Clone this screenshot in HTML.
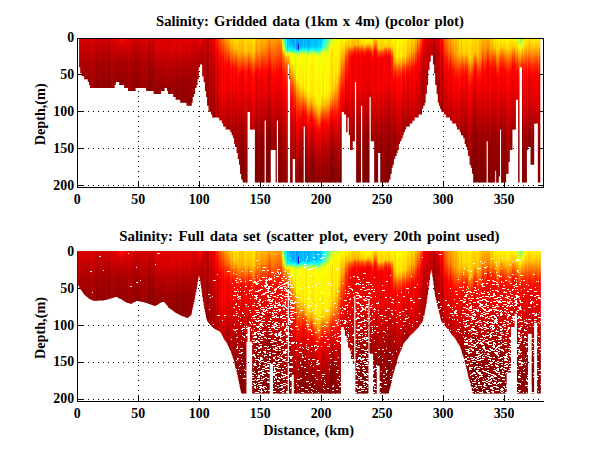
<!DOCTYPE html>
<html><head><meta charset="utf-8"><title>Salinity</title>
<style>
html,body{margin:0;padding:0;background:#fff;}
body{width:600px;height:451px;overflow:hidden;}
svg{display:block}
text{font-family:"Liberation Serif",serif;font-weight:bold;fill:#000;}
</style></head><body>
<svg width="600" height="451" viewBox="0 0 600 451">
<defs>
<linearGradient id="gb" gradientUnits="userSpaceOnUse" x1="0" y1="38" x2="0" y2="188"/>

<linearGradient id="g0" href="#gb"><stop offset="0.000" stop-color="#db0000"/><stop offset="0.233" stop-color="#a20000"/></linearGradient>
<linearGradient id="g1" href="#gb"><stop offset="0.000" stop-color="#d50000"/><stop offset="0.247" stop-color="#a00000"/></linearGradient>
<linearGradient id="g2" href="#gb"><stop offset="0.000" stop-color="#e20000"/><stop offset="0.260" stop-color="#ab0000"/></linearGradient>
<linearGradient id="g3" href="#gb"><stop offset="0.000" stop-color="#d60000"/><stop offset="0.273" stop-color="#9a0000"/></linearGradient>
<linearGradient id="g4" href="#gb"><stop offset="0.000" stop-color="#de0000"/><stop offset="0.147" stop-color="#b50000"/><stop offset="0.287" stop-color="#9e0000"/></linearGradient>
<linearGradient id="g5" href="#gb"><stop offset="0.000" stop-color="#dd0000"/><stop offset="0.147" stop-color="#b50000"/><stop offset="0.293" stop-color="#9d0000"/></linearGradient>
<linearGradient id="g6" href="#gb"><stop offset="0.000" stop-color="#d80000"/><stop offset="0.160" stop-color="#af0000"/><stop offset="0.307" stop-color="#980000"/></linearGradient>
<linearGradient id="g7" href="#gb"><stop offset="0.000" stop-color="#d40000"/><stop offset="0.160" stop-color="#ab0000"/><stop offset="0.313" stop-color="#940000"/></linearGradient>
<linearGradient id="g8" href="#gb"><stop offset="0.000" stop-color="#da0000"/><stop offset="0.153" stop-color="#b10000"/><stop offset="0.320" stop-color="#990000"/></linearGradient>
<linearGradient id="g9" href="#gb"><stop offset="0.000" stop-color="#d90000"/><stop offset="0.160" stop-color="#b00000"/><stop offset="0.327" stop-color="#980000"/></linearGradient>
<linearGradient id="g10" href="#gb"><stop offset="0.000" stop-color="#d60000"/><stop offset="0.160" stop-color="#ad0000"/><stop offset="0.333" stop-color="#940000"/></linearGradient>
<linearGradient id="g11" href="#gb"><stop offset="0.000" stop-color="#d80000"/><stop offset="0.147" stop-color="#af0000"/><stop offset="0.347" stop-color="#930000"/></linearGradient>
<linearGradient id="g12" href="#gb"><stop offset="0.000" stop-color="#e70000"/><stop offset="0.167" stop-color="#bd0000"/><stop offset="0.353" stop-color="#a40000"/></linearGradient>
<linearGradient id="g13" href="#gb"><stop offset="0.000" stop-color="#d90000"/><stop offset="0.173" stop-color="#b00000"/><stop offset="0.353" stop-color="#980000"/></linearGradient>
<linearGradient id="g14" href="#gb"><stop offset="0.000" stop-color="#d60000"/><stop offset="0.180" stop-color="#ad0000"/><stop offset="0.353" stop-color="#950000"/></linearGradient>
<linearGradient id="g15" href="#gb"><stop offset="0.000" stop-color="#cf0000"/><stop offset="0.173" stop-color="#a60000"/><stop offset="0.353" stop-color="#8e0000"/></linearGradient>
<linearGradient id="g16" href="#gb"><stop offset="0.000" stop-color="#ca0000"/><stop offset="0.160" stop-color="#a00000"/><stop offset="0.353" stop-color="#860000"/></linearGradient>
<linearGradient id="g17" href="#gb"><stop offset="0.000" stop-color="#d20000"/><stop offset="0.153" stop-color="#a90000"/><stop offset="0.353" stop-color="#8e0000"/></linearGradient>
<linearGradient id="g18" href="#gb"><stop offset="0.000" stop-color="#d60000"/><stop offset="0.147" stop-color="#ac0000"/><stop offset="0.353" stop-color="#900000"/></linearGradient>
<linearGradient id="g19" href="#gb"><stop offset="0.000" stop-color="#dc0000"/><stop offset="0.160" stop-color="#b30000"/><stop offset="0.353" stop-color="#990000"/></linearGradient>
<linearGradient id="g20" href="#gb"><stop offset="0.000" stop-color="#d60000"/><stop offset="0.160" stop-color="#ac0000"/><stop offset="0.353" stop-color="#920000"/></linearGradient>
<linearGradient id="g21" href="#gb"><stop offset="0.000" stop-color="#d10000"/><stop offset="0.147" stop-color="#a80000"/><stop offset="0.353" stop-color="#8c0000"/></linearGradient>
<linearGradient id="g22" href="#gb"><stop offset="0.000" stop-color="#ce0000"/><stop offset="0.153" stop-color="#a50000"/><stop offset="0.353" stop-color="#8a0000"/></linearGradient>
<linearGradient id="g23" href="#gb"><stop offset="0.000" stop-color="#dc0000"/><stop offset="0.173" stop-color="#b30000"/><stop offset="0.353" stop-color="#9b0000"/></linearGradient>
<linearGradient id="g24" href="#gb"><stop offset="0.000" stop-color="#d50000"/><stop offset="0.173" stop-color="#ab0000"/><stop offset="0.353" stop-color="#940000"/></linearGradient>
<linearGradient id="g25" href="#gb"><stop offset="0.000" stop-color="#d10000"/><stop offset="0.153" stop-color="#a80000"/><stop offset="0.353" stop-color="#8d0000"/></linearGradient>
<linearGradient id="g26" href="#gb"><stop offset="0.000" stop-color="#cb0000"/><stop offset="0.153" stop-color="#a10000"/><stop offset="0.353" stop-color="#860000"/></linearGradient>
<linearGradient id="g27" href="#gb"><stop offset="0.000" stop-color="#d50000"/><stop offset="0.167" stop-color="#ab0000"/><stop offset="0.353" stop-color="#920000"/></linearGradient>
<linearGradient id="g28" href="#gb"><stop offset="0.000" stop-color="#da0000"/><stop offset="0.167" stop-color="#b00000"/><stop offset="0.353" stop-color="#970000"/></linearGradient>
<linearGradient id="g29" href="#gb"><stop offset="0.000" stop-color="#de0000"/><stop offset="0.153" stop-color="#b10000"/><stop offset="0.353" stop-color="#960000"/></linearGradient>
<linearGradient id="g30" href="#gb"><stop offset="0.000" stop-color="#e10000"/><stop offset="0.153" stop-color="#b00000"/><stop offset="0.353" stop-color="#940000"/></linearGradient>
<linearGradient id="g31" href="#gb"><stop offset="0.000" stop-color="#e80000"/><stop offset="0.167" stop-color="#b10000"/><stop offset="0.327" stop-color="#9a0000"/></linearGradient>
<linearGradient id="g32" href="#gb"><stop offset="0.000" stop-color="#e40000"/><stop offset="0.180" stop-color="#a90000"/><stop offset="0.320" stop-color="#930000"/></linearGradient>
<linearGradient id="g33" href="#gb"><stop offset="0.000" stop-color="#e80000"/><stop offset="0.040" stop-color="#cf0000"/><stop offset="0.160" stop-color="#a70000"/><stop offset="0.320" stop-color="#8f0000"/></linearGradient>
<linearGradient id="g34" href="#gb"><stop offset="0.000" stop-color="#f80000"/><stop offset="0.040" stop-color="#d60000"/><stop offset="0.147" stop-color="#aa0000"/><stop offset="0.327" stop-color="#8f0000"/></linearGradient>
<linearGradient id="g35" href="#gb"><stop offset="0.000" stop-color="#ff0800"/><stop offset="0.060" stop-color="#cd0000"/><stop offset="0.147" stop-color="#aa0000"/><stop offset="0.327" stop-color="#8c0000"/></linearGradient>
<linearGradient id="g36" href="#gb"><stop offset="0.000" stop-color="#ff2400"/><stop offset="0.020" stop-color="#ff0000"/><stop offset="0.053" stop-color="#db0000"/><stop offset="0.133" stop-color="#b50000"/><stop offset="0.247" stop-color="#9c0000"/><stop offset="0.333" stop-color="#950000"/></linearGradient>
<linearGradient id="g37" href="#gb"><stop offset="0.000" stop-color="#ff1300"/><stop offset="0.013" stop-color="#fe0000"/><stop offset="0.060" stop-color="#d10000"/><stop offset="0.140" stop-color="#ae0000"/><stop offset="0.247" stop-color="#970000"/><stop offset="0.340" stop-color="#900000"/></linearGradient>
<linearGradient id="g38" href="#gb"><stop offset="0.000" stop-color="#ff0500"/><stop offset="0.060" stop-color="#d40000"/><stop offset="0.147" stop-color="#b10000"/><stop offset="0.347" stop-color="#940000"/></linearGradient>
<linearGradient id="g39" href="#gb"><stop offset="0.000" stop-color="#f00000"/><stop offset="0.040" stop-color="#d70000"/><stop offset="0.167" stop-color="#ad0000"/><stop offset="0.353" stop-color="#940000"/></linearGradient>
<linearGradient id="g40" href="#gb"><stop offset="0.000" stop-color="#e40000"/><stop offset="0.167" stop-color="#a60000"/><stop offset="0.353" stop-color="#8d0000"/></linearGradient>
<linearGradient id="g41" href="#gb"><stop offset="0.000" stop-color="#e70000"/><stop offset="0.147" stop-color="#ad0000"/><stop offset="0.360" stop-color="#910000"/></linearGradient>
<linearGradient id="g42" href="#gb"><stop offset="0.000" stop-color="#ee0000"/><stop offset="0.160" stop-color="#b80000"/><stop offset="0.373" stop-color="#9d0000"/></linearGradient>
<linearGradient id="g43" href="#gb"><stop offset="0.000" stop-color="#e00000"/><stop offset="0.160" stop-color="#af0000"/><stop offset="0.373" stop-color="#930000"/></linearGradient>
<linearGradient id="g44" href="#gb"><stop offset="0.000" stop-color="#de0000"/><stop offset="0.147" stop-color="#b10000"/><stop offset="0.373" stop-color="#940000"/></linearGradient>
<linearGradient id="g45" href="#gb"><stop offset="0.000" stop-color="#df0000"/><stop offset="0.147" stop-color="#b60000"/><stop offset="0.373" stop-color="#990000"/></linearGradient>
<linearGradient id="g46" href="#gb"><stop offset="0.000" stop-color="#db0000"/><stop offset="0.153" stop-color="#b20000"/><stop offset="0.373" stop-color="#950000"/></linearGradient>
<linearGradient id="g47" href="#gb"><stop offset="0.000" stop-color="#d00000"/><stop offset="0.153" stop-color="#a70000"/><stop offset="0.373" stop-color="#8a0000"/></linearGradient>
<linearGradient id="g48" href="#gb"><stop offset="0.000" stop-color="#cc0000"/><stop offset="0.160" stop-color="#a20000"/><stop offset="0.353" stop-color="#880000"/></linearGradient>
<linearGradient id="g49" href="#gb"><stop offset="0.000" stop-color="#d90000"/><stop offset="0.140" stop-color="#b00000"/><stop offset="0.353" stop-color="#940000"/></linearGradient>
<linearGradient id="g50" href="#gb"><stop offset="0.000" stop-color="#d00000"/><stop offset="0.147" stop-color="#a70000"/><stop offset="0.353" stop-color="#8b0000"/></linearGradient>
<linearGradient id="g51" href="#gb"><stop offset="0.000" stop-color="#cf0000"/><stop offset="0.173" stop-color="#a50000"/><stop offset="0.353" stop-color="#8d0000"/></linearGradient>
<linearGradient id="g52" href="#gb"><stop offset="0.000" stop-color="#dd0000"/><stop offset="0.173" stop-color="#b50000"/><stop offset="0.353" stop-color="#9d0000"/></linearGradient>
<linearGradient id="g53" href="#gb"><stop offset="0.000" stop-color="#d60000"/><stop offset="0.180" stop-color="#ad0000"/><stop offset="0.353" stop-color="#960000"/></linearGradient>
<linearGradient id="g54" href="#gb"><stop offset="0.000" stop-color="#d60000"/><stop offset="0.180" stop-color="#ad0000"/><stop offset="0.353" stop-color="#960000"/></linearGradient>
<linearGradient id="g55" href="#gb"><stop offset="0.000" stop-color="#d50000"/><stop offset="0.180" stop-color="#ac0000"/><stop offset="0.353" stop-color="#950000"/></linearGradient>
<linearGradient id="g56" href="#gb"><stop offset="0.000" stop-color="#e00000"/><stop offset="0.160" stop-color="#b70000"/><stop offset="0.360" stop-color="#9c0000"/></linearGradient>
<linearGradient id="g57" href="#gb"><stop offset="0.000" stop-color="#d80000"/><stop offset="0.167" stop-color="#af0000"/><stop offset="0.373" stop-color="#940000"/></linearGradient>
<linearGradient id="g58" href="#gb"><stop offset="0.000" stop-color="#d00000"/><stop offset="0.153" stop-color="#a60000"/><stop offset="0.373" stop-color="#890000"/></linearGradient>
<linearGradient id="g59" href="#gb"><stop offset="0.000" stop-color="#ce0000"/><stop offset="0.147" stop-color="#a50000"/><stop offset="0.373" stop-color="#880000"/></linearGradient>
<linearGradient id="g60" href="#gb"><stop offset="0.000" stop-color="#cc0000"/><stop offset="0.220" stop-color="#930000"/><stop offset="0.373" stop-color="#840000"/></linearGradient>
<linearGradient id="g61" href="#gb"><stop offset="0.000" stop-color="#dc0000"/><stop offset="0.173" stop-color="#b00000"/><stop offset="0.373" stop-color="#940000"/></linearGradient>
<linearGradient id="g62" href="#gb"><stop offset="0.000" stop-color="#d10000"/><stop offset="0.193" stop-color="#a40000"/><stop offset="0.373" stop-color="#8a0000"/></linearGradient>
<linearGradient id="g63" href="#gb"><stop offset="0.000" stop-color="#da0000"/><stop offset="0.180" stop-color="#ae0000"/><stop offset="0.393" stop-color="#8f0000"/></linearGradient>
<linearGradient id="g64" href="#gb"><stop offset="0.000" stop-color="#e90000"/><stop offset="0.100" stop-color="#d90000"/><stop offset="0.193" stop-color="#bb0000"/><stop offset="0.393" stop-color="#9d0000"/></linearGradient>
<linearGradient id="g65" href="#gb"><stop offset="0.000" stop-color="#de0000"/><stop offset="0.287" stop-color="#9a0000"/><stop offset="0.393" stop-color="#8e0000"/></linearGradient>
<linearGradient id="g66" href="#gb"><stop offset="0.000" stop-color="#e70000"/><stop offset="0.093" stop-color="#d80000"/><stop offset="0.173" stop-color="#b90000"/><stop offset="0.307" stop-color="#9c0000"/><stop offset="0.393" stop-color="#950000"/></linearGradient>
<linearGradient id="g67" href="#gb"><stop offset="0.000" stop-color="#e20000"/><stop offset="0.093" stop-color="#d30000"/><stop offset="0.173" stop-color="#b50000"/><stop offset="0.313" stop-color="#970000"/><stop offset="0.393" stop-color="#900000"/></linearGradient>
<linearGradient id="g68" href="#gb"><stop offset="0.000" stop-color="#e60000"/><stop offset="0.087" stop-color="#d70000"/><stop offset="0.167" stop-color="#b80000"/><stop offset="0.293" stop-color="#9a0000"/><stop offset="0.380" stop-color="#930000"/></linearGradient>
<linearGradient id="g69" href="#gb"><stop offset="0.000" stop-color="#de0000"/><stop offset="0.093" stop-color="#ce0000"/><stop offset="0.173" stop-color="#b00000"/><stop offset="0.307" stop-color="#920000"/><stop offset="0.373" stop-color="#8d0000"/></linearGradient>
<linearGradient id="g70" href="#gb"><stop offset="0.000" stop-color="#e40000"/><stop offset="0.373" stop-color="#950000"/></linearGradient>
<linearGradient id="g71" href="#gb"><stop offset="0.000" stop-color="#e70000"/><stop offset="0.093" stop-color="#d80000"/><stop offset="0.173" stop-color="#ba0000"/><stop offset="0.313" stop-color="#9b0000"/><stop offset="0.373" stop-color="#960000"/></linearGradient>
<linearGradient id="g72" href="#gb"><stop offset="0.000" stop-color="#e00000"/><stop offset="0.360" stop-color="#900000"/></linearGradient>
<linearGradient id="g73" href="#gb"><stop offset="0.000" stop-color="#e40000"/><stop offset="0.093" stop-color="#d50000"/><stop offset="0.180" stop-color="#b50000"/><stop offset="0.367" stop-color="#940000"/></linearGradient>
<linearGradient id="g74" href="#gb"><stop offset="0.000" stop-color="#e80000"/><stop offset="0.380" stop-color="#990000"/></linearGradient>
<linearGradient id="g75" href="#gb"><stop offset="0.000" stop-color="#de0000"/><stop offset="0.387" stop-color="#8e0000"/></linearGradient>
<linearGradient id="g76" href="#gb"><stop offset="0.000" stop-color="#e80000"/><stop offset="0.100" stop-color="#d80000"/><stop offset="0.187" stop-color="#b90000"/><stop offset="0.327" stop-color="#9c0000"/><stop offset="0.400" stop-color="#960000"/></linearGradient>
<linearGradient id="g77" href="#gb"><stop offset="0.000" stop-color="#e90000"/><stop offset="0.100" stop-color="#da0000"/><stop offset="0.187" stop-color="#bb0000"/><stop offset="0.327" stop-color="#9e0000"/><stop offset="0.400" stop-color="#980000"/></linearGradient>
<linearGradient id="g78" href="#gb"><stop offset="0.000" stop-color="#e90000"/><stop offset="0.093" stop-color="#da0000"/><stop offset="0.180" stop-color="#bb0000"/><stop offset="0.320" stop-color="#9d0000"/><stop offset="0.407" stop-color="#960000"/></linearGradient>
<linearGradient id="g79" href="#gb"><stop offset="0.000" stop-color="#ee0000"/><stop offset="0.087" stop-color="#df0000"/><stop offset="0.160" stop-color="#c10000"/><stop offset="0.287" stop-color="#a30000"/><stop offset="0.413" stop-color="#980000"/></linearGradient>
<linearGradient id="g80" href="#gb"><stop offset="0.000" stop-color="#e90000"/><stop offset="0.093" stop-color="#da0000"/><stop offset="0.180" stop-color="#bb0000"/><stop offset="0.320" stop-color="#9d0000"/><stop offset="0.420" stop-color="#950000"/></linearGradient>
<linearGradient id="g81" href="#gb"><stop offset="0.000" stop-color="#da0000"/><stop offset="0.087" stop-color="#cb0000"/><stop offset="0.167" stop-color="#ad0000"/><stop offset="0.300" stop-color="#8e0000"/><stop offset="0.427" stop-color="#840000"/></linearGradient>
<linearGradient id="g82" href="#gb"><stop offset="0.000" stop-color="#eb0000"/><stop offset="0.087" stop-color="#dc0000"/><stop offset="0.167" stop-color="#bd0000"/><stop offset="0.300" stop-color="#9f0000"/><stop offset="0.433" stop-color="#940000"/></linearGradient>
<linearGradient id="g83" href="#gb"><stop offset="0.000" stop-color="#e50000"/><stop offset="0.093" stop-color="#d70000"/><stop offset="0.180" stop-color="#b80000"/><stop offset="0.327" stop-color="#990000"/><stop offset="0.433" stop-color="#910000"/></linearGradient>
<linearGradient id="g84" href="#gb"><stop offset="0.000" stop-color="#ec0000"/><stop offset="0.087" stop-color="#de0000"/><stop offset="0.167" stop-color="#bf0000"/><stop offset="0.300" stop-color="#a10000"/><stop offset="0.440" stop-color="#950000"/></linearGradient>
<linearGradient id="g85" href="#gb"><stop offset="0.000" stop-color="#e90000"/><stop offset="0.093" stop-color="#d90000"/><stop offset="0.173" stop-color="#bb0000"/><stop offset="0.307" stop-color="#9d0000"/><stop offset="0.453" stop-color="#920000"/></linearGradient>
<linearGradient id="g86" href="#gb"><stop offset="0.000" stop-color="#dc0000"/><stop offset="0.100" stop-color="#cd0000"/><stop offset="0.187" stop-color="#ae0000"/><stop offset="0.333" stop-color="#900000"/><stop offset="0.453" stop-color="#870000"/></linearGradient>
<linearGradient id="g87" href="#gb"><stop offset="0.000" stop-color="#e00000"/><stop offset="0.093" stop-color="#d10000"/><stop offset="0.180" stop-color="#b20000"/><stop offset="0.320" stop-color="#950000"/><stop offset="0.453" stop-color="#8a0000"/></linearGradient>
<linearGradient id="g88" href="#gb"><stop offset="0.000" stop-color="#e90000"/><stop offset="0.087" stop-color="#da0000"/><stop offset="0.167" stop-color="#bb0000"/><stop offset="0.293" stop-color="#9e0000"/><stop offset="0.453" stop-color="#920000"/></linearGradient>
<linearGradient id="g89" href="#gb"><stop offset="0.000" stop-color="#e50000"/><stop offset="0.073" stop-color="#d60000"/><stop offset="0.140" stop-color="#b80000"/><stop offset="0.280" stop-color="#990000"/><stop offset="0.453" stop-color="#8e0000"/></linearGradient>
<linearGradient id="g90" href="#gb"><stop offset="0.000" stop-color="#eb0000"/><stop offset="0.280" stop-color="#9e0000"/><stop offset="0.473" stop-color="#920000"/></linearGradient>
<linearGradient id="g91" href="#gb"><stop offset="0.000" stop-color="#ea0000"/><stop offset="0.087" stop-color="#db0000"/><stop offset="0.160" stop-color="#bd0000"/><stop offset="0.293" stop-color="#9e0000"/><stop offset="0.473" stop-color="#920000"/></linearGradient>
<linearGradient id="g92" href="#gb"><stop offset="0.000" stop-color="#eb0000"/><stop offset="0.087" stop-color="#dc0000"/><stop offset="0.167" stop-color="#bd0000"/><stop offset="0.293" stop-color="#a00000"/><stop offset="0.473" stop-color="#930000"/></linearGradient>
<linearGradient id="g93" href="#gb"><stop offset="0.000" stop-color="#ea0000"/><stop offset="0.287" stop-color="#9f0000"/><stop offset="0.473" stop-color="#930000"/></linearGradient>
<linearGradient id="g94" href="#gb"><stop offset="0.000" stop-color="#e10000"/><stop offset="0.307" stop-color="#980000"/><stop offset="0.447" stop-color="#8d0000"/></linearGradient>
<linearGradient id="g95" href="#gb"><stop offset="0.000" stop-color="#dd0000"/><stop offset="0.173" stop-color="#af0000"/><stop offset="0.413" stop-color="#8d0000"/></linearGradient>
<linearGradient id="g96" href="#gb"><stop offset="0.000" stop-color="#dc0000"/><stop offset="0.173" stop-color="#ad0000"/><stop offset="0.387" stop-color="#900000"/></linearGradient>
<linearGradient id="g97" href="#gb"><stop offset="0.000" stop-color="#de0000"/><stop offset="0.180" stop-color="#b00000"/><stop offset="0.353" stop-color="#980000"/></linearGradient>
<linearGradient id="g98" href="#gb"><stop offset="0.000" stop-color="#e40000"/><stop offset="0.167" stop-color="#b70000"/><stop offset="0.320" stop-color="#a00000"/></linearGradient>
<linearGradient id="g99" href="#gb"><stop offset="0.000" stop-color="#f40000"/><stop offset="0.053" stop-color="#d20000"/><stop offset="0.113" stop-color="#bd0000"/><stop offset="0.280" stop-color="#a10000"/></linearGradient>
<linearGradient id="g100" href="#gb"><stop offset="0.000" stop-color="#ff1400"/><stop offset="0.020" stop-color="#fe0000"/><stop offset="0.067" stop-color="#d60000"/><stop offset="0.133" stop-color="#bf0000"/><stop offset="0.207" stop-color="#b60000"/></linearGradient>
<linearGradient id="g101" href="#gb"><stop offset="0.000" stop-color="#ff1a00"/><stop offset="0.020" stop-color="#ff0000"/><stop offset="0.067" stop-color="#cc0000"/><stop offset="0.133" stop-color="#b30000"/><stop offset="0.227" stop-color="#ac0000"/></linearGradient>
<linearGradient id="g102" href="#gb"><stop offset="0.000" stop-color="#ff0100"/><stop offset="0.060" stop-color="#c90000"/><stop offset="0.113" stop-color="#b70000"/><stop offset="0.280" stop-color="#a70000"/></linearGradient>
<linearGradient id="g103" href="#gb"><stop offset="0.000" stop-color="#e30000"/><stop offset="0.053" stop-color="#c70000"/><stop offset="0.113" stop-color="#b70000"/><stop offset="0.340" stop-color="#a10000"/></linearGradient>
<linearGradient id="g104" href="#gb"><stop offset="0.000" stop-color="#d20000"/><stop offset="0.220" stop-color="#b00000"/><stop offset="0.393" stop-color="#a60000"/></linearGradient>
<linearGradient id="g105" href="#gb"><stop offset="0.000" stop-color="#e20000"/><stop offset="0.233" stop-color="#c40000"/><stop offset="0.433" stop-color="#b90000"/></linearGradient>
<linearGradient id="g106" href="#gb"><stop offset="0.000" stop-color="#bc0000"/><stop offset="0.227" stop-color="#a20000"/><stop offset="0.473" stop-color="#940000"/></linearGradient>
<linearGradient id="g107" href="#gb"><stop offset="0.000" stop-color="#bf0000"/><stop offset="0.207" stop-color="#a20000"/><stop offset="0.480" stop-color="#910000"/></linearGradient>
<linearGradient id="g108" href="#gb"><stop offset="0.000" stop-color="#e90000"/><stop offset="0.200" stop-color="#c80000"/><stop offset="0.500" stop-color="#b20000"/></linearGradient>
<linearGradient id="g109" href="#gb"><stop offset="0.000" stop-color="#df0000"/><stop offset="0.213" stop-color="#b90000"/><stop offset="0.513" stop-color="#a30000"/></linearGradient>
<linearGradient id="g110" href="#gb"><stop offset="0.000" stop-color="#dd0000"/><stop offset="0.073" stop-color="#c60000"/><stop offset="0.220" stop-color="#b10000"/><stop offset="0.527" stop-color="#990000"/></linearGradient>
<linearGradient id="g111" href="#gb"><stop offset="0.000" stop-color="#ff0600"/><stop offset="0.147" stop-color="#da0000"/><stop offset="0.540" stop-color="#b30000"/></linearGradient>
<linearGradient id="g112" href="#gb"><stop offset="0.000" stop-color="#ee0000"/><stop offset="0.053" stop-color="#d50000"/><stop offset="0.147" stop-color="#bd0000"/><stop offset="0.547" stop-color="#910000"/></linearGradient>
<linearGradient id="g113" href="#gb"><stop offset="0.000" stop-color="#ff1600"/><stop offset="0.040" stop-color="#ff0000"/><stop offset="0.147" stop-color="#dc0000"/><stop offset="0.547" stop-color="#ad0000"/></linearGradient>
<linearGradient id="g114" href="#gb"><stop offset="0.000" stop-color="#ff2d00"/><stop offset="0.093" stop-color="#ff0000"/><stop offset="0.153" stop-color="#eb0000"/><stop offset="0.553" stop-color="#bb0000"/></linearGradient>
<linearGradient id="g115" href="#gb"><stop offset="0.000" stop-color="#ff1f00"/><stop offset="0.053" stop-color="#fc0000"/><stop offset="0.140" stop-color="#d70000"/><stop offset="0.193" stop-color="#cc0000"/><stop offset="0.553" stop-color="#9c0000"/></linearGradient>
<linearGradient id="g116" href="#gb"><stop offset="0.000" stop-color="#ff3d00"/><stop offset="0.100" stop-color="#ff0100"/><stop offset="0.200" stop-color="#de0000"/><stop offset="0.320" stop-color="#d80000"/><stop offset="0.553" stop-color="#ad0000"/></linearGradient>
<linearGradient id="g117" href="#gb"><stop offset="0.000" stop-color="#ff5900"/><stop offset="0.127" stop-color="#ff0b00"/><stop offset="0.160" stop-color="#fe0000"/><stop offset="0.213" stop-color="#ef0000"/><stop offset="0.340" stop-color="#ed0000"/><stop offset="0.560" stop-color="#c00000"/></linearGradient>
<linearGradient id="g118" href="#gb"><stop offset="0.000" stop-color="#ff5700"/><stop offset="0.127" stop-color="#ff0000"/><stop offset="0.213" stop-color="#e20000"/><stop offset="0.333" stop-color="#e40000"/><stop offset="0.567" stop-color="#ae0000"/></linearGradient>
<linearGradient id="g119" href="#gb"><stop offset="0.000" stop-color="#ff8900"/><stop offset="0.113" stop-color="#ff2e00"/><stop offset="0.193" stop-color="#ff0a00"/><stop offset="0.300" stop-color="#ff0e00"/><stop offset="0.367" stop-color="#ff0000"/><stop offset="0.580" stop-color="#c20000"/></linearGradient>
<linearGradient id="g120" href="#gb"><stop offset="0.000" stop-color="#ff6a00"/><stop offset="0.140" stop-color="#ff0000"/><stop offset="0.207" stop-color="#df0000"/><stop offset="0.333" stop-color="#de0000"/><stop offset="0.613" stop-color="#980000"/></linearGradient>
<linearGradient id="g121" href="#gb"><stop offset="0.000" stop-color="#ff9800"/><stop offset="0.120" stop-color="#ff3300"/><stop offset="0.193" stop-color="#ff0400"/><stop offset="0.320" stop-color="#fe0000"/><stop offset="0.613" stop-color="#b20000"/></linearGradient>
<linearGradient id="g122" href="#gb"><stop offset="0.000" stop-color="#ff9a00"/><stop offset="0.180" stop-color="#fe0000"/><stop offset="0.387" stop-color="#e20000"/><stop offset="0.620" stop-color="#a20000"/></linearGradient>
<linearGradient id="g123" href="#gb"><stop offset="0.000" stop-color="#ffb000"/><stop offset="0.053" stop-color="#ff8600"/><stop offset="0.187" stop-color="#ff0300"/><stop offset="0.307" stop-color="#f90000"/><stop offset="0.633" stop-color="#a40000"/></linearGradient>
<linearGradient id="g124" href="#gb"><stop offset="0.000" stop-color="#ffb100"/><stop offset="0.047" stop-color="#ff8a00"/><stop offset="0.160" stop-color="#ff0100"/><stop offset="0.353" stop-color="#e00000"/><stop offset="0.653" stop-color="#940000"/></linearGradient>
<linearGradient id="g125" href="#gb"><stop offset="0.000" stop-color="#ffb400"/><stop offset="0.060" stop-color="#ff8800"/><stop offset="0.173" stop-color="#ff0200"/><stop offset="0.367" stop-color="#db0000"/><stop offset="0.667" stop-color="#8c0000"/></linearGradient>
<linearGradient id="g126" href="#gb"><stop offset="0.000" stop-color="#ffd100"/><stop offset="0.067" stop-color="#ffa800"/><stop offset="0.207" stop-color="#ff0c00"/><stop offset="0.320" stop-color="#ff0000"/><stop offset="0.687" stop-color="#a60000"/></linearGradient>
<linearGradient id="g127" href="#gb"><stop offset="0.000" stop-color="#ffc600"/><stop offset="0.067" stop-color="#ffa100"/><stop offset="0.193" stop-color="#ff0100"/><stop offset="0.387" stop-color="#dc0000"/><stop offset="0.713" stop-color="#8c0000"/></linearGradient>
<linearGradient id="g128" href="#gb"><stop offset="0.000" stop-color="#ffdc00"/><stop offset="0.067" stop-color="#ffbb00"/><stop offset="0.207" stop-color="#ff0800"/><stop offset="0.320" stop-color="#f80000"/><stop offset="0.633" stop-color="#a70000"/><stop offset="0.733" stop-color="#970000"/></linearGradient>
<linearGradient id="g129" href="#gb"><stop offset="0.000" stop-color="#ffe200"/><stop offset="0.067" stop-color="#ffc300"/><stop offset="0.200" stop-color="#ff0f00"/><stop offset="0.307" stop-color="#fd0000"/><stop offset="0.607" stop-color="#ac0000"/><stop offset="0.767" stop-color="#970000"/></linearGradient>
<linearGradient id="g130" href="#gb"><stop offset="0.000" stop-color="#ffdb00"/><stop offset="0.067" stop-color="#ffbc00"/><stop offset="0.187" stop-color="#ff1100"/><stop offset="0.213" stop-color="#ff0400"/><stop offset="0.360" stop-color="#e90000"/><stop offset="0.593" stop-color="#a60000"/><stop offset="0.800" stop-color="#8e0000"/></linearGradient>
<linearGradient id="g131" href="#gb"><stop offset="0.000" stop-color="#ffe200"/><stop offset="0.073" stop-color="#ffc300"/><stop offset="0.193" stop-color="#ff2000"/><stop offset="0.220" stop-color="#ff0d00"/><stop offset="0.313" stop-color="#ff0000"/><stop offset="0.607" stop-color="#af0000"/><stop offset="0.833" stop-color="#950000"/></linearGradient>
<linearGradient id="g132" href="#gb"><stop offset="0.000" stop-color="#ffde00"/><stop offset="0.087" stop-color="#ffc200"/><stop offset="0.220" stop-color="#ff2400"/><stop offset="0.253" stop-color="#ff0a00"/><stop offset="0.347" stop-color="#fe0000"/><stop offset="0.660" stop-color="#ad0000"/><stop offset="0.867" stop-color="#950000"/></linearGradient>
<linearGradient id="g133" href="#gb"><stop offset="0.000" stop-color="#ffc600"/><stop offset="0.093" stop-color="#ffab00"/><stop offset="0.240" stop-color="#ff0100"/><stop offset="0.253" stop-color="#f30000"/><stop offset="0.420" stop-color="#da0000"/><stop offset="0.660" stop-color="#980000"/><stop offset="0.907" stop-color="#800000"/></linearGradient>
<linearGradient id="g134" href="#gb"><stop offset="0.000" stop-color="#ffd300"/><stop offset="0.080" stop-color="#ffbf00"/><stop offset="0.133" stop-color="#ff8200"/><stop offset="0.227" stop-color="#ff0300"/><stop offset="0.387" stop-color="#e70000"/><stop offset="0.627" stop-color="#a50000"/><stop offset="0.940" stop-color="#840000"/></linearGradient>
<linearGradient id="g135" href="#gb"><stop offset="0.000" stop-color="#ffc400"/><stop offset="0.087" stop-color="#ffaa00"/><stop offset="0.220" stop-color="#ff0000"/><stop offset="0.240" stop-color="#f10000"/><stop offset="0.393" stop-color="#d70000"/><stop offset="0.640" stop-color="#950000"/><stop offset="0.813" stop-color="#800000"/><stop offset="0.967" stop-color="#800000"/></linearGradient>
<linearGradient id="g136" href="#gb"><stop offset="0.000" stop-color="#ffcd00"/><stop offset="0.080" stop-color="#ffb800"/><stop offset="0.227" stop-color="#fd0000"/><stop offset="0.380" stop-color="#e10000"/><stop offset="0.627" stop-color="#9d0000"/><stop offset="0.720" stop-color="#8e0000"/><stop offset="0.980" stop-color="#800000"/></linearGradient>
<linearGradient id="g137" href="#gb"><stop offset="0.000" stop-color="#ffe000"/><stop offset="0.087" stop-color="#ffc200"/><stop offset="0.180" stop-color="#ff3f00"/><stop offset="0.213" stop-color="#ff1600"/><stop offset="0.233" stop-color="#ff0b00"/><stop offset="0.313" stop-color="#fe0000"/><stop offset="0.687" stop-color="#a10000"/><stop offset="0.980" stop-color="#8c0000"/></linearGradient>
<linearGradient id="g138" href="#gb"><stop offset="0.000" stop-color="#ffeb00"/><stop offset="0.093" stop-color="#ffce00"/><stop offset="0.193" stop-color="#ff4c00"/><stop offset="0.247" stop-color="#ff1700"/><stop offset="0.387" stop-color="#ff0000"/><stop offset="0.653" stop-color="#ba0000"/><stop offset="0.980" stop-color="#990000"/></linearGradient>
<linearGradient id="g139" href="#gb"><stop offset="0.000" stop-color="#ffdc00"/><stop offset="0.093" stop-color="#ffbf00"/><stop offset="0.187" stop-color="#ff3e00"/><stop offset="0.240" stop-color="#ff0800"/><stop offset="0.313" stop-color="#fd0000"/><stop offset="0.713" stop-color="#9d0000"/><stop offset="0.980" stop-color="#880000"/></linearGradient>
<linearGradient id="g140" href="#gb"><stop offset="0.000" stop-color="#ffd100"/><stop offset="0.080" stop-color="#ffb600"/><stop offset="0.167" stop-color="#ff3100"/><stop offset="0.207" stop-color="#ff0100"/><stop offset="0.353" stop-color="#e20000"/><stop offset="0.593" stop-color="#a00000"/><stop offset="0.687" stop-color="#910000"/><stop offset="0.980" stop-color="#800000"/></linearGradient>
<linearGradient id="g141" href="#gb"><stop offset="0.000" stop-color="#ffd500"/><stop offset="0.080" stop-color="#ffbb00"/><stop offset="0.167" stop-color="#ff3600"/><stop offset="0.213" stop-color="#ff0000"/><stop offset="0.353" stop-color="#e50000"/><stop offset="0.593" stop-color="#a30000"/><stop offset="0.980" stop-color="#800000"/></linearGradient>
<linearGradient id="g142" href="#gb"><stop offset="0.000" stop-color="#ffe000"/><stop offset="0.093" stop-color="#ffc200"/><stop offset="0.180" stop-color="#ff4400"/><stop offset="0.233" stop-color="#ff0a00"/><stop offset="0.307" stop-color="#ff0000"/><stop offset="0.700" stop-color="#9e0000"/><stop offset="0.980" stop-color="#8a0000"/></linearGradient>
<linearGradient id="g143" href="#gb"><stop offset="0.000" stop-color="#ffca00"/><stop offset="0.093" stop-color="#ffb000"/><stop offset="0.187" stop-color="#ff2f00"/><stop offset="0.233" stop-color="#fc0000"/><stop offset="0.633" stop-color="#970000"/><stop offset="0.827" stop-color="#800000"/><stop offset="0.980" stop-color="#800000"/></linearGradient>
<linearGradient id="g144" href="#gb"><stop offset="0.000" stop-color="#ffe900"/><stop offset="0.100" stop-color="#ffcc00"/><stop offset="0.200" stop-color="#ff4c00"/><stop offset="0.260" stop-color="#ff1500"/><stop offset="0.393" stop-color="#ff0000"/><stop offset="0.660" stop-color="#b90000"/><stop offset="0.980" stop-color="#970000"/></linearGradient>
<linearGradient id="g145" href="#gb"><stop offset="0.000" stop-color="#ffe000"/><stop offset="0.093" stop-color="#ffbf00"/><stop offset="0.187" stop-color="#ff4300"/><stop offset="0.240" stop-color="#ff0f00"/><stop offset="0.340" stop-color="#ff0000"/><stop offset="0.627" stop-color="#b30000"/><stop offset="0.720" stop-color="#a40000"/><stop offset="0.980" stop-color="#8f0000"/></linearGradient>
<linearGradient id="g146" href="#gb"><stop offset="0.000" stop-color="#ffcc00"/><stop offset="0.093" stop-color="#ffa800"/><stop offset="0.187" stop-color="#ff3200"/><stop offset="0.240" stop-color="#ff0000"/><stop offset="0.393" stop-color="#e40000"/><stop offset="0.640" stop-color="#a10000"/><stop offset="0.980" stop-color="#800000"/></linearGradient>
<linearGradient id="g147" href="#gb"><stop offset="0.000" stop-color="#ffaf00"/><stop offset="0.087" stop-color="#ff9000"/><stop offset="0.213" stop-color="#ff0100"/><stop offset="0.253" stop-color="#e30000"/><stop offset="0.407" stop-color="#ca0000"/><stop offset="0.660" stop-color="#880000"/><stop offset="0.980" stop-color="#800000"/></linearGradient>
<linearGradient id="g148" href="#gb"><stop offset="0.000" stop-color="#ffc200"/><stop offset="0.080" stop-color="#ffa400"/><stop offset="0.227" stop-color="#fc0000"/><stop offset="0.387" stop-color="#e10000"/><stop offset="0.633" stop-color="#9e0000"/><stop offset="0.980" stop-color="#800000"/></linearGradient>
<linearGradient id="g149" href="#gb"><stop offset="0.000" stop-color="#ffcf00"/><stop offset="0.087" stop-color="#ffab00"/><stop offset="0.180" stop-color="#ff4300"/><stop offset="0.240" stop-color="#ff0c00"/><stop offset="0.340" stop-color="#fe0000"/><stop offset="0.747" stop-color="#a10000"/><stop offset="0.980" stop-color="#8e0000"/></linearGradient>
<linearGradient id="g150" href="#gb"><stop offset="0.000" stop-color="#ffb800"/><stop offset="0.087" stop-color="#ff9200"/><stop offset="0.233" stop-color="#fd0000"/><stop offset="0.407" stop-color="#df0000"/><stop offset="0.660" stop-color="#9c0000"/><stop offset="0.753" stop-color="#8d0000"/><stop offset="0.980" stop-color="#800000"/></linearGradient>
<linearGradient id="g151" href="#gb"><stop offset="0.000" stop-color="#ffb200"/><stop offset="0.080" stop-color="#ff8a00"/><stop offset="0.207" stop-color="#ff0000"/><stop offset="0.693" stop-color="#8c0000"/><stop offset="0.980" stop-color="#800000"/></linearGradient>
<linearGradient id="g152" href="#gb"><stop offset="0.000" stop-color="#ffab00"/><stop offset="0.073" stop-color="#ff8a00"/><stop offset="0.220" stop-color="#fb0000"/><stop offset="0.400" stop-color="#da0000"/><stop offset="0.647" stop-color="#980000"/><stop offset="0.853" stop-color="#800000"/><stop offset="0.980" stop-color="#800000"/></linearGradient>
<linearGradient id="g153" href="#gb"><stop offset="0.000" stop-color="#ffb800"/><stop offset="0.067" stop-color="#ff9700"/><stop offset="0.207" stop-color="#ff0a00"/><stop offset="0.307" stop-color="#f90000"/><stop offset="0.693" stop-color="#990000"/><stop offset="0.980" stop-color="#850000"/></linearGradient>
<linearGradient id="g154" href="#gb"><stop offset="0.000" stop-color="#ffbc00"/><stop offset="0.067" stop-color="#ff9700"/><stop offset="0.200" stop-color="#ff1600"/><stop offset="0.220" stop-color="#ff0c00"/><stop offset="0.307" stop-color="#fd0000"/><stop offset="0.687" stop-color="#9f0000"/><stop offset="0.980" stop-color="#890000"/></linearGradient>
<linearGradient id="g155" href="#gb"><stop offset="0.000" stop-color="#ffb100"/><stop offset="0.067" stop-color="#ff8b00"/><stop offset="0.227" stop-color="#ff0100"/><stop offset="0.387" stop-color="#e40000"/><stop offset="0.633" stop-color="#a10000"/><stop offset="0.980" stop-color="#800000"/></linearGradient>
<linearGradient id="g156" href="#gb"><stop offset="0.000" stop-color="#ffad00"/><stop offset="0.140" stop-color="#ff4e00"/><stop offset="0.227" stop-color="#ff0000"/><stop offset="0.393" stop-color="#e10000"/><stop offset="0.647" stop-color="#9d0000"/><stop offset="0.980" stop-color="#800000"/></linearGradient>
<linearGradient id="g157" href="#gb"><stop offset="0.000" stop-color="#ff9f00"/><stop offset="0.140" stop-color="#ff3a00"/><stop offset="0.200" stop-color="#fe0000"/><stop offset="0.220" stop-color="#ec0000"/><stop offset="0.373" stop-color="#d30000"/><stop offset="0.607" stop-color="#900000"/><stop offset="0.700" stop-color="#800000"/><stop offset="0.980" stop-color="#800000"/></linearGradient>
<linearGradient id="g158" href="#gb"><stop offset="0.000" stop-color="#ff9900"/><stop offset="0.200" stop-color="#fa0000"/><stop offset="0.220" stop-color="#e60000"/><stop offset="0.373" stop-color="#cd0000"/><stop offset="0.667" stop-color="#800000"/><stop offset="0.980" stop-color="#800000"/></linearGradient>
<linearGradient id="g159" href="#gb"><stop offset="0.000" stop-color="#ffb700"/><stop offset="0.147" stop-color="#ff5200"/><stop offset="0.220" stop-color="#ff1100"/><stop offset="0.253" stop-color="#ff0600"/><stop offset="0.380" stop-color="#ef0000"/><stop offset="0.620" stop-color="#ac0000"/><stop offset="0.713" stop-color="#9d0000"/><stop offset="0.980" stop-color="#880000"/></linearGradient>
<linearGradient id="g160" href="#gb"><stop offset="0.000" stop-color="#ffb000"/><stop offset="0.153" stop-color="#ff4f00"/><stop offset="0.240" stop-color="#ff0d00"/><stop offset="0.267" stop-color="#ff0500"/><stop offset="0.407" stop-color="#ec0000"/><stop offset="0.660" stop-color="#aa0000"/><stop offset="0.980" stop-color="#880000"/></linearGradient>
<linearGradient id="g161" href="#gb"><stop offset="0.000" stop-color="#ffa600"/><stop offset="0.080" stop-color="#ff7600"/><stop offset="0.220" stop-color="#ff0e00"/><stop offset="0.253" stop-color="#fe0000"/><stop offset="0.380" stop-color="#e70000"/><stop offset="0.620" stop-color="#a40000"/><stop offset="0.980" stop-color="#800000"/></linearGradient>
<linearGradient id="g162" href="#gb"><stop offset="0.000" stop-color="#ffa500"/><stop offset="0.253" stop-color="#ff0200"/><stop offset="0.373" stop-color="#e90000"/><stop offset="0.613" stop-color="#a60000"/><stop offset="0.980" stop-color="#830000"/></linearGradient>
<linearGradient id="g163" href="#gb"><stop offset="0.000" stop-color="#ff9800"/><stop offset="0.080" stop-color="#ff6e00"/><stop offset="0.240" stop-color="#ff0000"/><stop offset="0.620" stop-color="#9d0000"/><stop offset="0.713" stop-color="#8e0000"/><stop offset="0.980" stop-color="#800000"/></linearGradient>
<linearGradient id="g164" href="#gb"><stop offset="0.000" stop-color="#ff9800"/><stop offset="0.220" stop-color="#fe0000"/><stop offset="0.593" stop-color="#9d0000"/><stop offset="0.867" stop-color="#800000"/><stop offset="0.980" stop-color="#800000"/></linearGradient>
<linearGradient id="g165" href="#gb"><stop offset="0.000" stop-color="#ff9b00"/><stop offset="0.233" stop-color="#ff0a00"/><stop offset="0.267" stop-color="#fe0000"/><stop offset="0.420" stop-color="#e20000"/><stop offset="0.660" stop-color="#a00000"/><stop offset="0.980" stop-color="#800000"/></linearGradient>
<linearGradient id="g166" href="#gb"><stop offset="0.000" stop-color="#ff8e00"/><stop offset="0.220" stop-color="#fd0000"/><stop offset="0.420" stop-color="#d50000"/><stop offset="0.660" stop-color="#930000"/><stop offset="0.800" stop-color="#800000"/><stop offset="0.980" stop-color="#800000"/></linearGradient>
<linearGradient id="g167" href="#gb"><stop offset="0.000" stop-color="#ffa700"/><stop offset="0.200" stop-color="#ff0200"/><stop offset="0.287" stop-color="#f70000"/><stop offset="0.593" stop-color="#a50000"/><stop offset="0.687" stop-color="#960000"/><stop offset="0.980" stop-color="#810000"/></linearGradient>
<linearGradient id="g168" href="#gb"><stop offset="0.000" stop-color="#dcff23"/><stop offset="0.027" stop-color="#fffc00"/><stop offset="0.140" stop-color="#ff5a00"/><stop offset="0.220" stop-color="#ff1900"/><stop offset="0.253" stop-color="#ff0b00"/><stop offset="0.340" stop-color="#fe0000"/><stop offset="0.740" stop-color="#a10000"/><stop offset="0.980" stop-color="#8f0000"/></linearGradient>
<linearGradient id="g169" href="#gb"><stop offset="0.000" stop-color="#66ff99"/><stop offset="0.067" stop-color="#fffb00"/><stop offset="0.133" stop-color="#ff6d00"/><stop offset="0.247" stop-color="#ff1200"/><stop offset="0.353" stop-color="#ff0000"/><stop offset="0.707" stop-color="#a80000"/><stop offset="0.980" stop-color="#930000"/></linearGradient>
<linearGradient id="g170" href="#gb"><stop offset="0.000" stop-color="#1fffe0"/><stop offset="0.053" stop-color="#8fff70"/><stop offset="0.080" stop-color="#d4ff2b"/><stop offset="0.087" stop-color="#efff10"/><stop offset="0.093" stop-color="#fff300"/><stop offset="0.113" stop-color="#ffaa00"/><stop offset="0.133" stop-color="#ff7c00"/><stop offset="0.187" stop-color="#ff4100"/><stop offset="0.247" stop-color="#ff1400"/><stop offset="0.333" stop-color="#fe0000"/><stop offset="0.540" stop-color="#c50000"/><stop offset="0.707" stop-color="#a50000"/><stop offset="0.980" stop-color="#8c0000"/></linearGradient>
<linearGradient id="g171" href="#gb"><stop offset="0.000" stop-color="#00e8ff"/><stop offset="0.027" stop-color="#06fff9"/><stop offset="0.053" stop-color="#23ffdc"/><stop offset="0.080" stop-color="#4fffb0"/><stop offset="0.087" stop-color="#63ff9c"/><stop offset="0.107" stop-color="#e8ff17"/><stop offset="0.113" stop-color="#ffea00"/><stop offset="0.127" stop-color="#ffb700"/><stop offset="0.140" stop-color="#ff9d00"/><stop offset="0.200" stop-color="#ff4900"/><stop offset="0.260" stop-color="#ff2500"/><stop offset="0.333" stop-color="#ff0900"/><stop offset="0.373" stop-color="#fe0000"/><stop offset="0.660" stop-color="#b90000"/><stop offset="0.980" stop-color="#900000"/></linearGradient>
<linearGradient id="g172" href="#gb"><stop offset="0.000" stop-color="#00afff"/><stop offset="0.053" stop-color="#00c4ff"/><stop offset="0.080" stop-color="#00eaff"/><stop offset="0.087" stop-color="#2bffd4"/><stop offset="0.107" stop-color="#e8ff17"/><stop offset="0.113" stop-color="#fff500"/><stop offset="0.120" stop-color="#ffd600"/><stop offset="0.187" stop-color="#ff5f00"/><stop offset="0.313" stop-color="#ff1a00"/><stop offset="0.393" stop-color="#ff0100"/><stop offset="0.547" stop-color="#d40000"/><stop offset="0.980" stop-color="#970000"/></linearGradient>
<linearGradient id="g173" href="#gb"><stop offset="0.000" stop-color="#00c8ff"/><stop offset="0.053" stop-color="#00deff"/><stop offset="0.073" stop-color="#00ffff"/><stop offset="0.080" stop-color="#17ffe8"/><stop offset="0.093" stop-color="#97ff68"/><stop offset="0.107" stop-color="#fffb00"/><stop offset="0.113" stop-color="#ffda00"/><stop offset="0.120" stop-color="#ffc800"/><stop offset="0.187" stop-color="#ff6800"/><stop offset="0.300" stop-color="#ff1200"/><stop offset="0.340" stop-color="#fe0000"/><stop offset="0.567" stop-color="#b20000"/><stop offset="0.907" stop-color="#800000"/><stop offset="0.980" stop-color="#800000"/></linearGradient>
<linearGradient id="g174" href="#gb"><stop offset="0.000" stop-color="#00bcff"/><stop offset="0.053" stop-color="#00d2ff"/><stop offset="0.073" stop-color="#00f8ff"/><stop offset="0.080" stop-color="#11ffee"/><stop offset="0.093" stop-color="#8fff70"/><stop offset="0.107" stop-color="#f1ff0e"/><stop offset="0.113" stop-color="#ffed00"/><stop offset="0.160" stop-color="#ffbe00"/><stop offset="0.187" stop-color="#ff9800"/><stop offset="0.300" stop-color="#ff2b00"/><stop offset="0.373" stop-color="#ff0000"/><stop offset="0.567" stop-color="#ba0000"/><stop offset="0.980" stop-color="#800000"/></linearGradient>
<linearGradient id="g175" href="#gb"><stop offset="0.000" stop-color="#00aeff"/><stop offset="0.053" stop-color="#00c4ff"/><stop offset="0.080" stop-color="#03fffc"/><stop offset="0.093" stop-color="#81ff7e"/><stop offset="0.107" stop-color="#d8ff27"/><stop offset="0.113" stop-color="#fcff03"/><stop offset="0.120" stop-color="#ffff00"/><stop offset="0.160" stop-color="#ffee00"/><stop offset="0.307" stop-color="#ff4300"/><stop offset="0.407" stop-color="#ff0000"/><stop offset="0.573" stop-color="#c20000"/><stop offset="0.980" stop-color="#850000"/></linearGradient>
<linearGradient id="g176" href="#gb"><stop offset="0.000" stop-color="#00a8ff"/><stop offset="0.053" stop-color="#00bdff"/><stop offset="0.073" stop-color="#00eaff"/><stop offset="0.080" stop-color="#14ffeb"/><stop offset="0.093" stop-color="#8dff72"/><stop offset="0.107" stop-color="#e5ff1a"/><stop offset="0.113" stop-color="#f5ff0a"/><stop offset="0.147" stop-color="#ffff00"/><stop offset="0.220" stop-color="#ffb900"/><stop offset="0.300" stop-color="#ff5d00"/><stop offset="0.380" stop-color="#ff1b00"/><stop offset="0.433" stop-color="#ff0200"/><stop offset="0.553" stop-color="#cf0000"/><stop offset="0.620" stop-color="#c00000"/><stop offset="0.980" stop-color="#8a0000"/></linearGradient>
<linearGradient id="g177" href="#gb"><stop offset="0.000" stop-color="#009fff"/><stop offset="0.053" stop-color="#00b0ff"/><stop offset="0.060" stop-color="#00baff"/><stop offset="0.073" stop-color="#00e2ff"/><stop offset="0.080" stop-color="#16ffe9"/><stop offset="0.087" stop-color="#59ffa6"/><stop offset="0.107" stop-color="#e6ff19"/><stop offset="0.167" stop-color="#fffd00"/><stop offset="0.213" stop-color="#ffda00"/><stop offset="0.293" stop-color="#ff7e00"/><stop offset="0.373" stop-color="#ff3400"/><stop offset="0.467" stop-color="#ff0100"/><stop offset="0.613" stop-color="#cb0000"/><stop offset="0.980" stop-color="#930000"/></linearGradient>
<linearGradient id="g178" href="#gb"><stop offset="0.000" stop-color="#00a7ff"/><stop offset="0.060" stop-color="#00b8ff"/><stop offset="0.067" stop-color="#00c3ff"/><stop offset="0.080" stop-color="#05fffa"/><stop offset="0.093" stop-color="#81ff7e"/><stop offset="0.107" stop-color="#d7ff28"/><stop offset="0.113" stop-color="#f4ff0b"/><stop offset="0.167" stop-color="#fffe00"/><stop offset="0.220" stop-color="#ffe700"/><stop offset="0.387" stop-color="#ff3a00"/><stop offset="0.487" stop-color="#fe0000"/><stop offset="0.633" stop-color="#c50000"/><stop offset="0.980" stop-color="#8b0000"/></linearGradient>
<linearGradient id="g179" href="#gb"><stop offset="0.000" stop-color="#00c9ff"/><stop offset="0.067" stop-color="#00d5ff"/><stop offset="0.073" stop-color="#00eeff"/><stop offset="0.080" stop-color="#0efff1"/><stop offset="0.093" stop-color="#83ff7c"/><stop offset="0.113" stop-color="#fff800"/><stop offset="0.120" stop-color="#ffe800"/><stop offset="0.233" stop-color="#ffd800"/><stop offset="0.400" stop-color="#ff2a00"/><stop offset="0.467" stop-color="#fe0000"/><stop offset="0.660" stop-color="#a60000"/><stop offset="0.873" stop-color="#800000"/><stop offset="0.980" stop-color="#800000"/></linearGradient>
<linearGradient id="g180" href="#gb"><stop offset="0.000" stop-color="#0097ff"/><stop offset="0.067" stop-color="#00a1ff"/><stop offset="0.080" stop-color="#00d9ff"/><stop offset="0.087" stop-color="#0dfff2"/><stop offset="0.100" stop-color="#7dff82"/><stop offset="0.113" stop-color="#d0ff2f"/><stop offset="0.120" stop-color="#e4ff1b"/><stop offset="0.233" stop-color="#edff12"/><stop offset="0.260" stop-color="#feff01"/><stop offset="0.427" stop-color="#ff5900"/><stop offset="0.520" stop-color="#ff1a00"/><stop offset="0.580" stop-color="#ff0000"/><stop offset="0.673" stop-color="#d70000"/><stop offset="0.980" stop-color="#a00000"/></linearGradient>
<linearGradient id="g181" href="#gb"><stop offset="0.000" stop-color="#00abff"/><stop offset="0.027" stop-color="#0098ff"/><stop offset="0.047" stop-color="#0004ff"/><stop offset="0.053" stop-color="#0000f4"/><stop offset="0.073" stop-color="#0004ff"/><stop offset="0.080" stop-color="#0076ff"/><stop offset="0.087" stop-color="#1bffe4"/><stop offset="0.100" stop-color="#8eff71"/><stop offset="0.120" stop-color="#fffd00"/><stop offset="0.267" stop-color="#fff200"/><stop offset="0.333" stop-color="#ffbc00"/><stop offset="0.447" stop-color="#ff4100"/><stop offset="0.540" stop-color="#ff0100"/><stop offset="0.693" stop-color="#bb0000"/><stop offset="0.980" stop-color="#840000"/></linearGradient>
<linearGradient id="g182" href="#gb"><stop offset="0.000" stop-color="#00bcff"/><stop offset="0.060" stop-color="#00c1ff"/><stop offset="0.067" stop-color="#00c6ff"/><stop offset="0.080" stop-color="#00faff"/><stop offset="0.087" stop-color="#29ffd6"/><stop offset="0.100" stop-color="#9aff65"/><stop offset="0.113" stop-color="#e7ff18"/><stop offset="0.120" stop-color="#fffb00"/><stop offset="0.293" stop-color="#ffea00"/><stop offset="0.353" stop-color="#ffb800"/><stop offset="0.467" stop-color="#ff3b00"/><stop offset="0.547" stop-color="#fe0000"/><stop offset="0.700" stop-color="#b40000"/><stop offset="0.980" stop-color="#800000"/></linearGradient>
<linearGradient id="g183" href="#gb"><stop offset="0.000" stop-color="#00b4ff"/><stop offset="0.040" stop-color="#00acff"/><stop offset="0.060" stop-color="#00b6ff"/><stop offset="0.080" stop-color="#03fffc"/><stop offset="0.093" stop-color="#82ff7d"/><stop offset="0.120" stop-color="#fffd00"/><stop offset="0.307" stop-color="#ffee00"/><stop offset="0.360" stop-color="#ffbf00"/><stop offset="0.460" stop-color="#ff4200"/><stop offset="0.540" stop-color="#ff0200"/><stop offset="0.680" stop-color="#bb0000"/><stop offset="0.980" stop-color="#800000"/></linearGradient>
<linearGradient id="g184" href="#gb"><stop offset="0.000" stop-color="#00afff"/><stop offset="0.040" stop-color="#00abff"/><stop offset="0.060" stop-color="#00b5ff"/><stop offset="0.080" stop-color="#04fffb"/><stop offset="0.093" stop-color="#80ff7f"/><stop offset="0.120" stop-color="#fbff04"/><stop offset="0.307" stop-color="#fff300"/><stop offset="0.360" stop-color="#ffca00"/><stop offset="0.467" stop-color="#ff4200"/><stop offset="0.547" stop-color="#fe0000"/><stop offset="0.673" stop-color="#c20000"/><stop offset="0.980" stop-color="#830000"/></linearGradient>
<linearGradient id="g185" href="#gb"><stop offset="0.000" stop-color="#00bcff"/><stop offset="0.053" stop-color="#00c1ff"/><stop offset="0.060" stop-color="#00cdff"/><stop offset="0.073" stop-color="#00feff"/><stop offset="0.080" stop-color="#30ffcf"/><stop offset="0.087" stop-color="#73ff8c"/><stop offset="0.093" stop-color="#a0ff5f"/><stop offset="0.113" stop-color="#fffa00"/><stop offset="0.287" stop-color="#ffe800"/><stop offset="0.327" stop-color="#ffd900"/><stop offset="0.380" stop-color="#ffa100"/><stop offset="0.453" stop-color="#ff3200"/><stop offset="0.507" stop-color="#fa0000"/><stop offset="0.647" stop-color="#b70000"/><stop offset="0.780" stop-color="#930000"/><stop offset="0.893" stop-color="#800000"/><stop offset="0.980" stop-color="#800000"/></linearGradient>
<linearGradient id="g186" href="#gb"><stop offset="0.000" stop-color="#00a5ff"/><stop offset="0.053" stop-color="#00adff"/><stop offset="0.060" stop-color="#00b8ff"/><stop offset="0.073" stop-color="#00e8ff"/><stop offset="0.080" stop-color="#1bffe4"/><stop offset="0.087" stop-color="#5effa1"/><stop offset="0.093" stop-color="#8aff75"/><stop offset="0.113" stop-color="#eeff11"/><stop offset="0.120" stop-color="#f2ff0d"/><stop offset="0.327" stop-color="#fff800"/><stop offset="0.380" stop-color="#ffc300"/><stop offset="0.453" stop-color="#ff4a00"/><stop offset="0.507" stop-color="#ff0f00"/><stop offset="0.533" stop-color="#ff0100"/><stop offset="0.660" stop-color="#ca0000"/><stop offset="0.780" stop-color="#a80000"/><stop offset="0.980" stop-color="#8d0000"/></linearGradient>
<linearGradient id="g187" href="#gb"><stop offset="0.000" stop-color="#00b9ff"/><stop offset="0.053" stop-color="#00c3ff"/><stop offset="0.060" stop-color="#00cbff"/><stop offset="0.073" stop-color="#00f9ff"/><stop offset="0.080" stop-color="#24ffdb"/><stop offset="0.087" stop-color="#66ff99"/><stop offset="0.093" stop-color="#97ff68"/><stop offset="0.113" stop-color="#fbff04"/><stop offset="0.120" stop-color="#fff800"/><stop offset="0.333" stop-color="#ffe900"/><stop offset="0.387" stop-color="#ffb600"/><stop offset="0.453" stop-color="#ff4500"/><stop offset="0.513" stop-color="#fb0000"/><stop offset="0.667" stop-color="#b70000"/><stop offset="0.780" stop-color="#940000"/><stop offset="0.907" stop-color="#800000"/><stop offset="0.980" stop-color="#800000"/></linearGradient>
<linearGradient id="g188" href="#gb"><stop offset="0.000" stop-color="#00c4ff"/><stop offset="0.060" stop-color="#00d0ff"/><stop offset="0.073" stop-color="#00fcff"/><stop offset="0.080" stop-color="#18ffe7"/><stop offset="0.093" stop-color="#95ff6a"/><stop offset="0.113" stop-color="#f5ff0a"/><stop offset="0.120" stop-color="#ffed00"/><stop offset="0.347" stop-color="#ffdd00"/><stop offset="0.400" stop-color="#ffb000"/><stop offset="0.473" stop-color="#ff3d00"/><stop offset="0.527" stop-color="#fa0000"/><stop offset="0.620" stop-color="#c80000"/><stop offset="0.807" stop-color="#8a0000"/><stop offset="0.980" stop-color="#800000"/></linearGradient>
<linearGradient id="g189" href="#gb"><stop offset="0.000" stop-color="#00a6ff"/><stop offset="0.060" stop-color="#00b0ff"/><stop offset="0.080" stop-color="#00edff"/><stop offset="0.087" stop-color="#24ffdb"/><stop offset="0.093" stop-color="#62ff9d"/><stop offset="0.100" stop-color="#8aff75"/><stop offset="0.120" stop-color="#e8ff17"/><stop offset="0.127" stop-color="#f3ff0c"/><stop offset="0.347" stop-color="#fffe00"/><stop offset="0.387" stop-color="#ffec00"/><stop offset="0.447" stop-color="#ffa900"/><stop offset="0.520" stop-color="#ff3800"/><stop offset="0.547" stop-color="#ff1a00"/><stop offset="0.587" stop-color="#fe0000"/><stop offset="0.827" stop-color="#ab0000"/><stop offset="0.980" stop-color="#910000"/></linearGradient>
<linearGradient id="g190" href="#gb"><stop offset="0.000" stop-color="#00a8ff"/><stop offset="0.060" stop-color="#00b3ff"/><stop offset="0.080" stop-color="#00f8ff"/><stop offset="0.093" stop-color="#77ff88"/><stop offset="0.120" stop-color="#f5ff0a"/><stop offset="0.340" stop-color="#fffb00"/><stop offset="0.380" stop-color="#ffee00"/><stop offset="0.440" stop-color="#ffaf00"/><stop offset="0.507" stop-color="#ff3e00"/><stop offset="0.553" stop-color="#ff0b00"/><stop offset="0.573" stop-color="#fe0000"/><stop offset="0.807" stop-color="#ab0000"/><stop offset="0.980" stop-color="#8d0000"/></linearGradient>
<linearGradient id="g191" href="#gb"><stop offset="0.000" stop-color="#00b4ff"/><stop offset="0.060" stop-color="#00c3ff"/><stop offset="0.073" stop-color="#00f0ff"/><stop offset="0.080" stop-color="#12ffed"/><stop offset="0.093" stop-color="#8bff74"/><stop offset="0.113" stop-color="#edff12"/><stop offset="0.120" stop-color="#fffd00"/><stop offset="0.373" stop-color="#ffe900"/><stop offset="0.433" stop-color="#ffaf00"/><stop offset="0.493" stop-color="#ff4100"/><stop offset="0.547" stop-color="#fe0000"/><stop offset="0.680" stop-color="#c50000"/><stop offset="0.827" stop-color="#970000"/><stop offset="0.980" stop-color="#820000"/></linearGradient>
<linearGradient id="g192" href="#gb"><stop offset="0.000" stop-color="#00bfff"/><stop offset="0.053" stop-color="#00c9ff"/><stop offset="0.060" stop-color="#00d4ff"/><stop offset="0.073" stop-color="#01fffe"/><stop offset="0.080" stop-color="#2fffd0"/><stop offset="0.087" stop-color="#72ff8d"/><stop offset="0.093" stop-color="#a0ff5f"/><stop offset="0.113" stop-color="#fffa00"/><stop offset="0.367" stop-color="#ffe100"/><stop offset="0.420" stop-color="#ffb400"/><stop offset="0.487" stop-color="#ff3900"/><stop offset="0.533" stop-color="#fa0000"/><stop offset="0.600" stop-color="#d50000"/><stop offset="0.813" stop-color="#8d0000"/><stop offset="0.980" stop-color="#800000"/></linearGradient>
<linearGradient id="g193" href="#gb"><stop offset="0.000" stop-color="#00c6ff"/><stop offset="0.053" stop-color="#00d0ff"/><stop offset="0.060" stop-color="#00d8ff"/><stop offset="0.073" stop-color="#02fffd"/><stop offset="0.080" stop-color="#23ffdc"/><stop offset="0.093" stop-color="#9bff64"/><stop offset="0.113" stop-color="#fdff02"/><stop offset="0.120" stop-color="#ffee00"/><stop offset="0.373" stop-color="#ffdf00"/><stop offset="0.433" stop-color="#ffaf00"/><stop offset="0.493" stop-color="#ff4500"/><stop offset="0.547" stop-color="#fb0000"/><stop offset="0.633" stop-color="#cb0000"/><stop offset="0.827" stop-color="#8a0000"/><stop offset="0.980" stop-color="#800000"/></linearGradient>
<linearGradient id="g194" href="#gb"><stop offset="0.000" stop-color="#00bfff"/><stop offset="0.053" stop-color="#00c9ff"/><stop offset="0.060" stop-color="#00cfff"/><stop offset="0.080" stop-color="#07fff8"/><stop offset="0.093" stop-color="#84ff7b"/><stop offset="0.120" stop-color="#fff900"/><stop offset="0.380" stop-color="#ffea00"/><stop offset="0.400" stop-color="#ffe100"/><stop offset="0.447" stop-color="#ffbd00"/><stop offset="0.547" stop-color="#ff2100"/><stop offset="0.580" stop-color="#fc0000"/><stop offset="0.633" stop-color="#dc0000"/><stop offset="0.753" stop-color="#b00000"/><stop offset="0.853" stop-color="#920000"/><stop offset="0.980" stop-color="#800000"/></linearGradient>
<linearGradient id="g195" href="#gb"><stop offset="0.000" stop-color="#00b0ff"/><stop offset="0.053" stop-color="#00baff"/><stop offset="0.080" stop-color="#00f4ff"/><stop offset="0.087" stop-color="#2cffd3"/><stop offset="0.093" stop-color="#6bff94"/><stop offset="0.100" stop-color="#91ff6e"/><stop offset="0.120" stop-color="#efff10"/><stop offset="0.127" stop-color="#f7ff08"/><stop offset="0.307" stop-color="#ffff00"/><stop offset="0.407" stop-color="#fff300"/><stop offset="0.453" stop-color="#ffd200"/><stop offset="0.553" stop-color="#ff3800"/><stop offset="0.607" stop-color="#ff0000"/><stop offset="0.760" stop-color="#c20000"/><stop offset="0.980" stop-color="#8f0000"/></linearGradient>
<linearGradient id="g196" href="#gb"><stop offset="0.000" stop-color="#00adff"/><stop offset="0.053" stop-color="#00b8ff"/><stop offset="0.080" stop-color="#00fbff"/><stop offset="0.093" stop-color="#77ff88"/><stop offset="0.120" stop-color="#f1ff0e"/><stop offset="0.400" stop-color="#fffb00"/><stop offset="0.440" stop-color="#ffe100"/><stop offset="0.553" stop-color="#ff3300"/><stop offset="0.587" stop-color="#ff0a00"/><stop offset="0.607" stop-color="#ff0000"/><stop offset="0.840" stop-color="#aa0000"/><stop offset="0.980" stop-color="#920000"/></linearGradient>
<linearGradient id="g197" href="#gb"><stop offset="0.000" stop-color="#00bfff"/><stop offset="0.053" stop-color="#00c9ff"/><stop offset="0.080" stop-color="#00fcff"/><stop offset="0.087" stop-color="#27ffd8"/><stop offset="0.093" stop-color="#64ff9b"/><stop offset="0.100" stop-color="#92ff6d"/><stop offset="0.120" stop-color="#efff10"/><stop offset="0.127" stop-color="#fffc00"/><stop offset="0.420" stop-color="#ffee00"/><stop offset="0.460" stop-color="#ffd800"/><stop offset="0.487" stop-color="#ffbb00"/><stop offset="0.567" stop-color="#ff3c00"/><stop offset="0.613" stop-color="#fc0000"/><stop offset="0.773" stop-color="#b90000"/><stop offset="0.980" stop-color="#880000"/></linearGradient>
<linearGradient id="g198" href="#gb"><stop offset="0.000" stop-color="#00c6ff"/><stop offset="0.053" stop-color="#00d3ff"/><stop offset="0.073" stop-color="#00f9ff"/><stop offset="0.080" stop-color="#12ffed"/><stop offset="0.087" stop-color="#33ffcc"/><stop offset="0.100" stop-color="#99ff66"/><stop offset="0.113" stop-color="#d5ff2a"/><stop offset="0.127" stop-color="#fffa00"/><stop offset="0.427" stop-color="#ffea00"/><stop offset="0.473" stop-color="#ffcf00"/><stop offset="0.493" stop-color="#ffb800"/><stop offset="0.620" stop-color="#ff0100"/><stop offset="0.780" stop-color="#b70000"/><stop offset="0.980" stop-color="#860000"/></linearGradient>
<linearGradient id="g199" href="#gb"><stop offset="0.000" stop-color="#00baff"/><stop offset="0.053" stop-color="#00cdff"/><stop offset="0.067" stop-color="#00e3ff"/><stop offset="0.073" stop-color="#07fff8"/><stop offset="0.093" stop-color="#8aff75"/><stop offset="0.107" stop-color="#ccff33"/><stop offset="0.120" stop-color="#eeff11"/><stop offset="0.127" stop-color="#f2ff0d"/><stop offset="0.407" stop-color="#fffa00"/><stop offset="0.460" stop-color="#ffd500"/><stop offset="0.560" stop-color="#ff3b00"/><stop offset="0.593" stop-color="#ff1200"/><stop offset="0.620" stop-color="#ff0100"/><stop offset="0.853" stop-color="#ac0000"/><stop offset="0.980" stop-color="#950000"/></linearGradient>
<linearGradient id="g200" href="#gb"><stop offset="0.000" stop-color="#00ceff"/><stop offset="0.047" stop-color="#00e2ff"/><stop offset="0.067" stop-color="#04fffb"/><stop offset="0.080" stop-color="#71ff8e"/><stop offset="0.100" stop-color="#dcff23"/><stop offset="0.107" stop-color="#f6ff09"/><stop offset="0.120" stop-color="#fffe00"/><stop offset="0.387" stop-color="#ffed00"/><stop offset="0.447" stop-color="#ffc000"/><stop offset="0.520" stop-color="#ff4700"/><stop offset="0.573" stop-color="#ff0200"/><stop offset="0.740" stop-color="#b80000"/><stop offset="0.840" stop-color="#9a0000"/><stop offset="0.980" stop-color="#840000"/></linearGradient>
<linearGradient id="g201" href="#gb"><stop offset="0.000" stop-color="#00e2ff"/><stop offset="0.047" stop-color="#00feff"/><stop offset="0.060" stop-color="#13ffec"/><stop offset="0.067" stop-color="#24ffdb"/><stop offset="0.080" stop-color="#92ff6d"/><stop offset="0.100" stop-color="#ecff13"/><stop offset="0.107" stop-color="#fffd00"/><stop offset="0.380" stop-color="#ffea00"/><stop offset="0.447" stop-color="#ffb500"/><stop offset="0.520" stop-color="#ff3a00"/><stop offset="0.567" stop-color="#ff0000"/><stop offset="0.727" stop-color="#b70000"/><stop offset="0.833" stop-color="#970000"/><stop offset="0.980" stop-color="#810000"/></linearGradient>
<linearGradient id="g202" href="#gb"><stop offset="0.000" stop-color="#09fff6"/><stop offset="0.040" stop-color="#28ffd7"/><stop offset="0.067" stop-color="#58ffa7"/><stop offset="0.080" stop-color="#abff54"/><stop offset="0.093" stop-color="#e3ff1c"/><stop offset="0.107" stop-color="#fffa00"/><stop offset="0.387" stop-color="#ffdd00"/><stop offset="0.440" stop-color="#ffb400"/><stop offset="0.513" stop-color="#ff3e00"/><stop offset="0.560" stop-color="#ff0200"/><stop offset="0.627" stop-color="#d60000"/><stop offset="0.733" stop-color="#ad0000"/><stop offset="0.847" stop-color="#8c0000"/><stop offset="0.980" stop-color="#800000"/></linearGradient>
<linearGradient id="g203" href="#gb"><stop offset="0.000" stop-color="#0dfff2"/><stop offset="0.040" stop-color="#36ffc9"/><stop offset="0.067" stop-color="#73ff8c"/><stop offset="0.093" stop-color="#d9ff26"/><stop offset="0.120" stop-color="#f3ff0c"/><stop offset="0.373" stop-color="#fffc00"/><stop offset="0.440" stop-color="#ffc900"/><stop offset="0.513" stop-color="#ff5000"/><stop offset="0.567" stop-color="#ff0d00"/><stop offset="0.593" stop-color="#fe0000"/><stop offset="0.720" stop-color="#c90000"/><stop offset="0.840" stop-color="#a60000"/><stop offset="0.980" stop-color="#910000"/></linearGradient>
<linearGradient id="g204" href="#gb"><stop offset="0.000" stop-color="#37ffc8"/><stop offset="0.040" stop-color="#61ff9e"/><stop offset="0.067" stop-color="#99ff66"/><stop offset="0.093" stop-color="#eeff11"/><stop offset="0.113" stop-color="#fffe00"/><stop offset="0.380" stop-color="#ffe200"/><stop offset="0.447" stop-color="#ffa600"/><stop offset="0.520" stop-color="#ff3200"/><stop offset="0.567" stop-color="#fc0000"/><stop offset="0.733" stop-color="#b30000"/><stop offset="0.847" stop-color="#920000"/><stop offset="0.980" stop-color="#800000"/></linearGradient>
<linearGradient id="g205" href="#gb"><stop offset="0.000" stop-color="#39ffc6"/><stop offset="0.040" stop-color="#64ff9b"/><stop offset="0.067" stop-color="#97ff68"/><stop offset="0.093" stop-color="#dcff23"/><stop offset="0.127" stop-color="#f2ff0d"/><stop offset="0.347" stop-color="#ffff00"/><stop offset="0.380" stop-color="#fff400"/><stop offset="0.447" stop-color="#ffb600"/><stop offset="0.547" stop-color="#ff2800"/><stop offset="0.600" stop-color="#fe0000"/><stop offset="0.833" stop-color="#ac0000"/><stop offset="0.980" stop-color="#940000"/></linearGradient>
<linearGradient id="g206" href="#gb"><stop offset="0.000" stop-color="#59ffa6"/><stop offset="0.040" stop-color="#86ff79"/><stop offset="0.100" stop-color="#f0ff0f"/><stop offset="0.193" stop-color="#ffff00"/><stop offset="0.353" stop-color="#fff600"/><stop offset="0.387" stop-color="#ffe600"/><stop offset="0.420" stop-color="#ffcc00"/><stop offset="0.453" stop-color="#ffa300"/><stop offset="0.540" stop-color="#ff2900"/><stop offset="0.587" stop-color="#ff0000"/><stop offset="0.753" stop-color="#bd0000"/><stop offset="0.980" stop-color="#8c0000"/></linearGradient>
<linearGradient id="g207" href="#gb"><stop offset="0.000" stop-color="#74ff8b"/><stop offset="0.040" stop-color="#a3ff5c"/><stop offset="0.087" stop-color="#eeff11"/><stop offset="0.127" stop-color="#fffe00"/><stop offset="0.360" stop-color="#ffee00"/><stop offset="0.420" stop-color="#ffc300"/><stop offset="0.500" stop-color="#ff4e00"/><stop offset="0.573" stop-color="#ff0100"/><stop offset="0.753" stop-color="#b80000"/><stop offset="0.847" stop-color="#9c0000"/><stop offset="0.980" stop-color="#870000"/></linearGradient>
<linearGradient id="g208" href="#gb"><stop offset="0.000" stop-color="#9fff60"/><stop offset="0.073" stop-color="#fffd00"/><stop offset="0.100" stop-color="#ffed00"/><stop offset="0.347" stop-color="#ffdc00"/><stop offset="0.407" stop-color="#ffaa00"/><stop offset="0.480" stop-color="#ff3400"/><stop offset="0.527" stop-color="#fe0000"/><stop offset="0.607" stop-color="#cf0000"/><stop offset="0.820" stop-color="#880000"/><stop offset="0.980" stop-color="#800000"/></linearGradient>
<linearGradient id="g209" href="#gb"><stop offset="0.000" stop-color="#cbff34"/><stop offset="0.047" stop-color="#fffc00"/><stop offset="0.080" stop-color="#ffd700"/><stop offset="0.340" stop-color="#ffbf00"/><stop offset="0.400" stop-color="#ff8c00"/><stop offset="0.473" stop-color="#ff1e00"/><stop offset="0.500" stop-color="#ff0100"/><stop offset="0.567" stop-color="#cc0000"/><stop offset="0.773" stop-color="#800000"/><stop offset="0.980" stop-color="#800000"/></linearGradient>
<linearGradient id="g210" href="#gb"><stop offset="0.000" stop-color="#baff45"/><stop offset="0.073" stop-color="#ffff00"/><stop offset="0.293" stop-color="#ffed00"/><stop offset="0.360" stop-color="#ffc700"/><stop offset="0.400" stop-color="#ff9d00"/><stop offset="0.467" stop-color="#ff4200"/><stop offset="0.547" stop-color="#fe0000"/><stop offset="0.713" stop-color="#b60000"/><stop offset="0.980" stop-color="#800000"/></linearGradient>
<linearGradient id="g211" href="#gb"><stop offset="0.000" stop-color="#d3ff2c"/><stop offset="0.053" stop-color="#fffb00"/><stop offset="0.287" stop-color="#ffea00"/><stop offset="0.353" stop-color="#ffb900"/><stop offset="0.460" stop-color="#ff3b00"/><stop offset="0.540" stop-color="#ff0000"/><stop offset="0.700" stop-color="#b60000"/><stop offset="0.933" stop-color="#800000"/><stop offset="0.980" stop-color="#800000"/></linearGradient>
<linearGradient id="g212" href="#gb"><stop offset="0.000" stop-color="#d6ff29"/><stop offset="0.040" stop-color="#fffb00"/><stop offset="0.060" stop-color="#fff200"/><stop offset="0.220" stop-color="#ffe700"/><stop offset="0.300" stop-color="#ffcc00"/><stop offset="0.373" stop-color="#ff9400"/><stop offset="0.480" stop-color="#ff2b00"/><stop offset="0.547" stop-color="#fd0000"/><stop offset="0.740" stop-color="#ad0000"/><stop offset="0.980" stop-color="#800000"/></linearGradient>
<linearGradient id="g213" href="#gb"><stop offset="0.000" stop-color="#afff50"/><stop offset="0.040" stop-color="#ecff13"/><stop offset="0.220" stop-color="#ffff00"/><stop offset="0.293" stop-color="#ffcd00"/><stop offset="0.473" stop-color="#ff3200"/><stop offset="0.560" stop-color="#ff0100"/><stop offset="0.680" stop-color="#cf0000"/><stop offset="0.980" stop-color="#930000"/></linearGradient>
<linearGradient id="g214" href="#gb"><stop offset="0.000" stop-color="#d2ff2d"/><stop offset="0.033" stop-color="#fffe00"/><stop offset="0.047" stop-color="#fff300"/><stop offset="0.220" stop-color="#ffd400"/><stop offset="0.427" stop-color="#ff2e00"/><stop offset="0.500" stop-color="#ff0000"/><stop offset="0.693" stop-color="#b10000"/><stop offset="0.980" stop-color="#800000"/></linearGradient>
<linearGradient id="g215" href="#gb"><stop offset="0.000" stop-color="#caff35"/><stop offset="0.040" stop-color="#f3ff0c"/><stop offset="0.080" stop-color="#ffff00"/><stop offset="0.207" stop-color="#ffd900"/><stop offset="0.340" stop-color="#ff6700"/><stop offset="0.520" stop-color="#fe0000"/><stop offset="0.680" stop-color="#c70000"/><stop offset="0.980" stop-color="#920000"/></linearGradient>
<linearGradient id="g216" href="#gb"><stop offset="0.000" stop-color="#fcff03"/><stop offset="0.027" stop-color="#ffea00"/><stop offset="0.200" stop-color="#ff9f00"/><stop offset="0.333" stop-color="#ff2900"/><stop offset="0.407" stop-color="#ff0200"/><stop offset="0.627" stop-color="#a80000"/><stop offset="0.860" stop-color="#800000"/><stop offset="0.980" stop-color="#800000"/></linearGradient>
<linearGradient id="g217" href="#gb"><stop offset="0.000" stop-color="#fffa00"/><stop offset="0.127" stop-color="#ffb400"/><stop offset="0.260" stop-color="#ff4d00"/><stop offset="0.387" stop-color="#ff0200"/><stop offset="0.640" stop-color="#a80000"/><stop offset="0.893" stop-color="#800000"/><stop offset="0.980" stop-color="#800000"/></linearGradient>
<linearGradient id="g218" href="#gb"><stop offset="0.000" stop-color="#fffd00"/><stop offset="0.120" stop-color="#ffb100"/><stop offset="0.260" stop-color="#ff3700"/><stop offset="0.373" stop-color="#ff0100"/><stop offset="0.593" stop-color="#b50000"/><stop offset="0.980" stop-color="#800000"/></linearGradient>
<linearGradient id="g219" href="#gb"><stop offset="0.000" stop-color="#f5ff0a"/><stop offset="0.013" stop-color="#ffff00"/><stop offset="0.067" stop-color="#ffd700"/><stop offset="0.160" stop-color="#ff7900"/><stop offset="0.253" stop-color="#ff3a00"/><stop offset="0.387" stop-color="#ff0100"/><stop offset="0.587" stop-color="#c40000"/><stop offset="0.980" stop-color="#8b0000"/></linearGradient>
<linearGradient id="g220" href="#gb"><stop offset="0.000" stop-color="#ffe600"/><stop offset="0.067" stop-color="#ffab00"/><stop offset="0.160" stop-color="#ff3600"/><stop offset="0.273" stop-color="#ff0000"/><stop offset="0.547" stop-color="#a90000"/><stop offset="0.833" stop-color="#800000"/><stop offset="0.980" stop-color="#800000"/></linearGradient>
<linearGradient id="g221" href="#gb"><stop offset="0.000" stop-color="#fff000"/><stop offset="0.053" stop-color="#ffc000"/><stop offset="0.113" stop-color="#ff5b00"/><stop offset="0.153" stop-color="#ff3000"/><stop offset="0.287" stop-color="#ff0000"/><stop offset="0.527" stop-color="#b80000"/><stop offset="0.920" stop-color="#800000"/><stop offset="0.980" stop-color="#800000"/></linearGradient>
<linearGradient id="g222" href="#gb"><stop offset="0.000" stop-color="#ffe800"/><stop offset="0.053" stop-color="#ffbd00"/><stop offset="0.080" stop-color="#ff7300"/><stop offset="0.113" stop-color="#ff3b00"/><stop offset="0.160" stop-color="#ff1b00"/><stop offset="0.280" stop-color="#fe0000"/><stop offset="0.613" stop-color="#a80000"/><stop offset="0.980" stop-color="#800000"/></linearGradient>
<linearGradient id="g223" href="#gb"><stop offset="0.000" stop-color="#ffd900"/><stop offset="0.053" stop-color="#ffaf00"/><stop offset="0.080" stop-color="#ff4d00"/><stop offset="0.113" stop-color="#ff0e00"/><stop offset="0.153" stop-color="#ff0100"/><stop offset="0.300" stop-color="#ef0000"/><stop offset="0.687" stop-color="#900000"/><stop offset="0.980" stop-color="#800000"/></linearGradient>
<linearGradient id="g224" href="#gb"><stop offset="0.000" stop-color="#ffef00"/><stop offset="0.053" stop-color="#ffd200"/><stop offset="0.060" stop-color="#ffc400"/><stop offset="0.087" stop-color="#ff5e00"/><stop offset="0.127" stop-color="#ff1800"/><stop offset="0.133" stop-color="#ff1400"/><stop offset="0.393" stop-color="#ff0000"/><stop offset="0.660" stop-color="#b80000"/><stop offset="0.980" stop-color="#970000"/></linearGradient>
<linearGradient id="g225" href="#gb"><stop offset="0.000" stop-color="#ffd400"/><stop offset="0.053" stop-color="#ffb200"/><stop offset="0.087" stop-color="#ff3d00"/><stop offset="0.120" stop-color="#ff0200"/><stop offset="0.127" stop-color="#f90000"/><stop offset="0.327" stop-color="#f00000"/><stop offset="0.660" stop-color="#9d0000"/><stop offset="0.980" stop-color="#800000"/></linearGradient>
<linearGradient id="g226" href="#gb"><stop offset="0.000" stop-color="#ffcb00"/><stop offset="0.053" stop-color="#ffab00"/><stop offset="0.060" stop-color="#ff9c00"/><stop offset="0.087" stop-color="#ff3a00"/><stop offset="0.120" stop-color="#ff0000"/><stop offset="0.133" stop-color="#f10000"/><stop offset="0.347" stop-color="#e80000"/><stop offset="0.753" stop-color="#880000"/><stop offset="0.980" stop-color="#800000"/></linearGradient>
<linearGradient id="g227" href="#gb"><stop offset="0.000" stop-color="#ffd200"/><stop offset="0.040" stop-color="#ffb600"/><stop offset="0.047" stop-color="#ffa900"/><stop offset="0.067" stop-color="#ff4f00"/><stop offset="0.073" stop-color="#ff3b00"/><stop offset="0.100" stop-color="#ff0400"/><stop offset="0.107" stop-color="#fa0000"/><stop offset="0.287" stop-color="#f00000"/><stop offset="0.593" stop-color="#9f0000"/><stop offset="0.687" stop-color="#900000"/><stop offset="0.980" stop-color="#800000"/></linearGradient>
<linearGradient id="g228" href="#gb"><stop offset="0.000" stop-color="#ffd300"/><stop offset="0.040" stop-color="#ffb700"/><stop offset="0.047" stop-color="#ffa700"/><stop offset="0.067" stop-color="#ff4c00"/><stop offset="0.100" stop-color="#ff0500"/><stop offset="0.107" stop-color="#fb0000"/><stop offset="0.287" stop-color="#f30000"/><stop offset="0.593" stop-color="#a10000"/><stop offset="0.687" stop-color="#920000"/><stop offset="0.980" stop-color="#800000"/></linearGradient>
<linearGradient id="g229" href="#gb"><stop offset="0.000" stop-color="#ffde00"/><stop offset="0.047" stop-color="#ffc100"/><stop offset="0.080" stop-color="#ff4b00"/><stop offset="0.120" stop-color="#ff0900"/><stop offset="0.333" stop-color="#ff0000"/><stop offset="0.647" stop-color="#af0000"/><stop offset="0.980" stop-color="#8e0000"/></linearGradient>
<linearGradient id="g230" href="#gb"><stop offset="0.000" stop-color="#ffc900"/><stop offset="0.047" stop-color="#ffab00"/><stop offset="0.073" stop-color="#ff3c00"/><stop offset="0.107" stop-color="#ff0000"/><stop offset="0.120" stop-color="#f20000"/><stop offset="0.313" stop-color="#ed0000"/><stop offset="0.720" stop-color="#8c0000"/><stop offset="0.980" stop-color="#800000"/></linearGradient>
<linearGradient id="g231" href="#gb"><stop offset="0.000" stop-color="#ffda00"/><stop offset="0.047" stop-color="#ffb800"/><stop offset="0.080" stop-color="#ff3e00"/><stop offset="0.113" stop-color="#ff0000"/><stop offset="0.333" stop-color="#f20000"/><stop offset="0.660" stop-color="#a10000"/><stop offset="0.980" stop-color="#800000"/></linearGradient>
<linearGradient id="g232" href="#gb"><stop offset="0.000" stop-color="#ffe900"/><stop offset="0.047" stop-color="#ffc300"/><stop offset="0.080" stop-color="#ff4600"/><stop offset="0.113" stop-color="#ff0200"/><stop offset="0.120" stop-color="#fb0000"/><stop offset="0.340" stop-color="#f40000"/><stop offset="0.660" stop-color="#a30000"/><stop offset="0.980" stop-color="#820000"/></linearGradient>
<linearGradient id="g233" href="#gb"><stop offset="0.000" stop-color="#fffd00"/><stop offset="0.040" stop-color="#ffdf00"/><stop offset="0.073" stop-color="#ff5400"/><stop offset="0.107" stop-color="#ff0500"/><stop offset="0.113" stop-color="#ff0200"/><stop offset="0.313" stop-color="#fc0000"/><stop offset="0.633" stop-color="#aa0000"/><stop offset="0.980" stop-color="#870000"/></linearGradient>
<linearGradient id="g234" href="#gb"><stop offset="0.000" stop-color="#fff400"/><stop offset="0.040" stop-color="#ffd400"/><stop offset="0.073" stop-color="#ff4700"/><stop offset="0.100" stop-color="#ff0400"/><stop offset="0.107" stop-color="#f30000"/><stop offset="0.320" stop-color="#ea0000"/><stop offset="0.633" stop-color="#990000"/><stop offset="0.733" stop-color="#890000"/><stop offset="0.980" stop-color="#800000"/></linearGradient>
<linearGradient id="g235" href="#gb"><stop offset="0.000" stop-color="#fff500"/><stop offset="0.047" stop-color="#ffd300"/><stop offset="0.087" stop-color="#ff3d00"/><stop offset="0.113" stop-color="#ff0500"/><stop offset="0.120" stop-color="#f60000"/><stop offset="0.127" stop-color="#eb0000"/><stop offset="0.347" stop-color="#e60000"/><stop offset="0.753" stop-color="#850000"/><stop offset="0.980" stop-color="#800000"/></linearGradient>
<linearGradient id="g236" href="#gb"><stop offset="0.000" stop-color="#f8ff07"/><stop offset="0.040" stop-color="#ffe500"/><stop offset="0.047" stop-color="#ffd800"/><stop offset="0.080" stop-color="#ff4e00"/><stop offset="0.113" stop-color="#ff0200"/><stop offset="0.120" stop-color="#f50000"/><stop offset="0.347" stop-color="#f00000"/><stop offset="0.660" stop-color="#9e0000"/><stop offset="0.980" stop-color="#800000"/></linearGradient>
<linearGradient id="g237" href="#gb"><stop offset="0.000" stop-color="#f8ff07"/><stop offset="0.040" stop-color="#ffe000"/><stop offset="0.073" stop-color="#ff4a00"/><stop offset="0.100" stop-color="#ff0600"/><stop offset="0.107" stop-color="#f60000"/><stop offset="0.327" stop-color="#e90000"/><stop offset="0.640" stop-color="#990000"/><stop offset="0.740" stop-color="#890000"/><stop offset="0.980" stop-color="#800000"/></linearGradient>
<linearGradient id="g238" href="#gb"><stop offset="0.000" stop-color="#f7ff08"/><stop offset="0.040" stop-color="#ffdb00"/><stop offset="0.073" stop-color="#ff3a00"/><stop offset="0.100" stop-color="#f60000"/><stop offset="0.107" stop-color="#ea0000"/><stop offset="0.313" stop-color="#e40000"/><stop offset="0.707" stop-color="#840000"/><stop offset="0.980" stop-color="#800000"/></linearGradient>
<linearGradient id="g239" href="#gb"><stop offset="0.000" stop-color="#fffc00"/><stop offset="0.040" stop-color="#ffd600"/><stop offset="0.073" stop-color="#ff4300"/><stop offset="0.100" stop-color="#fc0000"/><stop offset="0.107" stop-color="#ed0000"/><stop offset="0.120" stop-color="#e60000"/><stop offset="0.313" stop-color="#e10000"/><stop offset="0.713" stop-color="#810000"/><stop offset="0.980" stop-color="#800000"/></linearGradient>
<linearGradient id="g240" href="#gb"><stop offset="0.000" stop-color="#feff01"/><stop offset="0.040" stop-color="#ffd900"/><stop offset="0.053" stop-color="#ffac00"/><stop offset="0.067" stop-color="#ff6d00"/><stop offset="0.080" stop-color="#ff3d00"/><stop offset="0.107" stop-color="#fe0000"/><stop offset="0.293" stop-color="#f20000"/><stop offset="0.593" stop-color="#a00000"/><stop offset="0.687" stop-color="#910000"/><stop offset="0.980" stop-color="#800000"/></linearGradient>
<linearGradient id="g241" href="#gb"><stop offset="0.000" stop-color="#fff900"/><stop offset="0.047" stop-color="#ffd300"/><stop offset="0.053" stop-color="#ffc100"/><stop offset="0.080" stop-color="#ff5100"/><stop offset="0.113" stop-color="#fc0000"/><stop offset="0.300" stop-color="#f60000"/><stop offset="0.593" stop-color="#a60000"/><stop offset="0.687" stop-color="#970000"/><stop offset="0.980" stop-color="#820000"/></linearGradient>
<linearGradient id="g242" href="#gb"><stop offset="0.000" stop-color="#ffee00"/><stop offset="0.060" stop-color="#ffbf00"/><stop offset="0.100" stop-color="#ff4200"/><stop offset="0.140" stop-color="#fe0000"/><stop offset="0.347" stop-color="#fa0000"/><stop offset="0.660" stop-color="#a80000"/><stop offset="0.980" stop-color="#870000"/></linearGradient>
<linearGradient id="g243" href="#gb"><stop offset="0.000" stop-color="#ffdb00"/><stop offset="0.040" stop-color="#ffaf00"/><stop offset="0.060" stop-color="#ff8800"/><stop offset="0.100" stop-color="#ff2400"/><stop offset="0.133" stop-color="#fc0000"/><stop offset="0.347" stop-color="#f50000"/><stop offset="0.660" stop-color="#a30000"/><stop offset="0.980" stop-color="#820000"/></linearGradient>
<linearGradient id="g244" href="#gb"><stop offset="0.000" stop-color="#ffc600"/><stop offset="0.033" stop-color="#ff9300"/><stop offset="0.067" stop-color="#ff2e00"/><stop offset="0.100" stop-color="#f80000"/><stop offset="0.133" stop-color="#ef0000"/><stop offset="0.340" stop-color="#ed0000"/><stop offset="0.660" stop-color="#9c0000"/><stop offset="0.980" stop-color="#800000"/></linearGradient>
<linearGradient id="g245" href="#gb"><stop offset="0.000" stop-color="#ffc600"/><stop offset="0.033" stop-color="#ff9a00"/><stop offset="0.100" stop-color="#ff0100"/><stop offset="0.133" stop-color="#eb0000"/><stop offset="0.340" stop-color="#e90000"/><stop offset="0.753" stop-color="#880000"/><stop offset="0.980" stop-color="#800000"/></linearGradient>
<linearGradient id="g246" href="#gb"><stop offset="0.000" stop-color="#ffe800"/><stop offset="0.067" stop-color="#ffb100"/><stop offset="0.100" stop-color="#ff3f00"/><stop offset="0.140" stop-color="#fe0000"/><stop offset="0.347" stop-color="#fa0000"/><stop offset="0.660" stop-color="#a80000"/><stop offset="0.980" stop-color="#870000"/></linearGradient>
<linearGradient id="g247" href="#gb"><stop offset="0.000" stop-color="#ffe900"/><stop offset="0.067" stop-color="#ffcc00"/><stop offset="0.093" stop-color="#ff5500"/><stop offset="0.127" stop-color="#ff0600"/><stop offset="0.133" stop-color="#f90000"/><stop offset="0.347" stop-color="#f30000"/><stop offset="0.660" stop-color="#a10000"/><stop offset="0.980" stop-color="#800000"/></linearGradient>
<linearGradient id="g248" href="#gb"><stop offset="0.000" stop-color="#fff700"/><stop offset="0.067" stop-color="#ffde00"/><stop offset="0.100" stop-color="#ff5a00"/><stop offset="0.133" stop-color="#ff1200"/><stop offset="0.147" stop-color="#ff0800"/><stop offset="0.360" stop-color="#fe0000"/><stop offset="0.660" stop-color="#af0000"/><stop offset="0.980" stop-color="#8e0000"/></linearGradient>
<linearGradient id="g249" href="#gb"><stop offset="0.000" stop-color="#ffdb00"/><stop offset="0.067" stop-color="#ffc200"/><stop offset="0.100" stop-color="#ff3f00"/><stop offset="0.127" stop-color="#ff0500"/><stop offset="0.133" stop-color="#f60000"/><stop offset="0.153" stop-color="#ea0000"/><stop offset="0.347" stop-color="#e50000"/><stop offset="0.753" stop-color="#840000"/><stop offset="0.980" stop-color="#800000"/></linearGradient>
<linearGradient id="g250" href="#gb"><stop offset="0.000" stop-color="#ffef00"/><stop offset="0.060" stop-color="#ffd700"/><stop offset="0.067" stop-color="#ffc500"/><stop offset="0.093" stop-color="#ff5300"/><stop offset="0.127" stop-color="#ff0800"/><stop offset="0.140" stop-color="#fe0000"/><stop offset="0.327" stop-color="#fa0000"/><stop offset="0.660" stop-color="#a70000"/><stop offset="0.980" stop-color="#870000"/></linearGradient>
<linearGradient id="g251" href="#gb"><stop offset="0.000" stop-color="#ffe600"/><stop offset="0.067" stop-color="#ffcb00"/><stop offset="0.100" stop-color="#ff4800"/><stop offset="0.133" stop-color="#ff0200"/><stop offset="0.153" stop-color="#f50000"/><stop offset="0.347" stop-color="#f00000"/><stop offset="0.753" stop-color="#900000"/><stop offset="0.980" stop-color="#800000"/></linearGradient>
<linearGradient id="g252" href="#gb"><stop offset="0.000" stop-color="#fff300"/><stop offset="0.053" stop-color="#ffdb00"/><stop offset="0.087" stop-color="#ff4c00"/><stop offset="0.113" stop-color="#ff0f00"/><stop offset="0.127" stop-color="#ff0300"/><stop offset="0.287" stop-color="#fe0000"/><stop offset="0.593" stop-color="#ac0000"/><stop offset="0.980" stop-color="#880000"/></linearGradient>
<linearGradient id="g253" href="#gb"><stop offset="0.000" stop-color="#ffee00"/><stop offset="0.053" stop-color="#ffd400"/><stop offset="0.080" stop-color="#ff5400"/><stop offset="0.107" stop-color="#ff0f00"/><stop offset="0.120" stop-color="#fd0000"/><stop offset="0.280" stop-color="#f80000"/><stop offset="0.687" stop-color="#980000"/><stop offset="0.980" stop-color="#830000"/></linearGradient>
<linearGradient id="g254" href="#gb"><stop offset="0.000" stop-color="#fff300"/><stop offset="0.060" stop-color="#ffd800"/><stop offset="0.093" stop-color="#ff4f00"/><stop offset="0.133" stop-color="#ff0300"/><stop offset="0.313" stop-color="#fd0000"/><stop offset="0.627" stop-color="#ab0000"/><stop offset="0.980" stop-color="#880000"/></linearGradient>
<linearGradient id="g255" href="#gb"><stop offset="0.000" stop-color="#ffd600"/><stop offset="0.053" stop-color="#ffbe00"/><stop offset="0.060" stop-color="#ffb100"/><stop offset="0.087" stop-color="#ff3e00"/><stop offset="0.113" stop-color="#fe0000"/><stop offset="0.133" stop-color="#e50000"/><stop offset="0.300" stop-color="#e00000"/><stop offset="0.687" stop-color="#800000"/><stop offset="0.980" stop-color="#800000"/></linearGradient>
<linearGradient id="g256" href="#gb"><stop offset="0.000" stop-color="#ffe600"/><stop offset="0.053" stop-color="#ffcf00"/><stop offset="0.060" stop-color="#ffc200"/><stop offset="0.093" stop-color="#ff3e00"/><stop offset="0.127" stop-color="#f80000"/><stop offset="0.300" stop-color="#f00000"/><stop offset="0.687" stop-color="#900000"/><stop offset="0.953" stop-color="#800000"/></linearGradient>
<linearGradient id="g257" href="#gb"><stop offset="0.000" stop-color="#ffed00"/><stop offset="0.053" stop-color="#ffd500"/><stop offset="0.060" stop-color="#ffc900"/><stop offset="0.087" stop-color="#ff5a00"/><stop offset="0.127" stop-color="#fe0000"/><stop offset="0.300" stop-color="#f70000"/><stop offset="0.600" stop-color="#a50000"/><stop offset="0.920" stop-color="#840000"/></linearGradient>
<linearGradient id="g258" href="#gb"><stop offset="0.000" stop-color="#fff900"/><stop offset="0.053" stop-color="#ffe400"/><stop offset="0.087" stop-color="#ff8300"/><stop offset="0.127" stop-color="#ff3d00"/><stop offset="0.240" stop-color="#ff0500"/><stop offset="0.360" stop-color="#f20000"/><stop offset="0.593" stop-color="#af0000"/><stop offset="0.880" stop-color="#900000"/></linearGradient>
<linearGradient id="g259" href="#gb"><stop offset="0.000" stop-color="#fff800"/><stop offset="0.067" stop-color="#ffe600"/><stop offset="0.107" stop-color="#ffa800"/><stop offset="0.153" stop-color="#ff7600"/><stop offset="0.227" stop-color="#ff2b00"/><stop offset="0.287" stop-color="#ff0400"/><stop offset="0.420" stop-color="#ed0000"/><stop offset="0.660" stop-color="#ab0000"/><stop offset="0.853" stop-color="#930000"/></linearGradient>
<linearGradient id="g260" href="#gb"><stop offset="0.000" stop-color="#ffed00"/><stop offset="0.067" stop-color="#ffdf00"/><stop offset="0.133" stop-color="#ffbd00"/><stop offset="0.180" stop-color="#ff8400"/><stop offset="0.227" stop-color="#ff3200"/><stop offset="0.280" stop-color="#fd0000"/><stop offset="0.660" stop-color="#9c0000"/><stop offset="0.833" stop-color="#870000"/></linearGradient>
<linearGradient id="g261" href="#gb"><stop offset="0.000" stop-color="#ffe000"/><stop offset="0.120" stop-color="#ffc700"/><stop offset="0.160" stop-color="#ff8e00"/><stop offset="0.207" stop-color="#ff2a00"/><stop offset="0.240" stop-color="#ff0200"/><stop offset="0.260" stop-color="#ea0000"/><stop offset="0.393" stop-color="#d10000"/><stop offset="0.640" stop-color="#8f0000"/><stop offset="0.807" stop-color="#800000"/></linearGradient>
<linearGradient id="g262" href="#gb"><stop offset="0.000" stop-color="#f8ff07"/><stop offset="0.127" stop-color="#ffed00"/><stop offset="0.173" stop-color="#ffac00"/><stop offset="0.213" stop-color="#ff5700"/><stop offset="0.273" stop-color="#ff1100"/><stop offset="0.380" stop-color="#fe0000"/><stop offset="0.660" stop-color="#b50000"/><stop offset="0.787" stop-color="#a30000"/></linearGradient>
<linearGradient id="g263" href="#gb"><stop offset="0.000" stop-color="#feff01"/><stop offset="0.127" stop-color="#ffe200"/><stop offset="0.167" stop-color="#ffa600"/><stop offset="0.207" stop-color="#ff4d00"/><stop offset="0.267" stop-color="#ff0a00"/><stop offset="0.333" stop-color="#fe0000"/><stop offset="0.647" stop-color="#ae0000"/><stop offset="0.760" stop-color="#9e0000"/></linearGradient>
<linearGradient id="g264" href="#gb"><stop offset="0.000" stop-color="#fff700"/><stop offset="0.127" stop-color="#ffdb00"/><stop offset="0.167" stop-color="#ffa100"/><stop offset="0.207" stop-color="#ff4900"/><stop offset="0.267" stop-color="#ff0200"/><stop offset="0.733" stop-color="#990000"/></linearGradient>
<linearGradient id="g265" href="#gb"><stop offset="0.000" stop-color="#fffc00"/><stop offset="0.127" stop-color="#ffe200"/><stop offset="0.167" stop-color="#ffa800"/><stop offset="0.213" stop-color="#ff4600"/><stop offset="0.267" stop-color="#ff0800"/><stop offset="0.407" stop-color="#ed0000"/><stop offset="0.707" stop-color="#a30000"/></linearGradient>
<linearGradient id="g266" href="#gb"><stop offset="0.000" stop-color="#f5ff0a"/><stop offset="0.133" stop-color="#ffef00"/><stop offset="0.180" stop-color="#ffac00"/><stop offset="0.220" stop-color="#ff5900"/><stop offset="0.280" stop-color="#ff1500"/><stop offset="0.400" stop-color="#fe0000"/><stop offset="0.680" stop-color="#b40000"/></linearGradient>
<linearGradient id="g267" href="#gb"><stop offset="0.000" stop-color="#fff500"/><stop offset="0.120" stop-color="#ffd600"/><stop offset="0.153" stop-color="#ffa200"/><stop offset="0.193" stop-color="#ff4600"/><stop offset="0.247" stop-color="#ff0000"/><stop offset="0.660" stop-color="#9b0000"/></linearGradient>
<linearGradient id="g268" href="#gb"><stop offset="0.000" stop-color="#ffec00"/><stop offset="0.120" stop-color="#ffd100"/><stop offset="0.160" stop-color="#ff9300"/><stop offset="0.200" stop-color="#ff3800"/><stop offset="0.247" stop-color="#fd0000"/><stop offset="0.640" stop-color="#970000"/></linearGradient>
<linearGradient id="g269" href="#gb"><stop offset="0.000" stop-color="#f7ff08"/><stop offset="0.127" stop-color="#ffe400"/><stop offset="0.167" stop-color="#ffa800"/><stop offset="0.207" stop-color="#ff5200"/><stop offset="0.267" stop-color="#ff1200"/><stop offset="0.373" stop-color="#fe0000"/><stop offset="0.627" stop-color="#bc0000"/></linearGradient>
<linearGradient id="g270" href="#gb"><stop offset="0.000" stop-color="#ffed00"/><stop offset="0.113" stop-color="#ffc200"/><stop offset="0.147" stop-color="#ff8b00"/><stop offset="0.187" stop-color="#ff3500"/><stop offset="0.233" stop-color="#ff0000"/><stop offset="0.613" stop-color="#9d0000"/></linearGradient>
<linearGradient id="g271" href="#gb"><stop offset="0.000" stop-color="#ffe000"/><stop offset="0.080" stop-color="#ffc600"/><stop offset="0.120" stop-color="#ffac00"/><stop offset="0.160" stop-color="#ff7200"/><stop offset="0.200" stop-color="#ff2800"/><stop offset="0.240" stop-color="#ff0000"/><stop offset="0.260" stop-color="#ef0000"/><stop offset="0.393" stop-color="#da0000"/><stop offset="0.607" stop-color="#a00000"/></linearGradient>
<linearGradient id="g272" href="#gb"><stop offset="0.000" stop-color="#ffdc00"/><stop offset="0.080" stop-color="#ffbd00"/><stop offset="0.113" stop-color="#ff9f00"/><stop offset="0.187" stop-color="#ff2700"/><stop offset="0.227" stop-color="#fe0000"/><stop offset="0.253" stop-color="#ed0000"/><stop offset="0.380" stop-color="#da0000"/><stop offset="0.600" stop-color="#9c0000"/></linearGradient>
<linearGradient id="g273" href="#gb"><stop offset="0.000" stop-color="#ffe900"/><stop offset="0.087" stop-color="#ffc600"/><stop offset="0.127" stop-color="#ff9d00"/><stop offset="0.200" stop-color="#ff2e00"/><stop offset="0.260" stop-color="#ff0200"/><stop offset="0.407" stop-color="#ec0000"/><stop offset="0.593" stop-color="#b90000"/></linearGradient>
<linearGradient id="g274" href="#gb"><stop offset="0.000" stop-color="#ffc400"/><stop offset="0.087" stop-color="#ff9f00"/><stop offset="0.207" stop-color="#fe0000"/><stop offset="0.260" stop-color="#de0000"/><stop offset="0.420" stop-color="#c90000"/><stop offset="0.580" stop-color="#9b0000"/></linearGradient>
<linearGradient id="g275" href="#gb"><stop offset="0.000" stop-color="#ffd500"/><stop offset="0.087" stop-color="#ffaa00"/><stop offset="0.193" stop-color="#ff1100"/><stop offset="0.220" stop-color="#ff0000"/><stop offset="0.253" stop-color="#ef0000"/><stop offset="0.407" stop-color="#df0000"/><stop offset="0.573" stop-color="#b20000"/></linearGradient>
<linearGradient id="g276" href="#gb"><stop offset="0.000" stop-color="#ffd700"/><stop offset="0.080" stop-color="#ffaa00"/><stop offset="0.193" stop-color="#ff1300"/><stop offset="0.233" stop-color="#ff0200"/><stop offset="0.327" stop-color="#f80000"/><stop offset="0.567" stop-color="#be0000"/></linearGradient>
<linearGradient id="g277" href="#gb"><stop offset="0.000" stop-color="#ffb100"/><stop offset="0.087" stop-color="#ff7800"/><stop offset="0.140" stop-color="#ff3300"/><stop offset="0.193" stop-color="#fb0000"/><stop offset="0.253" stop-color="#e10000"/><stop offset="0.333" stop-color="#db0000"/><stop offset="0.553" stop-color="#ab0000"/></linearGradient>
<linearGradient id="g278" href="#gb"><stop offset="0.000" stop-color="#ffba00"/><stop offset="0.073" stop-color="#ff7e00"/><stop offset="0.127" stop-color="#ff3600"/><stop offset="0.193" stop-color="#ff0200"/><stop offset="0.547" stop-color="#b80000"/></linearGradient>
<linearGradient id="g279" href="#gb"><stop offset="0.000" stop-color="#ff9100"/><stop offset="0.147" stop-color="#ff0000"/><stop offset="0.227" stop-color="#da0000"/><stop offset="0.540" stop-color="#9f0000"/></linearGradient>
<linearGradient id="g280" href="#gb"><stop offset="0.000" stop-color="#ff9a00"/><stop offset="0.127" stop-color="#ff1800"/><stop offset="0.180" stop-color="#ff0100"/><stop offset="0.533" stop-color="#ba0000"/></linearGradient>
<linearGradient id="g281" href="#gb"><stop offset="0.000" stop-color="#ff6300"/><stop offset="0.113" stop-color="#ff0100"/><stop offset="0.133" stop-color="#ef0000"/><stop offset="0.213" stop-color="#d50000"/><stop offset="0.527" stop-color="#a10000"/></linearGradient>
<linearGradient id="g282" href="#gb"><stop offset="0.000" stop-color="#ff5500"/><stop offset="0.067" stop-color="#ff1e00"/><stop offset="0.120" stop-color="#fd0000"/><stop offset="0.213" stop-color="#de0000"/><stop offset="0.520" stop-color="#b00000"/></linearGradient>
<linearGradient id="g283" href="#gb"><stop offset="0.000" stop-color="#ff2100"/><stop offset="0.047" stop-color="#fd0000"/><stop offset="0.073" stop-color="#ea0000"/><stop offset="0.187" stop-color="#c70000"/><stop offset="0.500" stop-color="#9b0000"/></linearGradient>
<linearGradient id="g284" href="#gb"><stop offset="0.000" stop-color="#ff0d00"/><stop offset="0.020" stop-color="#fe0000"/><stop offset="0.067" stop-color="#df0000"/><stop offset="0.173" stop-color="#c40000"/><stop offset="0.473" stop-color="#9e0000"/></linearGradient>
<linearGradient id="g285" href="#gb"><stop offset="0.000" stop-color="#f90000"/><stop offset="0.073" stop-color="#d70000"/><stop offset="0.133" stop-color="#c90000"/><stop offset="0.447" stop-color="#a70000"/></linearGradient>
<linearGradient id="g286" href="#gb"><stop offset="0.000" stop-color="#e80000"/><stop offset="0.147" stop-color="#c30000"/><stop offset="0.400" stop-color="#ad0000"/></linearGradient>
<linearGradient id="g287" href="#gb"><stop offset="0.000" stop-color="#ce0000"/><stop offset="0.127" stop-color="#b00000"/><stop offset="0.333" stop-color="#a20000"/></linearGradient>
<linearGradient id="g288" href="#gb"><stop offset="0.000" stop-color="#f10000"/><stop offset="0.120" stop-color="#d30000"/><stop offset="0.253" stop-color="#c90000"/></linearGradient>
<linearGradient id="g289" href="#gb"><stop offset="0.000" stop-color="#d60000"/><stop offset="0.120" stop-color="#b80000"/><stop offset="0.180" stop-color="#b30000"/></linearGradient>
<linearGradient id="g290" href="#gb"><stop offset="0.000" stop-color="#d60000"/><stop offset="0.140" stop-color="#b70000"/></linearGradient>
<linearGradient id="g291" href="#gb"><stop offset="0.000" stop-color="#d40000"/><stop offset="0.173" stop-color="#b40000"/></linearGradient>
<linearGradient id="g292" href="#gb"><stop offset="0.000" stop-color="#d10000"/><stop offset="0.120" stop-color="#b30000"/><stop offset="0.233" stop-color="#aa0000"/></linearGradient>
<linearGradient id="g293" href="#gb"><stop offset="0.000" stop-color="#ae0000"/><stop offset="0.113" stop-color="#8f0000"/><stop offset="0.293" stop-color="#810000"/></linearGradient>
<linearGradient id="g294" href="#gb"><stop offset="0.000" stop-color="#da0000"/><stop offset="0.113" stop-color="#bb0000"/><stop offset="0.333" stop-color="#aa0000"/></linearGradient>
<linearGradient id="g295" href="#gb"><stop offset="0.000" stop-color="#d40000"/><stop offset="0.107" stop-color="#b50000"/><stop offset="0.393" stop-color="#9d0000"/></linearGradient>
<linearGradient id="g296" href="#gb"><stop offset="0.000" stop-color="#ea0000"/><stop offset="0.107" stop-color="#c40000"/><stop offset="0.440" stop-color="#a30000"/></linearGradient>
<linearGradient id="g297" href="#gb"><stop offset="0.000" stop-color="#e70000"/><stop offset="0.173" stop-color="#b00000"/><stop offset="0.473" stop-color="#910000"/></linearGradient>
<linearGradient id="g298" href="#gb"><stop offset="0.000" stop-color="#ff2300"/><stop offset="0.073" stop-color="#fe0000"/><stop offset="0.173" stop-color="#e10000"/><stop offset="0.493" stop-color="#bc0000"/></linearGradient>
<linearGradient id="g299" href="#gb"><stop offset="0.000" stop-color="#ff0400"/><stop offset="0.187" stop-color="#b90000"/><stop offset="0.500" stop-color="#930000"/></linearGradient>
<linearGradient id="g300" href="#gb"><stop offset="0.000" stop-color="#ff3300"/><stop offset="0.107" stop-color="#ff0000"/><stop offset="0.200" stop-color="#de0000"/><stop offset="0.513" stop-color="#b30000"/></linearGradient>
<linearGradient id="g301" href="#gb"><stop offset="0.000" stop-color="#ff6100"/><stop offset="0.187" stop-color="#fe0000"/><stop offset="0.520" stop-color="#c50000"/></linearGradient>
<linearGradient id="g302" href="#gb"><stop offset="0.000" stop-color="#ff6e00"/><stop offset="0.067" stop-color="#ff4a00"/><stop offset="0.167" stop-color="#fe0000"/><stop offset="0.533" stop-color="#b80000"/></linearGradient>
<linearGradient id="g303" href="#gb"><stop offset="0.000" stop-color="#ff7f00"/><stop offset="0.073" stop-color="#ff5b00"/><stop offset="0.180" stop-color="#fe0000"/><stop offset="0.540" stop-color="#b00000"/></linearGradient>
<linearGradient id="g304" href="#gb"><stop offset="0.000" stop-color="#ff9200"/><stop offset="0.087" stop-color="#ff7400"/><stop offset="0.233" stop-color="#fd0000"/><stop offset="0.387" stop-color="#ea0000"/><stop offset="0.547" stop-color="#be0000"/></linearGradient>
<linearGradient id="g305" href="#gb"><stop offset="0.000" stop-color="#ff9c00"/><stop offset="0.080" stop-color="#ff7e00"/><stop offset="0.213" stop-color="#ff0400"/><stop offset="0.380" stop-color="#e70000"/><stop offset="0.553" stop-color="#b60000"/></linearGradient>
<linearGradient id="g306" href="#gb"><stop offset="0.000" stop-color="#ff9700"/><stop offset="0.073" stop-color="#ff7400"/><stop offset="0.147" stop-color="#ff1d00"/><stop offset="0.180" stop-color="#fc0000"/><stop offset="0.353" stop-color="#dc0000"/><stop offset="0.560" stop-color="#a20000"/></linearGradient>
<linearGradient id="g307" href="#gb"><stop offset="0.000" stop-color="#ffa800"/><stop offset="0.087" stop-color="#ff8300"/><stop offset="0.193" stop-color="#ff0c00"/><stop offset="0.227" stop-color="#ff0000"/><stop offset="0.567" stop-color="#aa0000"/></linearGradient>
<linearGradient id="g308" href="#gb"><stop offset="0.000" stop-color="#ffae00"/><stop offset="0.093" stop-color="#ff8f00"/><stop offset="0.220" stop-color="#ff0e00"/><stop offset="0.260" stop-color="#ff0100"/><stop offset="0.400" stop-color="#e60000"/><stop offset="0.580" stop-color="#b40000"/></linearGradient>
<linearGradient id="g309" href="#gb"><stop offset="0.000" stop-color="#ffce00"/><stop offset="0.087" stop-color="#ffb100"/><stop offset="0.207" stop-color="#ff2a00"/><stop offset="0.267" stop-color="#ff1100"/><stop offset="0.373" stop-color="#ff0000"/><stop offset="0.587" stop-color="#c10000"/></linearGradient>
<linearGradient id="g310" href="#gb"><stop offset="0.000" stop-color="#ffb500"/><stop offset="0.107" stop-color="#ff9600"/><stop offset="0.233" stop-color="#ff1500"/><stop offset="0.273" stop-color="#ff0100"/><stop offset="0.600" stop-color="#ad0000"/></linearGradient>
<linearGradient id="g311" href="#gb"><stop offset="0.000" stop-color="#ffb600"/><stop offset="0.107" stop-color="#ff9900"/><stop offset="0.133" stop-color="#ff8600"/><stop offset="0.240" stop-color="#ff0f00"/><stop offset="0.267" stop-color="#ff0000"/><stop offset="0.613" stop-color="#a30000"/></linearGradient>
<linearGradient id="g312" href="#gb"><stop offset="0.000" stop-color="#ffce00"/><stop offset="0.093" stop-color="#ffb600"/><stop offset="0.127" stop-color="#ffa400"/><stop offset="0.227" stop-color="#ff2700"/><stop offset="0.300" stop-color="#ff0000"/><stop offset="0.627" stop-color="#b10000"/></linearGradient>
<linearGradient id="g313" href="#gb"><stop offset="0.000" stop-color="#ffe700"/><stop offset="0.113" stop-color="#ffc200"/><stop offset="0.213" stop-color="#ff3300"/><stop offset="0.273" stop-color="#ff1200"/><stop offset="0.360" stop-color="#fe0000"/><stop offset="0.640" stop-color="#b30000"/></linearGradient>
<linearGradient id="g314" href="#gb"><stop offset="0.000" stop-color="#ffe700"/><stop offset="0.113" stop-color="#ffc700"/><stop offset="0.213" stop-color="#ff3100"/><stop offset="0.280" stop-color="#ff0a00"/><stop offset="0.367" stop-color="#f60000"/><stop offset="0.653" stop-color="#aa0000"/></linearGradient>
<linearGradient id="g315" href="#gb"><stop offset="0.000" stop-color="#ffca00"/><stop offset="0.120" stop-color="#ffab00"/><stop offset="0.220" stop-color="#ff1200"/><stop offset="0.247" stop-color="#fe0000"/><stop offset="0.293" stop-color="#e40000"/><stop offset="0.680" stop-color="#840000"/></linearGradient>
<linearGradient id="g316" href="#gb"><stop offset="0.000" stop-color="#ffe800"/><stop offset="0.093" stop-color="#ffce00"/><stop offset="0.120" stop-color="#ff9b00"/><stop offset="0.193" stop-color="#ff2b00"/><stop offset="0.260" stop-color="#ff0200"/><stop offset="0.593" stop-color="#ab0000"/><stop offset="0.700" stop-color="#9a0000"/></linearGradient>
<linearGradient id="g317" href="#gb"><stop offset="0.000" stop-color="#ffe900"/><stop offset="0.107" stop-color="#ffcf00"/><stop offset="0.207" stop-color="#ff2a00"/><stop offset="0.267" stop-color="#ff0200"/><stop offset="0.593" stop-color="#ab0000"/><stop offset="0.727" stop-color="#990000"/></linearGradient>
<linearGradient id="g318" href="#gb"><stop offset="0.000" stop-color="#ffea00"/><stop offset="0.100" stop-color="#ffd100"/><stop offset="0.193" stop-color="#ff2e00"/><stop offset="0.260" stop-color="#ff0500"/><stop offset="0.353" stop-color="#f00000"/><stop offset="0.593" stop-color="#ad0000"/><stop offset="0.760" stop-color="#980000"/></linearGradient>
<linearGradient id="g319" href="#gb"><stop offset="0.000" stop-color="#ffd800"/><stop offset="0.107" stop-color="#ffbf00"/><stop offset="0.200" stop-color="#ff2100"/><stop offset="0.247" stop-color="#fd0000"/><stop offset="0.593" stop-color="#9b0000"/><stop offset="0.793" stop-color="#830000"/></linearGradient>
<linearGradient id="g320" href="#gb"><stop offset="0.000" stop-color="#ffe800"/><stop offset="0.100" stop-color="#ffcf00"/><stop offset="0.193" stop-color="#ff2f00"/><stop offset="0.260" stop-color="#ff0200"/><stop offset="0.593" stop-color="#aa0000"/><stop offset="0.827" stop-color="#900000"/></linearGradient>
<linearGradient id="g321" href="#gb"><stop offset="0.000" stop-color="#ffeb00"/><stop offset="0.133" stop-color="#ffd000"/><stop offset="0.247" stop-color="#ff3400"/><stop offset="0.327" stop-color="#ff0500"/><stop offset="0.420" stop-color="#f00000"/><stop offset="0.660" stop-color="#ae0000"/><stop offset="0.860" stop-color="#960000"/></linearGradient>
<linearGradient id="g322" href="#gb"><stop offset="0.000" stop-color="#fff300"/><stop offset="0.140" stop-color="#ffd500"/><stop offset="0.260" stop-color="#ff3600"/><stop offset="0.327" stop-color="#ff0d00"/><stop offset="0.420" stop-color="#f80000"/><stop offset="0.660" stop-color="#b60000"/><stop offset="0.893" stop-color="#9b0000"/></linearGradient>
<linearGradient id="g323" href="#gb"><stop offset="0.000" stop-color="#ffe200"/><stop offset="0.133" stop-color="#ffc600"/><stop offset="0.247" stop-color="#ff2800"/><stop offset="0.313" stop-color="#ff0100"/><stop offset="0.660" stop-color="#a50000"/><stop offset="0.927" stop-color="#880000"/></linearGradient>
<linearGradient id="g324" href="#gb"><stop offset="0.000" stop-color="#ffd400"/><stop offset="0.133" stop-color="#ffbb00"/><stop offset="0.253" stop-color="#ff1c00"/><stop offset="0.300" stop-color="#fe0000"/><stop offset="0.327" stop-color="#ee0000"/><stop offset="0.660" stop-color="#970000"/><stop offset="0.753" stop-color="#880000"/><stop offset="0.953" stop-color="#800000"/></linearGradient>
<linearGradient id="g325" href="#gb"><stop offset="0.000" stop-color="#ffe200"/><stop offset="0.113" stop-color="#ffc600"/><stop offset="0.207" stop-color="#ff2c00"/><stop offset="0.267" stop-color="#ff0000"/><stop offset="0.593" stop-color="#a50000"/><stop offset="0.973" stop-color="#810000"/></linearGradient>
<linearGradient id="g326" href="#gb"><stop offset="0.000" stop-color="#ffd600"/><stop offset="0.087" stop-color="#ffbc00"/><stop offset="0.193" stop-color="#ff1900"/><stop offset="0.233" stop-color="#ff0000"/><stop offset="0.260" stop-color="#ef0000"/><stop offset="0.593" stop-color="#980000"/><stop offset="0.807" stop-color="#800000"/><stop offset="0.980" stop-color="#800000"/></linearGradient>
<linearGradient id="g327" href="#gb"><stop offset="0.000" stop-color="#ffde00"/><stop offset="0.100" stop-color="#ffc500"/><stop offset="0.193" stop-color="#ff2200"/><stop offset="0.247" stop-color="#ff0100"/><stop offset="0.593" stop-color="#a10000"/><stop offset="0.687" stop-color="#920000"/><stop offset="0.980" stop-color="#800000"/></linearGradient>
<linearGradient id="g328" href="#gb"><stop offset="0.000" stop-color="#ffdf00"/><stop offset="0.127" stop-color="#ffc500"/><stop offset="0.240" stop-color="#ff2400"/><stop offset="0.300" stop-color="#ff0000"/><stop offset="0.660" stop-color="#a10000"/><stop offset="0.980" stop-color="#800000"/></linearGradient>
<linearGradient id="g329" href="#gb"><stop offset="0.000" stop-color="#ffd800"/><stop offset="0.127" stop-color="#ffb600"/><stop offset="0.240" stop-color="#ff1d00"/><stop offset="0.293" stop-color="#ff0100"/><stop offset="0.660" stop-color="#a10000"/><stop offset="0.980" stop-color="#800000"/></linearGradient>
<linearGradient id="g330" href="#gb"><stop offset="0.000" stop-color="#ffcf00"/><stop offset="0.127" stop-color="#ff9f00"/><stop offset="0.240" stop-color="#ff1a00"/><stop offset="0.293" stop-color="#ff0100"/><stop offset="0.660" stop-color="#a30000"/><stop offset="0.980" stop-color="#820000"/></linearGradient>
<linearGradient id="g331" href="#gb"><stop offset="0.000" stop-color="#ffb700"/><stop offset="0.087" stop-color="#ff9900"/><stop offset="0.133" stop-color="#ff7900"/><stop offset="0.213" stop-color="#ff2000"/><stop offset="0.260" stop-color="#fe0000"/><stop offset="0.660" stop-color="#970000"/><stop offset="0.847" stop-color="#800000"/><stop offset="0.980" stop-color="#800000"/></linearGradient>
<linearGradient id="g332" href="#gb"><stop offset="0.000" stop-color="#ffb300"/><stop offset="0.073" stop-color="#ff8d00"/><stop offset="0.167" stop-color="#ff1900"/><stop offset="0.207" stop-color="#fe0000"/><stop offset="0.687" stop-color="#8e0000"/><stop offset="0.980" stop-color="#800000"/></linearGradient>
<linearGradient id="g333" href="#gb"><stop offset="0.000" stop-color="#ffba00"/><stop offset="0.073" stop-color="#ff9200"/><stop offset="0.173" stop-color="#ff1a00"/><stop offset="0.233" stop-color="#fe0000"/><stop offset="0.300" stop-color="#fb0000"/><stop offset="0.593" stop-color="#aa0000"/><stop offset="0.687" stop-color="#9b0000"/><stop offset="0.980" stop-color="#870000"/></linearGradient>
<linearGradient id="g334" href="#gb"><stop offset="0.000" stop-color="#ffb100"/><stop offset="0.093" stop-color="#ff8900"/><stop offset="0.220" stop-color="#ff0e00"/><stop offset="0.253" stop-color="#ff0100"/><stop offset="0.420" stop-color="#e40000"/><stop offset="0.660" stop-color="#a20000"/><stop offset="0.980" stop-color="#800000"/></linearGradient>
<linearGradient id="g335" href="#gb"><stop offset="0.000" stop-color="#ffb300"/><stop offset="0.087" stop-color="#ff8800"/><stop offset="0.193" stop-color="#ff1400"/><stop offset="0.240" stop-color="#ff0100"/><stop offset="0.407" stop-color="#e70000"/><stop offset="0.660" stop-color="#a40000"/><stop offset="0.980" stop-color="#830000"/></linearGradient>
<linearGradient id="g336" href="#gb"><stop offset="0.000" stop-color="#ffad00"/><stop offset="0.060" stop-color="#ff8500"/><stop offset="0.153" stop-color="#ff0900"/><stop offset="0.180" stop-color="#fe0000"/><stop offset="0.220" stop-color="#ef0000"/><stop offset="0.353" stop-color="#e00000"/><stop offset="0.593" stop-color="#9d0000"/><stop offset="0.687" stop-color="#8e0000"/><stop offset="0.980" stop-color="#800000"/></linearGradient>
<linearGradient id="g337" href="#gb"><stop offset="0.000" stop-color="#ffb000"/><stop offset="0.067" stop-color="#ff8900"/><stop offset="0.160" stop-color="#ff0f00"/><stop offset="0.193" stop-color="#fe0000"/><stop offset="0.220" stop-color="#f30000"/><stop offset="0.353" stop-color="#e30000"/><stop offset="0.593" stop-color="#a10000"/><stop offset="0.687" stop-color="#920000"/><stop offset="0.980" stop-color="#800000"/></linearGradient>
<linearGradient id="g338" href="#gb"><stop offset="0.000" stop-color="#ffad00"/><stop offset="0.073" stop-color="#ff8600"/><stop offset="0.173" stop-color="#ff0e00"/><stop offset="0.200" stop-color="#ff0100"/><stop offset="0.240" stop-color="#f00000"/><stop offset="0.360" stop-color="#e20000"/><stop offset="0.593" stop-color="#9e0000"/><stop offset="0.687" stop-color="#8f0000"/><stop offset="0.980" stop-color="#800000"/></linearGradient>
<linearGradient id="g339" href="#gb"><stop offset="0.000" stop-color="#ffd200"/><stop offset="0.080" stop-color="#ffa800"/><stop offset="0.187" stop-color="#ff2900"/><stop offset="0.253" stop-color="#ff0a00"/><stop offset="0.360" stop-color="#fe0000"/><stop offset="0.633" stop-color="#b60000"/><stop offset="0.727" stop-color="#a60000"/><stop offset="0.980" stop-color="#930000"/></linearGradient>
<linearGradient id="g340" href="#gb"><stop offset="0.000" stop-color="#ffce00"/><stop offset="0.067" stop-color="#ffa900"/><stop offset="0.153" stop-color="#ff3100"/><stop offset="0.207" stop-color="#ff0000"/><stop offset="0.360" stop-color="#e20000"/><stop offset="0.593" stop-color="#9f0000"/><stop offset="0.687" stop-color="#8f0000"/><stop offset="0.980" stop-color="#800000"/></linearGradient>
<linearGradient id="g341" href="#gb"><stop offset="0.000" stop-color="#ffd500"/><stop offset="0.067" stop-color="#ffb200"/><stop offset="0.153" stop-color="#ff2f00"/><stop offset="0.200" stop-color="#ff0000"/><stop offset="0.220" stop-color="#ee0000"/><stop offset="0.367" stop-color="#d60000"/><stop offset="0.600" stop-color="#930000"/><stop offset="0.687" stop-color="#840000"/><stop offset="0.980" stop-color="#800000"/></linearGradient>
<linearGradient id="g342" href="#gb"><stop offset="0.000" stop-color="#feff01"/><stop offset="0.053" stop-color="#ffe200"/><stop offset="0.127" stop-color="#ff5500"/><stop offset="0.193" stop-color="#ff1100"/><stop offset="0.313" stop-color="#fe0000"/><stop offset="0.593" stop-color="#b40000"/><stop offset="0.687" stop-color="#a40000"/><stop offset="0.980" stop-color="#900000"/></linearGradient>
<linearGradient id="g343" href="#gb"><stop offset="0.000" stop-color="#ffdc00"/><stop offset="0.067" stop-color="#ffb900"/><stop offset="0.153" stop-color="#ff2e00"/><stop offset="0.200" stop-color="#fd0000"/><stop offset="0.220" stop-color="#eb0000"/><stop offset="0.367" stop-color="#d30000"/><stop offset="0.593" stop-color="#910000"/><stop offset="0.687" stop-color="#810000"/><stop offset="0.980" stop-color="#800000"/></linearGradient>
<linearGradient id="g344" href="#gb"><stop offset="0.000" stop-color="#ffed00"/><stop offset="0.080" stop-color="#ffcd00"/><stop offset="0.187" stop-color="#ff4400"/><stop offset="0.260" stop-color="#fb0000"/><stop offset="0.420" stop-color="#e20000"/><stop offset="0.660" stop-color="#a00000"/><stop offset="0.980" stop-color="#800000"/></linearGradient>
<linearGradient id="g345" href="#gb"><stop offset="0.000" stop-color="#fff300"/><stop offset="0.080" stop-color="#ffd400"/><stop offset="0.193" stop-color="#ff4500"/><stop offset="0.260" stop-color="#ff0300"/><stop offset="0.420" stop-color="#e80000"/><stop offset="0.660" stop-color="#a60000"/><stop offset="0.980" stop-color="#850000"/></linearGradient>
<linearGradient id="g346" href="#gb"><stop offset="0.000" stop-color="#f7ff08"/><stop offset="0.060" stop-color="#ffe800"/><stop offset="0.147" stop-color="#ff5c00"/><stop offset="0.213" stop-color="#ff1600"/><stop offset="0.347" stop-color="#ff0000"/><stop offset="0.593" stop-color="#b90000"/><stop offset="0.687" stop-color="#aa0000"/><stop offset="0.980" stop-color="#960000"/></linearGradient>
<linearGradient id="g347" href="#gb"><stop offset="0.000" stop-color="#ffe400"/><stop offset="0.060" stop-color="#ffc500"/><stop offset="0.153" stop-color="#ff3300"/><stop offset="0.207" stop-color="#fa0000"/><stop offset="0.367" stop-color="#d80000"/><stop offset="0.593" stop-color="#960000"/><stop offset="0.687" stop-color="#870000"/><stop offset="0.980" stop-color="#800000"/></linearGradient>
<linearGradient id="g348" href="#gb"><stop offset="0.000" stop-color="#fffd00"/><stop offset="0.047" stop-color="#ffdf00"/><stop offset="0.093" stop-color="#ff8300"/><stop offset="0.127" stop-color="#ff4e00"/><stop offset="0.193" stop-color="#ff0c00"/><stop offset="0.293" stop-color="#fe0000"/><stop offset="0.593" stop-color="#af0000"/><stop offset="0.687" stop-color="#a00000"/><stop offset="0.980" stop-color="#8b0000"/></linearGradient>
<linearGradient id="g349" href="#gb"><stop offset="0.000" stop-color="#fff800"/><stop offset="0.060" stop-color="#ffd300"/><stop offset="0.140" stop-color="#ff4600"/><stop offset="0.200" stop-color="#ff0600"/><stop offset="0.280" stop-color="#fb0000"/><stop offset="0.687" stop-color="#9a0000"/><stop offset="0.980" stop-color="#860000"/></linearGradient>
<linearGradient id="g350" href="#gb"><stop offset="0.000" stop-color="#ffeb00"/><stop offset="0.067" stop-color="#ffcb00"/><stop offset="0.160" stop-color="#ff3e00"/><stop offset="0.227" stop-color="#fa0000"/><stop offset="0.387" stop-color="#e00000"/><stop offset="0.633" stop-color="#9c0000"/><stop offset="0.727" stop-color="#8d0000"/><stop offset="0.980" stop-color="#800000"/></linearGradient>
<linearGradient id="g351" href="#gb"><stop offset="0.000" stop-color="#ffff00"/><stop offset="0.060" stop-color="#ffde00"/><stop offset="0.147" stop-color="#ff4d00"/><stop offset="0.207" stop-color="#ff0c00"/><stop offset="0.293" stop-color="#ff0000"/><stop offset="0.593" stop-color="#b00000"/><stop offset="0.687" stop-color="#a00000"/><stop offset="0.980" stop-color="#8c0000"/></linearGradient>
<linearGradient id="g352" href="#gb"><stop offset="0.000" stop-color="#ffff00"/><stop offset="0.067" stop-color="#ffdb00"/><stop offset="0.153" stop-color="#ff5300"/><stop offset="0.227" stop-color="#ff0b00"/><stop offset="0.320" stop-color="#fe0000"/><stop offset="0.700" stop-color="#a10000"/><stop offset="0.980" stop-color="#8c0000"/></linearGradient>
<linearGradient id="g353" href="#gb"><stop offset="0.000" stop-color="#fdff02"/><stop offset="0.067" stop-color="#ffe000"/><stop offset="0.167" stop-color="#ff4f00"/><stop offset="0.233" stop-color="#ff0f00"/><stop offset="0.347" stop-color="#fe0000"/><stop offset="0.740" stop-color="#a20000"/><stop offset="0.980" stop-color="#900000"/></linearGradient>
<linearGradient id="g354" href="#gb"><stop offset="0.000" stop-color="#fff400"/><stop offset="0.073" stop-color="#ffd200"/><stop offset="0.173" stop-color="#ff4600"/><stop offset="0.253" stop-color="#ff0100"/><stop offset="0.420" stop-color="#e70000"/><stop offset="0.660" stop-color="#a50000"/><stop offset="0.980" stop-color="#830000"/></linearGradient>
<linearGradient id="g355" href="#gb"><stop offset="0.000" stop-color="#ffec00"/><stop offset="0.073" stop-color="#ffc600"/><stop offset="0.167" stop-color="#ff4000"/><stop offset="0.233" stop-color="#ff0000"/><stop offset="0.413" stop-color="#de0000"/><stop offset="0.660" stop-color="#9c0000"/><stop offset="0.980" stop-color="#800000"/></linearGradient>
<linearGradient id="g356" href="#gb"><stop offset="0.000" stop-color="#ffef00"/><stop offset="0.067" stop-color="#ffcd00"/><stop offset="0.167" stop-color="#ff3b00"/><stop offset="0.227" stop-color="#ff0100"/><stop offset="0.393" stop-color="#e10000"/><stop offset="0.647" stop-color="#9e0000"/><stop offset="0.980" stop-color="#800000"/></linearGradient>
<linearGradient id="g357" href="#gb"><stop offset="0.000" stop-color="#ffef00"/><stop offset="0.053" stop-color="#ffce00"/><stop offset="0.133" stop-color="#ff3d00"/><stop offset="0.193" stop-color="#fa0000"/><stop offset="0.353" stop-color="#e10000"/><stop offset="0.593" stop-color="#9e0000"/><stop offset="0.687" stop-color="#8f0000"/><stop offset="0.980" stop-color="#800000"/></linearGradient>
<linearGradient id="g358" href="#gb"><stop offset="0.000" stop-color="#fff800"/><stop offset="0.053" stop-color="#ffd300"/><stop offset="0.127" stop-color="#ff4700"/><stop offset="0.193" stop-color="#ff0400"/><stop offset="0.280" stop-color="#f90000"/><stop offset="0.687" stop-color="#980000"/><stop offset="0.980" stop-color="#840000"/></linearGradient>
<linearGradient id="g359" href="#gb"><stop offset="0.000" stop-color="#fff300"/><stop offset="0.060" stop-color="#ffce00"/><stop offset="0.140" stop-color="#ff4500"/><stop offset="0.200" stop-color="#ff0100"/><stop offset="0.353" stop-color="#e40000"/><stop offset="0.593" stop-color="#a10000"/><stop offset="0.687" stop-color="#920000"/><stop offset="0.980" stop-color="#800000"/></linearGradient>
<linearGradient id="g360" href="#gb"><stop offset="0.000" stop-color="#fffd00"/><stop offset="0.067" stop-color="#ffda00"/><stop offset="0.160" stop-color="#ff4b00"/><stop offset="0.227" stop-color="#ff0900"/><stop offset="0.313" stop-color="#fd0000"/><stop offset="0.720" stop-color="#9c0000"/><stop offset="0.980" stop-color="#880000"/></linearGradient>
<linearGradient id="g361" href="#gb"><stop offset="0.000" stop-color="#fffc00"/><stop offset="0.067" stop-color="#ffc100"/><stop offset="0.160" stop-color="#ff3200"/><stop offset="0.207" stop-color="#ff0100"/><stop offset="0.233" stop-color="#e80000"/><stop offset="0.393" stop-color="#cd0000"/><stop offset="0.640" stop-color="#8a0000"/><stop offset="0.707" stop-color="#800000"/><stop offset="0.980" stop-color="#800000"/></linearGradient>
<linearGradient id="g362" href="#gb"><stop offset="0.000" stop-color="#b6ff49"/><stop offset="0.060" stop-color="#fff900"/><stop offset="0.187" stop-color="#ff4600"/><stop offset="0.267" stop-color="#ff0000"/><stop offset="0.420" stop-color="#e30000"/><stop offset="0.660" stop-color="#a10000"/><stop offset="0.980" stop-color="#800000"/></linearGradient>
<linearGradient id="g363" href="#gb"><stop offset="0.000" stop-color="#65ff9a"/><stop offset="0.073" stop-color="#fffe00"/><stop offset="0.173" stop-color="#ff5800"/><stop offset="0.240" stop-color="#ff1800"/><stop offset="0.380" stop-color="#ff0000"/><stop offset="0.633" stop-color="#ba0000"/><stop offset="0.980" stop-color="#980000"/></linearGradient>
<linearGradient id="g364" href="#gb"><stop offset="0.000" stop-color="#59ffa6"/><stop offset="0.060" stop-color="#f7ff08"/><stop offset="0.067" stop-color="#fff900"/><stop offset="0.160" stop-color="#ff5000"/><stop offset="0.227" stop-color="#ff0c00"/><stop offset="0.307" stop-color="#fe0000"/><stop offset="0.593" stop-color="#b00000"/><stop offset="0.687" stop-color="#a10000"/><stop offset="0.980" stop-color="#8d0000"/></linearGradient>
<linearGradient id="g365" href="#gb"><stop offset="0.000" stop-color="#afff50"/><stop offset="0.047" stop-color="#fffa00"/><stop offset="0.067" stop-color="#ffd000"/><stop offset="0.173" stop-color="#ff2900"/><stop offset="0.220" stop-color="#fd0000"/><stop offset="0.247" stop-color="#e90000"/><stop offset="0.387" stop-color="#d30000"/><stop offset="0.633" stop-color="#900000"/><stop offset="0.740" stop-color="#800000"/><stop offset="0.980" stop-color="#800000"/></linearGradient>
<linearGradient id="g366" href="#gb"><stop offset="0.000" stop-color="#bfff40"/><stop offset="0.053" stop-color="#fff800"/><stop offset="0.173" stop-color="#ff4400"/><stop offset="0.240" stop-color="#ff0d00"/><stop offset="0.347" stop-color="#fe0000"/><stop offset="0.620" stop-color="#b40000"/><stop offset="0.713" stop-color="#a50000"/><stop offset="0.980" stop-color="#900000"/></linearGradient>
<linearGradient id="g367" href="#gb"><stop offset="0.000" stop-color="#ffff00"/><stop offset="0.053" stop-color="#ffd800"/><stop offset="0.180" stop-color="#ff3300"/><stop offset="0.247" stop-color="#ff0100"/><stop offset="0.400" stop-color="#eb0000"/><stop offset="0.653" stop-color="#a80000"/><stop offset="0.980" stop-color="#870000"/></linearGradient>
<linearGradient id="g368" href="#gb"><stop offset="0.000" stop-color="#fff400"/><stop offset="0.053" stop-color="#ffc900"/><stop offset="0.167" stop-color="#ff2c00"/><stop offset="0.220" stop-color="#ff0100"/><stop offset="0.700" stop-color="#8f0000"/><stop offset="0.980" stop-color="#800000"/></linearGradient>
<linearGradient id="g369" href="#gb"><stop offset="0.000" stop-color="#f8ff07"/><stop offset="0.060" stop-color="#ffdb00"/><stop offset="0.187" stop-color="#ff4000"/><stop offset="0.267" stop-color="#ff0800"/><stop offset="0.367" stop-color="#fe0000"/><stop offset="0.660" stop-color="#b10000"/><stop offset="0.753" stop-color="#a10000"/><stop offset="0.980" stop-color="#8f0000"/></linearGradient>
<linearGradient id="g370" href="#gb"><stop offset="0.000" stop-color="#ffea00"/><stop offset="0.053" stop-color="#ffc400"/><stop offset="0.180" stop-color="#ff2300"/><stop offset="0.227" stop-color="#ff0000"/><stop offset="0.253" stop-color="#ed0000"/><stop offset="0.407" stop-color="#d80000"/><stop offset="0.660" stop-color="#960000"/><stop offset="0.847" stop-color="#800000"/><stop offset="0.980" stop-color="#800000"/></linearGradient>
<linearGradient id="g371" href="#gb"><stop offset="0.000" stop-color="#ffe200"/><stop offset="0.060" stop-color="#ffb700"/><stop offset="0.187" stop-color="#ff1b00"/><stop offset="0.227" stop-color="#fd0000"/><stop offset="0.260" stop-color="#e60000"/><stop offset="0.420" stop-color="#d10000"/><stop offset="0.660" stop-color="#8f0000"/><stop offset="0.753" stop-color="#800000"/><stop offset="0.980" stop-color="#800000"/></linearGradient>
<linearGradient id="g372" href="#gb"><stop offset="0.000" stop-color="#feff01"/><stop offset="0.060" stop-color="#ffd300"/><stop offset="0.187" stop-color="#ff3600"/><stop offset="0.253" stop-color="#ff0600"/><stop offset="0.333" stop-color="#ff0000"/><stop offset="0.753" stop-color="#9e0000"/><stop offset="0.980" stop-color="#8c0000"/></linearGradient>
<linearGradient id="g373" href="#gb"><stop offset="0.000" stop-color="#ffe700"/><stop offset="0.060" stop-color="#ffbf00"/><stop offset="0.193" stop-color="#ff2400"/><stop offset="0.247" stop-color="#fe0000"/><stop offset="0.273" stop-color="#ec0000"/><stop offset="0.420" stop-color="#d80000"/><stop offset="0.660" stop-color="#950000"/><stop offset="0.833" stop-color="#800000"/><stop offset="0.980" stop-color="#800000"/></linearGradient>
<linearGradient id="g374" href="#gb"><stop offset="0.000" stop-color="#ffff00"/><stop offset="0.053" stop-color="#ffd300"/><stop offset="0.167" stop-color="#ff3800"/><stop offset="0.233" stop-color="#ff0500"/><stop offset="0.307" stop-color="#fe0000"/><stop offset="0.687" stop-color="#9f0000"/><stop offset="0.980" stop-color="#8a0000"/></linearGradient>
<linearGradient id="g375" href="#gb"><stop offset="0.000" stop-color="#feff01"/><stop offset="0.053" stop-color="#ffd500"/><stop offset="0.167" stop-color="#ff3c00"/><stop offset="0.233" stop-color="#ff0700"/><stop offset="0.313" stop-color="#ff0000"/><stop offset="0.693" stop-color="#a10000"/><stop offset="0.980" stop-color="#8c0000"/></linearGradient>
<linearGradient id="g376" href="#gb"><stop offset="0.000" stop-color="#fff000"/><stop offset="0.053" stop-color="#ffc600"/><stop offset="0.173" stop-color="#ff2900"/><stop offset="0.227" stop-color="#ff0000"/><stop offset="0.380" stop-color="#e30000"/><stop offset="0.620" stop-color="#a00000"/><stop offset="0.980" stop-color="#800000"/></linearGradient>
<linearGradient id="g377" href="#gb"><stop offset="0.000" stop-color="#ffef00"/><stop offset="0.053" stop-color="#ffc600"/><stop offset="0.173" stop-color="#ff2b00"/><stop offset="0.233" stop-color="#fc0000"/><stop offset="0.387" stop-color="#e20000"/><stop offset="0.627" stop-color="#a00000"/><stop offset="0.980" stop-color="#800000"/></linearGradient>
<linearGradient id="g378" href="#gb"><stop offset="0.000" stop-color="#fff900"/><stop offset="0.060" stop-color="#ffd000"/><stop offset="0.193" stop-color="#ff3700"/><stop offset="0.273" stop-color="#ff0200"/><stop offset="0.420" stop-color="#ed0000"/><stop offset="0.660" stop-color="#aa0000"/><stop offset="0.980" stop-color="#890000"/></linearGradient>
<linearGradient id="g379" href="#gb"><stop offset="0.000" stop-color="#ffe600"/><stop offset="0.053" stop-color="#ffbb00"/><stop offset="0.167" stop-color="#ff2400"/><stop offset="0.213" stop-color="#fd0000"/><stop offset="0.233" stop-color="#ef0000"/><stop offset="0.367" stop-color="#dc0000"/><stop offset="0.600" stop-color="#990000"/><stop offset="0.687" stop-color="#8a0000"/><stop offset="0.980" stop-color="#800000"/></linearGradient>
<g id="field" shape-rendering="crispEdges"><rect x="76.78" y="37" width="1.52" height="151" fill="url(#g0)"/>
<rect x="78.00" y="37" width="1.52" height="151" fill="url(#g1)"/>
<rect x="79.22" y="37" width="1.52" height="151" fill="url(#g2)"/>
<rect x="80.44" y="37" width="1.52" height="151" fill="url(#g3)"/>
<rect x="81.66" y="37" width="1.52" height="151" fill="url(#g4)"/>
<rect x="82.88" y="37" width="1.52" height="151" fill="url(#g5)"/>
<rect x="84.10" y="37" width="1.52" height="151" fill="url(#g6)"/>
<rect x="85.32" y="37" width="1.52" height="151" fill="url(#g7)"/>
<rect x="86.54" y="37" width="1.52" height="151" fill="url(#g8)"/>
<rect x="87.76" y="37" width="1.52" height="151" fill="url(#g9)"/>
<rect x="88.98" y="37" width="1.52" height="151" fill="url(#g10)"/>
<rect x="90.20" y="37" width="1.52" height="151" fill="url(#g11)"/>
<rect x="91.42" y="37" width="1.52" height="151" fill="url(#g12)"/>
<rect x="92.64" y="37" width="1.52" height="151" fill="url(#g13)"/>
<rect x="93.86" y="37" width="1.52" height="151" fill="url(#g14)"/>
<rect x="95.08" y="37" width="1.52" height="151" fill="url(#g15)"/>
<rect x="96.30" y="37" width="1.52" height="151" fill="url(#g16)"/>
<rect x="97.52" y="37" width="1.52" height="151" fill="url(#g17)"/>
<rect x="98.73" y="37" width="1.52" height="151" fill="url(#g18)"/>
<rect x="99.95" y="37" width="1.52" height="151" fill="url(#g19)"/>
<rect x="101.17" y="37" width="1.52" height="151" fill="url(#g20)"/>
<rect x="102.39" y="37" width="1.52" height="151" fill="url(#g21)"/>
<rect x="103.61" y="37" width="1.52" height="151" fill="url(#g22)"/>
<rect x="104.83" y="37" width="1.52" height="151" fill="url(#g23)"/>
<rect x="106.05" y="37" width="1.52" height="151" fill="url(#g24)"/>
<rect x="107.27" y="37" width="1.52" height="151" fill="url(#g25)"/>
<rect x="108.49" y="37" width="1.52" height="151" fill="url(#g26)"/>
<rect x="109.71" y="37" width="1.52" height="151" fill="url(#g27)"/>
<rect x="110.93" y="37" width="1.52" height="151" fill="url(#g28)"/>
<rect x="112.15" y="37" width="1.52" height="151" fill="url(#g29)"/>
<rect x="113.37" y="37" width="1.52" height="151" fill="url(#g30)"/>
<rect x="114.59" y="37" width="1.52" height="151" fill="url(#g31)"/>
<rect x="115.81" y="37" width="1.52" height="151" fill="url(#g32)"/>
<rect x="117.03" y="37" width="1.52" height="151" fill="url(#g33)"/>
<rect x="118.25" y="37" width="1.52" height="151" fill="url(#g34)"/>
<rect x="119.47" y="37" width="1.52" height="151" fill="url(#g35)"/>
<rect x="120.69" y="37" width="1.52" height="151" fill="url(#g36)"/>
<rect x="121.91" y="37" width="1.52" height="151" fill="url(#g37)"/>
<rect x="123.13" y="37" width="1.52" height="151" fill="url(#g38)"/>
<rect x="124.35" y="37" width="1.52" height="151" fill="url(#g39)"/>
<rect x="125.57" y="37" width="1.52" height="151" fill="url(#g40)"/>
<rect x="126.79" y="37" width="1.52" height="151" fill="url(#g41)"/>
<rect x="128.01" y="37" width="1.52" height="151" fill="url(#g42)"/>
<rect x="129.23" y="37" width="1.52" height="151" fill="url(#g43)"/>
<rect x="130.45" y="37" width="1.52" height="151" fill="url(#g44)"/>
<rect x="131.67" y="37" width="1.52" height="151" fill="url(#g45)"/>
<rect x="132.89" y="37" width="1.52" height="151" fill="url(#g46)"/>
<rect x="134.11" y="37" width="1.52" height="151" fill="url(#g47)"/>
<rect x="135.33" y="37" width="1.52" height="151" fill="url(#g48)"/>
<rect x="136.55" y="37" width="1.52" height="151" fill="url(#g49)"/>
<rect x="137.77" y="37" width="1.52" height="151" fill="url(#g50)"/>
<rect x="138.99" y="37" width="1.52" height="151" fill="url(#g51)"/>
<rect x="140.20" y="37" width="1.52" height="151" fill="url(#g52)"/>
<rect x="141.42" y="37" width="1.52" height="151" fill="url(#g53)"/>
<rect x="142.64" y="37" width="1.52" height="151" fill="url(#g54)"/>
<rect x="143.86" y="37" width="1.52" height="151" fill="url(#g55)"/>
<rect x="145.08" y="37" width="1.52" height="151" fill="url(#g56)"/>
<rect x="146.30" y="37" width="1.52" height="151" fill="url(#g57)"/>
<rect x="147.52" y="37" width="1.52" height="151" fill="url(#g58)"/>
<rect x="148.74" y="37" width="1.52" height="151" fill="url(#g59)"/>
<rect x="149.96" y="37" width="1.52" height="151" fill="url(#g60)"/>
<rect x="151.18" y="37" width="1.52" height="151" fill="url(#g61)"/>
<rect x="152.40" y="37" width="1.52" height="151" fill="url(#g62)"/>
<rect x="153.62" y="37" width="1.52" height="151" fill="url(#g63)"/>
<rect x="154.84" y="37" width="1.52" height="151" fill="url(#g64)"/>
<rect x="156.06" y="37" width="1.52" height="151" fill="url(#g65)"/>
<rect x="157.28" y="37" width="1.52" height="151" fill="url(#g66)"/>
<rect x="158.50" y="37" width="1.52" height="151" fill="url(#g67)"/>
<rect x="159.72" y="37" width="1.52" height="151" fill="url(#g68)"/>
<rect x="160.94" y="37" width="1.52" height="151" fill="url(#g69)"/>
<rect x="162.16" y="37" width="1.52" height="151" fill="url(#g70)"/>
<rect x="163.38" y="37" width="1.52" height="151" fill="url(#g71)"/>
<rect x="164.60" y="37" width="1.52" height="151" fill="url(#g72)"/>
<rect x="165.82" y="37" width="1.52" height="151" fill="url(#g73)"/>
<rect x="167.04" y="37" width="1.52" height="151" fill="url(#g74)"/>
<rect x="168.26" y="37" width="1.52" height="151" fill="url(#g75)"/>
<rect x="169.48" y="37" width="1.52" height="151" fill="url(#g76)"/>
<rect x="170.70" y="37" width="1.52" height="151" fill="url(#g77)"/>
<rect x="171.92" y="37" width="1.52" height="151" fill="url(#g78)"/>
<rect x="173.14" y="37" width="1.52" height="151" fill="url(#g79)"/>
<rect x="174.36" y="37" width="1.52" height="151" fill="url(#g80)"/>
<rect x="175.58" y="37" width="1.52" height="151" fill="url(#g81)"/>
<rect x="176.80" y="37" width="1.52" height="151" fill="url(#g82)"/>
<rect x="178.02" y="37" width="1.52" height="151" fill="url(#g83)"/>
<rect x="179.24" y="37" width="1.52" height="151" fill="url(#g84)"/>
<rect x="180.45" y="37" width="1.52" height="151" fill="url(#g85)"/>
<rect x="181.67" y="37" width="1.52" height="151" fill="url(#g86)"/>
<rect x="182.89" y="37" width="1.52" height="151" fill="url(#g87)"/>
<rect x="184.11" y="37" width="1.52" height="151" fill="url(#g88)"/>
<rect x="185.33" y="37" width="1.52" height="151" fill="url(#g89)"/>
<rect x="186.55" y="37" width="1.52" height="151" fill="url(#g90)"/>
<rect x="187.77" y="37" width="1.52" height="151" fill="url(#g91)"/>
<rect x="188.99" y="37" width="1.52" height="151" fill="url(#g92)"/>
<rect x="190.21" y="37" width="1.52" height="151" fill="url(#g93)"/>
<rect x="191.43" y="37" width="1.52" height="151" fill="url(#g94)"/>
<rect x="192.65" y="37" width="1.52" height="151" fill="url(#g95)"/>
<rect x="193.87" y="37" width="1.52" height="151" fill="url(#g96)"/>
<rect x="195.09" y="37" width="1.52" height="151" fill="url(#g97)"/>
<rect x="196.31" y="37" width="1.52" height="151" fill="url(#g98)"/>
<rect x="197.53" y="37" width="1.52" height="151" fill="url(#g99)"/>
<rect x="198.75" y="37" width="1.52" height="151" fill="url(#g100)"/>
<rect x="199.97" y="37" width="1.52" height="151" fill="url(#g101)"/>
<rect x="201.19" y="37" width="1.52" height="151" fill="url(#g102)"/>
<rect x="202.41" y="37" width="1.52" height="151" fill="url(#g103)"/>
<rect x="203.63" y="37" width="1.52" height="151" fill="url(#g104)"/>
<rect x="204.85" y="37" width="1.52" height="151" fill="url(#g105)"/>
<rect x="206.07" y="37" width="1.52" height="151" fill="url(#g106)"/>
<rect x="207.29" y="37" width="1.52" height="151" fill="url(#g107)"/>
<rect x="208.51" y="37" width="1.52" height="151" fill="url(#g108)"/>
<rect x="209.73" y="37" width="1.52" height="151" fill="url(#g109)"/>
<rect x="210.95" y="37" width="1.52" height="151" fill="url(#g110)"/>
<rect x="212.17" y="37" width="1.52" height="151" fill="url(#g111)"/>
<rect x="213.39" y="37" width="1.52" height="151" fill="url(#g112)"/>
<rect x="214.61" y="37" width="1.52" height="151" fill="url(#g113)"/>
<rect x="215.83" y="37" width="1.52" height="151" fill="url(#g114)"/>
<rect x="217.05" y="37" width="1.52" height="151" fill="url(#g115)"/>
<rect x="218.27" y="37" width="1.52" height="151" fill="url(#g116)"/>
<rect x="219.49" y="37" width="1.52" height="151" fill="url(#g117)"/>
<rect x="220.70" y="37" width="1.52" height="151" fill="url(#g118)"/>
<rect x="221.92" y="37" width="1.52" height="151" fill="url(#g119)"/>
<rect x="223.14" y="37" width="1.52" height="151" fill="url(#g120)"/>
<rect x="224.36" y="37" width="1.52" height="151" fill="url(#g121)"/>
<rect x="225.58" y="37" width="1.52" height="151" fill="url(#g122)"/>
<rect x="226.80" y="37" width="1.52" height="151" fill="url(#g123)"/>
<rect x="228.02" y="37" width="1.52" height="151" fill="url(#g124)"/>
<rect x="229.24" y="37" width="1.52" height="151" fill="url(#g125)"/>
<rect x="230.46" y="37" width="1.52" height="151" fill="url(#g126)"/>
<rect x="231.68" y="37" width="1.52" height="151" fill="url(#g127)"/>
<rect x="232.90" y="37" width="1.52" height="151" fill="url(#g128)"/>
<rect x="234.12" y="37" width="1.52" height="151" fill="url(#g129)"/>
<rect x="235.34" y="37" width="1.52" height="151" fill="url(#g130)"/>
<rect x="236.56" y="37" width="1.52" height="151" fill="url(#g131)"/>
<rect x="237.78" y="37" width="1.52" height="151" fill="url(#g132)"/>
<rect x="239.00" y="37" width="1.52" height="151" fill="url(#g133)"/>
<rect x="240.22" y="37" width="1.52" height="151" fill="url(#g134)"/>
<rect x="241.44" y="37" width="1.52" height="151" fill="url(#g135)"/>
<rect x="242.66" y="37" width="1.52" height="151" fill="url(#g136)"/>
<rect x="243.88" y="37" width="1.52" height="151" fill="url(#g137)"/>
<rect x="245.10" y="37" width="1.52" height="151" fill="url(#g138)"/>
<rect x="246.32" y="37" width="1.52" height="151" fill="url(#g139)"/>
<rect x="247.54" y="37" width="1.52" height="151" fill="url(#g140)"/>
<rect x="248.76" y="37" width="1.52" height="151" fill="url(#g141)"/>
<rect x="249.98" y="37" width="1.52" height="151" fill="url(#g142)"/>
<rect x="251.20" y="37" width="1.52" height="151" fill="url(#g143)"/>
<rect x="252.42" y="37" width="1.52" height="151" fill="url(#g144)"/>
<rect x="253.64" y="37" width="1.52" height="151" fill="url(#g145)"/>
<rect x="254.86" y="37" width="1.52" height="151" fill="url(#g146)"/>
<rect x="256.08" y="37" width="1.52" height="151" fill="url(#g147)"/>
<rect x="257.30" y="37" width="1.52" height="151" fill="url(#g148)"/>
<rect x="258.52" y="37" width="1.52" height="151" fill="url(#g149)"/>
<rect x="259.74" y="37" width="1.52" height="151" fill="url(#g150)"/>
<rect x="260.96" y="37" width="1.52" height="151" fill="url(#g151)"/>
<rect x="262.17" y="37" width="1.52" height="151" fill="url(#g152)"/>
<rect x="263.39" y="37" width="1.52" height="151" fill="url(#g153)"/>
<rect x="264.61" y="37" width="1.52" height="151" fill="url(#g154)"/>
<rect x="265.83" y="37" width="1.52" height="151" fill="url(#g155)"/>
<rect x="267.05" y="37" width="1.52" height="151" fill="url(#g156)"/>
<rect x="268.27" y="37" width="1.52" height="151" fill="url(#g157)"/>
<rect x="269.49" y="37" width="1.52" height="151" fill="url(#g158)"/>
<rect x="270.71" y="37" width="1.52" height="151" fill="url(#g159)"/>
<rect x="271.93" y="37" width="1.52" height="151" fill="url(#g160)"/>
<rect x="273.15" y="37" width="1.52" height="151" fill="url(#g161)"/>
<rect x="274.37" y="37" width="1.52" height="151" fill="url(#g162)"/>
<rect x="275.59" y="37" width="1.52" height="151" fill="url(#g163)"/>
<rect x="276.81" y="37" width="1.52" height="151" fill="url(#g164)"/>
<rect x="278.03" y="37" width="1.52" height="151" fill="url(#g165)"/>
<rect x="279.25" y="37" width="1.52" height="151" fill="url(#g166)"/>
<rect x="280.47" y="37" width="1.52" height="151" fill="url(#g167)"/>
<rect x="281.69" y="37" width="1.52" height="151" fill="url(#g168)"/>
<rect x="282.91" y="37" width="1.52" height="151" fill="url(#g169)"/>
<rect x="284.13" y="37" width="1.52" height="151" fill="url(#g170)"/>
<rect x="285.35" y="37" width="1.52" height="151" fill="url(#g171)"/>
<rect x="286.57" y="37" width="1.52" height="151" fill="url(#g172)"/>
<rect x="287.79" y="37" width="1.52" height="151" fill="url(#g173)"/>
<rect x="289.01" y="37" width="1.52" height="151" fill="url(#g174)"/>
<rect x="290.23" y="37" width="1.52" height="151" fill="url(#g175)"/>
<rect x="291.45" y="37" width="1.52" height="151" fill="url(#g176)"/>
<rect x="292.67" y="37" width="1.52" height="151" fill="url(#g177)"/>
<rect x="293.89" y="37" width="1.52" height="151" fill="url(#g178)"/>
<rect x="295.11" y="37" width="1.52" height="151" fill="url(#g179)"/>
<rect x="296.33" y="37" width="1.52" height="151" fill="url(#g180)"/>
<rect x="297.55" y="37" width="1.52" height="151" fill="url(#g181)"/>
<rect x="298.77" y="37" width="1.52" height="151" fill="url(#g182)"/>
<rect x="299.99" y="37" width="1.52" height="151" fill="url(#g183)"/>
<rect x="301.21" y="37" width="1.52" height="151" fill="url(#g184)"/>
<rect x="302.42" y="37" width="1.52" height="151" fill="url(#g185)"/>
<rect x="303.64" y="37" width="1.52" height="151" fill="url(#g186)"/>
<rect x="304.86" y="37" width="1.52" height="151" fill="url(#g187)"/>
<rect x="306.08" y="37" width="1.52" height="151" fill="url(#g188)"/>
<rect x="307.30" y="37" width="1.52" height="151" fill="url(#g189)"/>
<rect x="308.52" y="37" width="1.52" height="151" fill="url(#g190)"/>
<rect x="309.74" y="37" width="1.52" height="151" fill="url(#g191)"/>
<rect x="310.96" y="37" width="1.52" height="151" fill="url(#g192)"/>
<rect x="312.18" y="37" width="1.52" height="151" fill="url(#g193)"/>
<rect x="313.40" y="37" width="1.52" height="151" fill="url(#g194)"/>
<rect x="314.62" y="37" width="1.52" height="151" fill="url(#g195)"/>
<rect x="315.84" y="37" width="1.52" height="151" fill="url(#g196)"/>
<rect x="317.06" y="37" width="1.52" height="151" fill="url(#g197)"/>
<rect x="318.28" y="37" width="1.52" height="151" fill="url(#g198)"/>
<rect x="319.50" y="37" width="1.52" height="151" fill="url(#g199)"/>
<rect x="320.72" y="37" width="1.52" height="151" fill="url(#g200)"/>
<rect x="321.94" y="37" width="1.52" height="151" fill="url(#g201)"/>
<rect x="323.16" y="37" width="1.52" height="151" fill="url(#g202)"/>
<rect x="324.38" y="37" width="1.52" height="151" fill="url(#g203)"/>
<rect x="325.60" y="37" width="1.52" height="151" fill="url(#g204)"/>
<rect x="326.82" y="37" width="1.52" height="151" fill="url(#g205)"/>
<rect x="328.04" y="37" width="1.52" height="151" fill="url(#g206)"/>
<rect x="329.26" y="37" width="1.52" height="151" fill="url(#g207)"/>
<rect x="330.48" y="37" width="1.52" height="151" fill="url(#g208)"/>
<rect x="331.70" y="37" width="1.52" height="151" fill="url(#g209)"/>
<rect x="332.92" y="37" width="1.52" height="151" fill="url(#g210)"/>
<rect x="334.14" y="37" width="1.52" height="151" fill="url(#g211)"/>
<rect x="335.36" y="37" width="1.52" height="151" fill="url(#g212)"/>
<rect x="336.58" y="37" width="1.52" height="151" fill="url(#g213)"/>
<rect x="337.80" y="37" width="1.52" height="151" fill="url(#g214)"/>
<rect x="339.02" y="37" width="1.52" height="151" fill="url(#g215)"/>
<rect x="340.24" y="37" width="1.52" height="151" fill="url(#g216)"/>
<rect x="341.46" y="37" width="1.52" height="151" fill="url(#g217)"/>
<rect x="342.67" y="37" width="1.52" height="151" fill="url(#g218)"/>
<rect x="343.89" y="37" width="1.52" height="151" fill="url(#g219)"/>
<rect x="345.11" y="37" width="1.52" height="151" fill="url(#g220)"/>
<rect x="346.33" y="37" width="1.52" height="151" fill="url(#g221)"/>
<rect x="347.55" y="37" width="1.52" height="151" fill="url(#g222)"/>
<rect x="348.77" y="37" width="1.52" height="151" fill="url(#g223)"/>
<rect x="349.99" y="37" width="1.52" height="151" fill="url(#g224)"/>
<rect x="351.21" y="37" width="1.52" height="151" fill="url(#g225)"/>
<rect x="352.43" y="37" width="1.52" height="151" fill="url(#g226)"/>
<rect x="353.65" y="37" width="1.52" height="151" fill="url(#g227)"/>
<rect x="354.87" y="37" width="1.52" height="151" fill="url(#g228)"/>
<rect x="356.09" y="37" width="1.52" height="151" fill="url(#g229)"/>
<rect x="357.31" y="37" width="1.52" height="151" fill="url(#g230)"/>
<rect x="358.53" y="37" width="1.52" height="151" fill="url(#g231)"/>
<rect x="359.75" y="37" width="1.52" height="151" fill="url(#g232)"/>
<rect x="360.97" y="37" width="1.52" height="151" fill="url(#g233)"/>
<rect x="362.19" y="37" width="1.52" height="151" fill="url(#g234)"/>
<rect x="363.41" y="37" width="1.52" height="151" fill="url(#g235)"/>
<rect x="364.63" y="37" width="1.52" height="151" fill="url(#g236)"/>
<rect x="365.85" y="37" width="1.52" height="151" fill="url(#g237)"/>
<rect x="367.07" y="37" width="1.52" height="151" fill="url(#g238)"/>
<rect x="368.29" y="37" width="1.52" height="151" fill="url(#g239)"/>
<rect x="369.51" y="37" width="1.52" height="151" fill="url(#g240)"/>
<rect x="370.73" y="37" width="1.52" height="151" fill="url(#g241)"/>
<rect x="371.95" y="37" width="1.52" height="151" fill="url(#g242)"/>
<rect x="373.17" y="37" width="1.52" height="151" fill="url(#g243)"/>
<rect x="374.39" y="37" width="1.52" height="151" fill="url(#g244)"/>
<rect x="375.61" y="37" width="1.52" height="151" fill="url(#g245)"/>
<rect x="376.83" y="37" width="1.52" height="151" fill="url(#g246)"/>
<rect x="378.05" y="37" width="1.52" height="151" fill="url(#g247)"/>
<rect x="379.27" y="37" width="1.52" height="151" fill="url(#g248)"/>
<rect x="380.49" y="37" width="1.52" height="151" fill="url(#g249)"/>
<rect x="381.71" y="37" width="1.52" height="151" fill="url(#g250)"/>
<rect x="382.93" y="37" width="1.52" height="151" fill="url(#g251)"/>
<rect x="384.14" y="37" width="1.52" height="151" fill="url(#g252)"/>
<rect x="385.36" y="37" width="1.52" height="151" fill="url(#g253)"/>
<rect x="386.58" y="37" width="1.52" height="151" fill="url(#g254)"/>
<rect x="387.80" y="37" width="1.52" height="151" fill="url(#g255)"/>
<rect x="389.02" y="37" width="1.52" height="151" fill="url(#g256)"/>
<rect x="390.24" y="37" width="1.52" height="151" fill="url(#g257)"/>
<rect x="391.46" y="37" width="1.52" height="151" fill="url(#g258)"/>
<rect x="392.68" y="37" width="1.52" height="151" fill="url(#g259)"/>
<rect x="393.90" y="37" width="1.52" height="151" fill="url(#g260)"/>
<rect x="395.12" y="37" width="1.52" height="151" fill="url(#g261)"/>
<rect x="396.34" y="37" width="1.52" height="151" fill="url(#g262)"/>
<rect x="397.56" y="37" width="1.52" height="151" fill="url(#g263)"/>
<rect x="398.78" y="37" width="1.52" height="151" fill="url(#g264)"/>
<rect x="400.00" y="37" width="1.52" height="151" fill="url(#g265)"/>
<rect x="401.22" y="37" width="1.52" height="151" fill="url(#g266)"/>
<rect x="402.44" y="37" width="1.52" height="151" fill="url(#g267)"/>
<rect x="403.66" y="37" width="1.52" height="151" fill="url(#g268)"/>
<rect x="404.88" y="37" width="1.52" height="151" fill="url(#g269)"/>
<rect x="406.10" y="37" width="1.52" height="151" fill="url(#g270)"/>
<rect x="407.32" y="37" width="1.52" height="151" fill="url(#g271)"/>
<rect x="408.54" y="37" width="1.52" height="151" fill="url(#g272)"/>
<rect x="409.76" y="37" width="1.52" height="151" fill="url(#g273)"/>
<rect x="410.98" y="37" width="1.52" height="151" fill="url(#g274)"/>
<rect x="412.20" y="37" width="1.52" height="151" fill="url(#g275)"/>
<rect x="413.42" y="37" width="1.52" height="151" fill="url(#g276)"/>
<rect x="414.64" y="37" width="1.52" height="151" fill="url(#g277)"/>
<rect x="415.86" y="37" width="1.52" height="151" fill="url(#g278)"/>
<rect x="417.08" y="37" width="1.52" height="151" fill="url(#g279)"/>
<rect x="418.30" y="37" width="1.52" height="151" fill="url(#g280)"/>
<rect x="419.52" y="37" width="1.52" height="151" fill="url(#g281)"/>
<rect x="420.74" y="37" width="1.52" height="151" fill="url(#g282)"/>
<rect x="421.96" y="37" width="1.52" height="151" fill="url(#g283)"/>
<rect x="423.18" y="37" width="1.52" height="151" fill="url(#g284)"/>
<rect x="424.39" y="37" width="1.52" height="151" fill="url(#g285)"/>
<rect x="425.61" y="37" width="1.52" height="151" fill="url(#g286)"/>
<rect x="426.83" y="37" width="1.52" height="151" fill="url(#g287)"/>
<rect x="428.05" y="37" width="1.52" height="151" fill="url(#g288)"/>
<rect x="429.27" y="37" width="1.52" height="151" fill="url(#g289)"/>
<rect x="430.49" y="37" width="1.52" height="151" fill="url(#g290)"/>
<rect x="431.71" y="37" width="1.52" height="151" fill="url(#g291)"/>
<rect x="432.93" y="37" width="1.52" height="151" fill="url(#g292)"/>
<rect x="434.15" y="37" width="1.52" height="151" fill="url(#g293)"/>
<rect x="435.37" y="37" width="1.52" height="151" fill="url(#g294)"/>
<rect x="436.59" y="37" width="1.52" height="151" fill="url(#g295)"/>
<rect x="437.81" y="37" width="1.52" height="151" fill="url(#g296)"/>
<rect x="439.03" y="37" width="1.52" height="151" fill="url(#g297)"/>
<rect x="440.25" y="37" width="1.52" height="151" fill="url(#g298)"/>
<rect x="441.47" y="37" width="1.52" height="151" fill="url(#g299)"/>
<rect x="442.69" y="37" width="1.52" height="151" fill="url(#g300)"/>
<rect x="443.91" y="37" width="1.52" height="151" fill="url(#g301)"/>
<rect x="445.13" y="37" width="1.52" height="151" fill="url(#g302)"/>
<rect x="446.35" y="37" width="1.52" height="151" fill="url(#g303)"/>
<rect x="447.57" y="37" width="1.52" height="151" fill="url(#g304)"/>
<rect x="448.79" y="37" width="1.52" height="151" fill="url(#g305)"/>
<rect x="450.01" y="37" width="1.52" height="151" fill="url(#g306)"/>
<rect x="451.23" y="37" width="1.52" height="151" fill="url(#g307)"/>
<rect x="452.45" y="37" width="1.52" height="151" fill="url(#g308)"/>
<rect x="453.67" y="37" width="1.52" height="151" fill="url(#g309)"/>
<rect x="454.89" y="37" width="1.52" height="151" fill="url(#g310)"/>
<rect x="456.11" y="37" width="1.52" height="151" fill="url(#g311)"/>
<rect x="457.33" y="37" width="1.52" height="151" fill="url(#g312)"/>
<rect x="458.55" y="37" width="1.52" height="151" fill="url(#g313)"/>
<rect x="459.77" y="37" width="1.52" height="151" fill="url(#g314)"/>
<rect x="460.99" y="37" width="1.52" height="151" fill="url(#g315)"/>
<rect x="462.21" y="37" width="1.52" height="151" fill="url(#g316)"/>
<rect x="463.43" y="37" width="1.52" height="151" fill="url(#g317)"/>
<rect x="464.64" y="37" width="1.52" height="151" fill="url(#g318)"/>
<rect x="465.86" y="37" width="1.52" height="151" fill="url(#g319)"/>
<rect x="467.08" y="37" width="1.52" height="151" fill="url(#g320)"/>
<rect x="468.30" y="37" width="1.52" height="151" fill="url(#g321)"/>
<rect x="469.52" y="37" width="1.52" height="151" fill="url(#g322)"/>
<rect x="470.74" y="37" width="1.52" height="151" fill="url(#g323)"/>
<rect x="471.96" y="37" width="1.52" height="151" fill="url(#g324)"/>
<rect x="473.18" y="37" width="1.52" height="151" fill="url(#g325)"/>
<rect x="474.40" y="37" width="1.52" height="151" fill="url(#g326)"/>
<rect x="475.62" y="37" width="1.52" height="151" fill="url(#g327)"/>
<rect x="476.84" y="37" width="1.52" height="151" fill="url(#g328)"/>
<rect x="478.06" y="37" width="1.52" height="151" fill="url(#g329)"/>
<rect x="479.28" y="37" width="1.52" height="151" fill="url(#g330)"/>
<rect x="480.50" y="37" width="1.52" height="151" fill="url(#g331)"/>
<rect x="481.72" y="37" width="1.52" height="151" fill="url(#g332)"/>
<rect x="482.94" y="37" width="1.52" height="151" fill="url(#g333)"/>
<rect x="484.16" y="37" width="1.52" height="151" fill="url(#g334)"/>
<rect x="485.38" y="37" width="1.52" height="151" fill="url(#g335)"/>
<rect x="486.60" y="37" width="1.52" height="151" fill="url(#g336)"/>
<rect x="487.82" y="37" width="1.52" height="151" fill="url(#g337)"/>
<rect x="489.04" y="37" width="1.52" height="151" fill="url(#g338)"/>
<rect x="490.26" y="37" width="1.52" height="151" fill="url(#g339)"/>
<rect x="491.48" y="37" width="1.52" height="151" fill="url(#g340)"/>
<rect x="492.70" y="37" width="1.52" height="151" fill="url(#g341)"/>
<rect x="493.92" y="37" width="1.52" height="151" fill="url(#g342)"/>
<rect x="495.14" y="37" width="1.52" height="151" fill="url(#g343)"/>
<rect x="496.36" y="37" width="1.52" height="151" fill="url(#g344)"/>
<rect x="497.58" y="37" width="1.52" height="151" fill="url(#g345)"/>
<rect x="498.80" y="37" width="1.52" height="151" fill="url(#g346)"/>
<rect x="500.02" y="37" width="1.52" height="151" fill="url(#g347)"/>
<rect x="501.24" y="37" width="1.52" height="151" fill="url(#g348)"/>
<rect x="502.46" y="37" width="1.52" height="151" fill="url(#g349)"/>
<rect x="503.68" y="37" width="1.52" height="151" fill="url(#g350)"/>
<rect x="504.89" y="37" width="1.52" height="151" fill="url(#g351)"/>
<rect x="506.11" y="37" width="1.52" height="151" fill="url(#g352)"/>
<rect x="507.33" y="37" width="1.52" height="151" fill="url(#g353)"/>
<rect x="508.55" y="37" width="1.52" height="151" fill="url(#g354)"/>
<rect x="509.77" y="37" width="1.52" height="151" fill="url(#g355)"/>
<rect x="510.99" y="37" width="1.52" height="151" fill="url(#g356)"/>
<rect x="512.21" y="37" width="1.52" height="151" fill="url(#g357)"/>
<rect x="513.43" y="37" width="1.52" height="151" fill="url(#g358)"/>
<rect x="514.65" y="37" width="1.52" height="151" fill="url(#g359)"/>
<rect x="515.87" y="37" width="1.52" height="151" fill="url(#g360)"/>
<rect x="517.09" y="37" width="1.52" height="151" fill="url(#g361)"/>
<rect x="518.31" y="37" width="1.52" height="151" fill="url(#g362)"/>
<rect x="519.53" y="37" width="1.52" height="151" fill="url(#g363)"/>
<rect x="520.75" y="37" width="1.52" height="151" fill="url(#g364)"/>
<rect x="521.97" y="37" width="1.52" height="151" fill="url(#g365)"/>
<rect x="523.19" y="37" width="1.52" height="151" fill="url(#g366)"/>
<rect x="524.41" y="37" width="1.52" height="151" fill="url(#g367)"/>
<rect x="525.63" y="37" width="1.52" height="151" fill="url(#g368)"/>
<rect x="526.85" y="37" width="1.52" height="151" fill="url(#g369)"/>
<rect x="528.07" y="37" width="1.52" height="151" fill="url(#g370)"/>
<rect x="529.29" y="37" width="1.52" height="151" fill="url(#g371)"/>
<rect x="530.51" y="37" width="1.52" height="151" fill="url(#g372)"/>
<rect x="531.73" y="37" width="1.52" height="151" fill="url(#g373)"/>
<rect x="532.95" y="37" width="1.52" height="151" fill="url(#g374)"/>
<rect x="534.17" y="37" width="1.52" height="151" fill="url(#g375)"/>
<rect x="535.39" y="37" width="1.52" height="151" fill="url(#g376)"/>
<rect x="536.61" y="37" width="1.52" height="151" fill="url(#g377)"/>
<rect x="537.83" y="37" width="1.52" height="151" fill="url(#g378)"/>
<rect x="539.05" y="37" width="1.52" height="151" fill="url(#g379)"/></g>
<clipPath id="ct"><path d="M79.22 38 H80.49 V67.3 H79.22 ZM80.44 38 H81.71 V73.2 H80.44 ZM81.66 38 H82.93 V76.2 H81.66 ZM82.88 38 H84.15 V76.2 H82.88 ZM84.10 38 H85.37 V79.2 H84.10 ZM85.32 38 H86.59 V79.2 H85.32 ZM86.54 38 H87.81 V79.2 H86.54 ZM87.76 38 H89.03 V82.1 H87.76 ZM88.98 38 H90.25 V85.1 H88.98 ZM90.20 38 H91.47 V88.0 H90.20 ZM91.42 38 H92.69 V88.0 H91.42 ZM92.64 38 H93.91 V88.0 H92.64 ZM93.86 38 H95.13 V88.0 H93.86 ZM95.08 38 H96.35 V88.0 H95.08 ZM96.30 38 H97.57 V88.0 H96.30 ZM97.52 38 H98.78 V88.0 H97.52 ZM98.73 38 H100.00 V88.0 H98.73 ZM99.95 38 H101.22 V88.0 H99.95 ZM101.17 38 H102.44 V88.0 H101.17 ZM102.39 38 H103.66 V88.0 H102.39 ZM103.61 38 H104.88 V88.0 H103.61 ZM104.83 38 H106.10 V88.0 H104.83 ZM106.05 38 H107.32 V88.0 H106.05 ZM107.27 38 H108.54 V88.0 H107.27 ZM108.49 38 H109.76 V88.0 H108.49 ZM109.71 38 H110.98 V88.0 H109.71 ZM110.93 38 H112.20 V88.0 H110.93 ZM112.15 38 H113.42 V88.0 H112.15 ZM113.37 38 H114.64 V88.0 H113.37 ZM114.59 38 H115.86 V85.1 H114.59 ZM115.81 38 H117.08 V82.1 H115.81 ZM117.03 38 H118.30 V82.1 H117.03 ZM118.25 38 H119.52 V82.1 H118.25 ZM119.47 38 H120.74 V85.1 H119.47 ZM120.69 38 H121.96 V85.1 H120.69 ZM121.91 38 H123.18 V85.1 H121.91 ZM123.13 38 H124.40 V85.1 H123.13 ZM124.35 38 H125.62 V88.0 H124.35 ZM125.57 38 H126.84 V88.0 H125.57 ZM126.79 38 H128.06 V88.0 H126.79 ZM128.01 38 H129.28 V91.0 H128.01 ZM129.23 38 H130.50 V91.0 H129.23 ZM130.45 38 H131.72 V91.0 H130.45 ZM131.67 38 H132.94 V91.0 H131.67 ZM132.89 38 H134.16 V91.0 H132.89 ZM134.11 38 H135.38 V91.0 H134.11 ZM135.33 38 H136.60 V88.0 H135.33 ZM136.55 38 H137.82 V88.0 H136.55 ZM137.77 38 H139.03 V88.0 H137.77 ZM138.99 38 H140.25 V88.0 H138.99 ZM140.20 38 H141.47 V88.0 H140.20 ZM141.42 38 H142.69 V88.0 H141.42 ZM142.64 38 H143.91 V88.0 H142.64 ZM143.86 38 H145.13 V88.0 H143.86 ZM145.08 38 H146.35 V88.0 H145.08 ZM146.30 38 H147.57 V91.0 H146.30 ZM147.52 38 H148.79 V91.0 H147.52 ZM148.74 38 H150.01 V91.0 H148.74 ZM149.96 38 H151.23 V91.0 H149.96 ZM151.18 38 H152.45 V91.0 H151.18 ZM152.40 38 H153.67 V91.0 H152.40 ZM153.62 38 H154.89 V93.9 H153.62 ZM154.84 38 H156.11 V93.9 H154.84 ZM156.06 38 H157.33 V93.9 H156.06 ZM157.28 38 H158.55 V93.9 H157.28 ZM158.50 38 H159.77 V93.9 H158.50 ZM159.72 38 H160.99 V93.9 H159.72 ZM160.94 38 H162.21 V91.0 H160.94 ZM162.16 38 H163.43 V91.0 H162.16 ZM163.38 38 H164.65 V91.0 H163.38 ZM164.60 38 H165.87 V88.0 H164.60 ZM165.82 38 H167.09 V88.0 H165.82 ZM167.04 38 H168.31 V91.0 H167.04 ZM168.26 38 H169.53 V93.9 H168.26 ZM169.48 38 H170.75 V93.9 H169.48 ZM170.70 38 H171.97 V93.9 H170.70 ZM171.92 38 H173.19 V93.9 H171.92 ZM173.14 38 H174.41 V96.9 H173.14 ZM174.36 38 H175.63 V96.9 H174.36 ZM175.58 38 H176.85 V99.8 H175.58 ZM176.80 38 H178.07 V99.8 H176.80 ZM178.02 38 H179.29 V99.8 H178.02 ZM179.24 38 H180.50 V99.8 H179.24 ZM180.45 38 H181.72 V102.8 H180.45 ZM181.67 38 H182.94 V102.8 H181.67 ZM182.89 38 H184.16 V102.8 H182.89 ZM184.11 38 H185.38 V102.8 H184.11 ZM185.33 38 H186.60 V102.8 H185.33 ZM186.55 38 H187.82 V105.7 H186.55 ZM187.77 38 H189.04 V105.7 H187.77 ZM188.99 38 H190.26 V105.7 H188.99 ZM190.21 38 H191.48 V105.7 H190.21 ZM191.43 38 H192.70 V102.8 H191.43 ZM192.65 38 H193.92 V96.9 H192.65 ZM193.87 38 H195.14 V93.9 H193.87 ZM195.09 38 H196.36 V88.0 H195.09 ZM196.31 38 H197.58 V85.1 H196.31 ZM197.53 38 H198.80 V79.2 H197.53 ZM198.75 38 H200.02 V67.3 H198.75 ZM199.97 38 H201.24 V64.4 H199.97 ZM201.19 38 H202.46 V64.4 H201.19 ZM202.41 38 H203.68 V76.2 H202.41 ZM203.63 38 H204.90 V82.1 H203.63 ZM204.85 38 H206.12 V91.0 H204.85 ZM206.07 38 H207.34 V96.9 H206.07 ZM207.29 38 H208.56 V105.7 H207.29 ZM208.51 38 H209.78 V111.7 H208.51 ZM209.73 38 H211.00 V111.7 H209.73 ZM210.95 38 H212.22 V114.6 H210.95 ZM212.17 38 H213.44 V117.6 H212.17 ZM213.39 38 H214.66 V117.6 H213.39 ZM214.61 38 H215.88 V117.6 H214.61 ZM215.83 38 H217.10 V117.6 H215.83 ZM217.05 38 H218.32 V117.6 H217.05 ZM218.27 38 H219.54 V117.6 H218.27 ZM219.49 38 H220.75 V120.5 H219.49 ZM220.70 38 H221.97 V120.5 H220.70 ZM221.92 38 H223.19 V123.5 H221.92 ZM223.14 38 H224.41 V126.4 H223.14 ZM224.36 38 H225.63 V126.4 H224.36 ZM225.58 38 H226.85 V129.4 H225.58 ZM226.80 38 H228.07 V129.4 H226.80 ZM228.02 38 H229.29 V129.4 H228.02 ZM229.24 38 H230.51 V129.4 H229.24 ZM230.46 38 H231.73 V132.3 H230.46 ZM231.68 38 H232.95 V135.3 H231.68 ZM232.90 38 H234.17 V138.2 H232.90 ZM234.12 38 H235.39 V144.1 H234.12 ZM235.34 38 H236.61 V147.1 H235.34 ZM236.56 38 H237.83 V153.0 H236.56 ZM237.78 38 H239.05 V158.9 H237.78 ZM239.00 38 H240.27 V164.8 H239.00 ZM240.22 38 H241.49 V173.7 H240.22 ZM241.44 38 H242.71 V179.6 H241.44 ZM242.66 38 H243.93 V182.5 H242.66 ZM243.88 38 H245.15 V182.5 H243.88 ZM245.10 38 H246.37 V182.5 H245.10 ZM246.32 38 H247.59 V182.5 H246.32 ZM247.54 38 H248.81 V111.7 H247.54 ZM248.76 38 H250.03 V111.7 H248.76 ZM249.98 38 H251.25 V129.4 H249.98 ZM251.20 38 H252.47 V129.4 H251.20 ZM252.42 38 H253.69 V129.4 H252.42 ZM253.64 38 H254.91 V129.4 H253.64 ZM254.86 38 H256.13 V182.5 H254.86 ZM256.08 38 H257.35 V182.5 H256.08 ZM257.30 38 H258.57 V182.5 H257.30 ZM258.52 38 H259.79 V182.5 H258.52 ZM259.74 38 H261.00 V182.5 H259.74 ZM260.96 38 H262.22 V182.5 H260.96 ZM262.17 38 H263.44 V182.5 H262.17 ZM263.39 38 H264.66 V182.5 H263.39 ZM264.61 38 H265.88 V120.5 H264.61 ZM265.83 38 H267.10 V182.5 H265.83 ZM267.05 38 H268.32 V182.5 H267.05 ZM268.27 38 H269.54 V182.5 H268.27 ZM269.49 38 H270.76 V182.5 H269.49 ZM270.71 38 H271.98 V150.1 H270.71 ZM271.93 38 H273.20 V150.1 H271.93 ZM273.15 38 H274.42 V150.1 H273.15 ZM274.37 38 H275.64 V150.1 H274.37 ZM275.59 38 H276.86 V182.5 H275.59 ZM276.81 38 H278.08 V120.5 H276.81 ZM278.03 38 H279.30 V182.5 H278.03 ZM279.25 38 H280.52 V182.5 H279.25 ZM280.47 38 H281.74 V182.5 H280.47 ZM281.69 38 H282.96 V182.5 H281.69 ZM282.91 38 H284.18 V182.5 H282.91 ZM284.13 38 H285.40 V182.5 H284.13 ZM285.35 38 H286.62 V182.5 H285.35 ZM286.57 38 H287.84 V182.5 H286.57 ZM287.79 38 H289.06 V64.4 H287.79 ZM289.01 38 H290.28 V79.2 H289.01 ZM290.23 38 H291.50 V182.5 H290.23 ZM291.45 38 H292.72 V182.5 H291.45 ZM292.67 38 H293.94 V158.9 H292.67 ZM293.89 38 H295.16 V158.9 H293.89 ZM295.11 38 H296.38 V182.5 H295.11 ZM296.33 38 H297.60 V182.5 H296.33 ZM297.55 38 H298.82 V182.5 H297.55 ZM298.77 38 H300.04 V182.5 H298.77 ZM299.99 38 H301.26 V182.5 H299.99 ZM301.21 38 H302.47 V182.5 H301.21 ZM302.42 38 H303.69 V182.5 H302.42 ZM303.64 38 H304.91 V126.4 H303.64 ZM304.86 38 H306.13 V182.5 H304.86 ZM306.08 38 H307.35 V182.5 H306.08 ZM307.30 38 H308.57 V182.5 H307.30 ZM308.52 38 H309.79 V182.5 H308.52 ZM309.74 38 H311.01 V182.5 H309.74 ZM310.96 38 H312.23 V182.5 H310.96 ZM312.18 38 H313.45 V182.5 H312.18 ZM313.40 38 H314.67 V182.5 H313.40 ZM314.62 38 H315.89 V182.5 H314.62 ZM315.84 38 H317.11 V182.5 H315.84 ZM317.06 38 H318.33 V182.5 H317.06 ZM318.28 38 H319.55 V182.5 H318.28 ZM319.50 38 H320.77 V182.5 H319.50 ZM320.72 38 H321.99 V182.5 H320.72 ZM321.94 38 H323.21 V182.5 H321.94 ZM323.16 38 H324.43 V182.5 H323.16 ZM324.38 38 H325.65 V182.5 H324.38 ZM325.60 38 H326.87 V182.5 H325.60 ZM326.82 38 H328.09 V182.5 H326.82 ZM328.04 38 H329.31 V182.5 H328.04 ZM329.26 38 H330.53 V182.5 H329.26 ZM330.48 38 H331.75 V182.5 H330.48 ZM331.70 38 H332.97 V182.5 H331.70 ZM332.92 38 H334.19 V182.5 H332.92 ZM334.14 38 H335.41 V182.5 H334.14 ZM335.36 38 H336.63 V182.5 H335.36 ZM336.58 38 H337.85 V182.5 H336.58 ZM337.80 38 H339.07 V182.5 H337.80 ZM339.02 38 H340.29 V182.5 H339.02 ZM340.24 38 H341.51 V182.5 H340.24 ZM341.46 38 H342.72 V111.7 H341.46 ZM342.67 38 H343.94 V111.7 H342.67 ZM343.89 38 H345.16 V114.6 H343.89 ZM345.11 38 H346.38 V114.6 H345.11 ZM346.33 38 H347.60 V132.3 H346.33 ZM347.55 38 H348.82 V117.6 H347.55 ZM348.77 38 H350.04 V135.3 H348.77 ZM349.99 38 H351.26 V150.1 H349.99 ZM351.21 38 H352.48 V150.1 H351.21 ZM352.43 38 H353.70 V141.2 H352.43 ZM353.65 38 H354.92 V141.2 H353.65 ZM354.87 38 H356.14 V82.1 H354.87 ZM356.09 38 H357.36 V182.5 H356.09 ZM357.31 38 H358.58 V182.5 H357.31 ZM358.53 38 H359.80 V182.5 H358.53 ZM359.75 38 H361.02 V182.5 H359.75 ZM360.97 38 H362.24 V105.7 H360.97 ZM362.19 38 H363.46 V182.5 H362.19 ZM363.41 38 H364.68 V182.5 H363.41 ZM364.63 38 H365.90 V182.5 H364.63 ZM365.85 38 H367.12 V182.5 H365.85 ZM367.07 38 H368.34 V182.5 H367.07 ZM368.29 38 H369.56 V182.5 H368.29 ZM369.51 38 H370.78 V96.9 H369.51 ZM370.73 38 H372.00 V141.2 H370.73 ZM371.95 38 H373.22 V141.2 H371.95 ZM373.17 38 H374.44 V141.2 H373.17 ZM374.39 38 H375.66 V182.5 H374.39 ZM375.61 38 H376.88 V182.5 H375.61 ZM376.83 38 H378.10 V182.5 H376.83 ZM378.05 38 H379.32 V153.0 H378.05 ZM379.27 38 H380.54 V153.0 H379.27 ZM380.49 38 H381.76 V182.5 H380.49 ZM381.71 38 H382.98 V182.5 H381.71 ZM382.93 38 H384.19 V182.5 H382.93 ZM384.14 38 H385.41 V182.5 H384.14 ZM385.36 38 H386.63 V182.5 H385.36 ZM386.58 38 H387.85 V182.5 H386.58 ZM387.80 38 H389.07 V182.5 H387.80 ZM389.02 38 H390.29 V179.6 H389.02 ZM390.24 38 H391.51 V173.7 H390.24 ZM391.46 38 H392.73 V167.8 H391.46 ZM392.68 38 H393.95 V164.8 H392.68 ZM393.90 38 H395.17 V158.9 H393.90 ZM395.12 38 H396.39 V156.0 H395.12 ZM396.34 38 H397.61 V153.0 H396.34 ZM397.56 38 H398.83 V150.1 H397.56 ZM398.78 38 H400.05 V144.1 H398.78 ZM400.00 38 H401.27 V141.2 H400.00 ZM401.22 38 H402.49 V138.2 H401.22 ZM402.44 38 H403.71 V135.3 H402.44 ZM403.66 38 H404.93 V132.3 H403.66 ZM404.88 38 H406.15 V129.4 H404.88 ZM406.10 38 H407.37 V126.4 H406.10 ZM407.32 38 H408.59 V126.4 H407.32 ZM408.54 38 H409.81 V126.4 H408.54 ZM409.76 38 H411.03 V123.5 H409.76 ZM410.98 38 H412.25 V123.5 H410.98 ZM412.20 38 H413.47 V120.5 H412.20 ZM413.42 38 H414.69 V120.5 H413.42 ZM414.64 38 H415.91 V117.6 H414.64 ZM415.86 38 H417.13 V117.6 H415.86 ZM417.08 38 H418.35 V117.6 H417.08 ZM418.30 38 H419.57 V114.6 H418.30 ZM419.52 38 H420.79 V114.6 H419.52 ZM420.74 38 H422.01 V114.6 H420.74 ZM421.96 38 H423.23 V108.7 H421.96 ZM423.18 38 H424.44 V105.7 H423.18 ZM424.39 38 H425.66 V102.8 H424.39 ZM425.61 38 H426.88 V93.9 H425.61 ZM426.83 38 H428.10 V85.1 H426.83 ZM428.05 38 H429.32 V70.3 H428.05 ZM429.27 38 H430.54 V61.4 H429.27 ZM430.49 38 H431.76 V55.5 H430.49 ZM431.71 38 H432.98 V55.5 H431.71 ZM432.93 38 H434.20 V64.4 H432.93 ZM434.15 38 H435.42 V73.2 H434.15 ZM435.37 38 H436.64 V85.1 H435.37 ZM436.59 38 H437.86 V93.9 H436.59 ZM437.81 38 H439.08 V102.8 H437.81 ZM439.03 38 H440.30 V105.7 H439.03 ZM440.25 38 H441.52 V108.7 H440.25 ZM441.47 38 H442.74 V111.7 H441.47 ZM442.69 38 H443.96 V111.7 H442.69 ZM443.91 38 H445.18 V114.6 H443.91 ZM445.13 38 H446.40 V114.6 H445.13 ZM446.35 38 H447.62 V117.6 H446.35 ZM447.57 38 H448.84 V117.6 H447.57 ZM448.79 38 H450.06 V117.6 H448.79 ZM450.01 38 H451.28 V120.5 H450.01 ZM451.23 38 H452.50 V120.5 H451.23 ZM452.45 38 H453.72 V123.5 H452.45 ZM453.67 38 H454.94 V123.5 H453.67 ZM454.89 38 H456.16 V123.5 H454.89 ZM456.11 38 H457.38 V126.4 H456.11 ZM457.33 38 H458.60 V129.4 H457.33 ZM458.55 38 H459.82 V129.4 H458.55 ZM459.77 38 H461.04 V132.3 H459.77 ZM460.99 38 H462.26 V135.3 H460.99 ZM462.21 38 H463.48 V135.3 H462.21 ZM463.43 38 H464.69 V138.2 H463.43 ZM464.64 38 H465.91 V144.1 H464.64 ZM465.86 38 H467.13 V147.1 H465.86 ZM467.08 38 H468.35 V150.1 H467.08 ZM468.30 38 H469.57 V156.0 H468.30 ZM469.52 38 H470.79 V164.8 H469.52 ZM470.74 38 H472.01 V167.8 H470.74 ZM471.96 38 H473.23 V173.7 H471.96 ZM473.18 38 H474.45 V182.5 H473.18 ZM474.40 38 H475.67 V182.5 H474.40 ZM475.62 38 H476.89 V182.5 H475.62 ZM476.84 38 H478.11 V182.5 H476.84 ZM478.06 38 H479.33 V182.5 H478.06 ZM479.28 38 H480.55 V182.5 H479.28 ZM480.50 38 H481.77 V182.5 H480.50 ZM481.72 38 H482.99 V182.5 H481.72 ZM482.94 38 H484.21 V182.5 H482.94 ZM484.16 38 H485.43 V182.5 H484.16 ZM485.38 38 H486.65 V182.5 H485.38 ZM486.60 38 H487.87 V141.2 H486.60 ZM487.82 38 H489.09 V182.5 H487.82 ZM489.04 38 H490.31 V182.5 H489.04 ZM490.26 38 H491.53 V182.5 H490.26 ZM491.48 38 H492.75 V182.5 H491.48 ZM492.70 38 H493.97 V182.5 H492.70 ZM493.92 38 H495.19 V182.5 H493.92 ZM495.14 38 H496.41 V170.7 H495.14 ZM496.36 38 H497.63 V182.5 H496.36 ZM497.58 38 H498.85 V182.5 H497.58 ZM498.80 38 H500.07 V176.6 H498.80 ZM500.02 38 H501.29 V129.4 H500.02 ZM501.24 38 H502.51 V182.5 H501.24 ZM502.46 38 H503.73 V182.5 H502.46 ZM503.68 38 H504.94 V182.5 H503.68 ZM504.89 38 H506.16 V182.5 H504.89 ZM506.11 38 H507.38 V173.7 H506.11 ZM507.33 38 H508.60 V173.7 H507.33 ZM508.55 38 H509.82 V161.9 H508.55 ZM509.77 38 H511.04 V150.1 H509.77 ZM510.99 38 H512.26 V150.1 H510.99 ZM512.21 38 H513.48 V129.4 H512.21 ZM513.43 38 H514.70 V129.4 H513.43 ZM514.65 38 H515.92 V129.4 H514.65 ZM515.87 38 H517.14 V99.8 H515.87 ZM517.09 38 H518.36 V99.8 H517.09 ZM518.31 38 H519.58 V182.5 H518.31 ZM519.53 38 H520.80 V67.3 H519.53 ZM520.75 38 H522.02 V67.3 H520.75 ZM521.97 38 H523.24 V182.5 H521.97 ZM523.19 38 H524.46 V182.5 H523.19 ZM524.41 38 H525.68 V182.5 H524.41 ZM525.63 38 H526.90 V182.5 H525.63 ZM526.85 38 H528.12 V150.1 H526.85 ZM528.07 38 H529.34 V147.1 H528.07 ZM529.29 38 H530.56 V147.1 H529.29 ZM530.51 38 H531.78 V164.8 H530.51 ZM531.73 38 H533.00 V164.8 H531.73 ZM532.95 38 H534.22 V164.8 H532.95 ZM534.17 38 H535.44 V123.5 H534.17 ZM535.39 38 H536.66 V123.5 H535.39 ZM536.61 38 H537.88 V123.5 H536.61 ZM537.83 38 H539.10 V182.5 H537.83 ZM539.05 38 H540.32 V182.5 H539.05 Z"/></clipPath>
<clipPath id="cb"><path d="M77.30 37.3 H77.96 V70.7 H77.30 ZM77.91 37.3 H78.57 V71.6 H77.91 ZM78.52 37.3 H79.18 V72.6 H78.52 ZM79.13 37.3 H79.79 V73.6 H79.13 ZM79.74 37.3 H80.40 V74.5 H79.74 ZM80.35 37.3 H81.01 V75.5 H80.35 ZM80.96 37.3 H81.62 V76.5 H80.96 ZM81.57 37.3 H82.23 V77.4 H81.57 ZM82.18 37.3 H82.84 V78.4 H82.18 ZM82.79 37.3 H83.45 V79.3 H82.79 ZM83.40 37.3 H84.06 V80.3 H83.40 ZM84.01 37.3 H84.67 V80.8 H84.01 ZM84.62 37.3 H85.28 V81.4 H84.62 ZM85.23 37.3 H85.89 V81.9 H85.23 ZM85.84 37.3 H86.50 V82.5 H85.84 ZM86.45 37.3 H87.11 V83.0 H86.45 ZM87.06 37.3 H87.72 V83.5 H87.06 ZM87.67 37.3 H88.33 V84.1 H87.67 ZM88.28 37.3 H88.94 V84.6 H88.28 ZM88.89 37.3 H89.55 V85.0 H88.89 ZM89.50 37.3 H90.16 V85.3 H89.50 ZM90.11 37.3 H90.77 V85.6 H90.11 ZM90.72 37.3 H91.38 V85.8 H90.72 ZM91.33 37.3 H91.99 V86.1 H91.33 ZM91.94 37.3 H92.60 V86.4 H91.94 ZM92.55 37.3 H93.21 V86.7 H92.55 ZM93.16 37.3 H93.82 V87.0 H93.16 ZM93.77 37.3 H95.04 V87.2 H93.77 ZM94.99 37.3 H96.26 V87.1 H94.99 ZM96.21 37.3 H97.48 V87.0 H96.21 ZM97.43 37.3 H98.69 V87.0 H97.43 ZM98.64 37.3 H99.91 V86.9 H98.64 ZM99.86 37.3 H101.13 V86.8 H99.86 ZM101.08 37.3 H102.35 V86.8 H101.08 ZM102.30 37.3 H103.57 V86.7 H102.30 ZM103.52 37.3 H104.18 V86.6 H103.52 ZM104.13 37.3 H104.79 V86.5 H104.13 ZM104.74 37.3 H105.40 V86.4 H104.74 ZM105.35 37.3 H106.01 V86.2 H105.35 ZM105.96 37.3 H106.62 V86.1 H105.96 ZM106.57 37.3 H107.23 V85.9 H106.57 ZM107.18 37.3 H107.84 V85.7 H107.18 ZM107.79 37.3 H108.45 V85.6 H107.79 ZM108.40 37.3 H109.06 V85.4 H108.40 ZM109.01 37.3 H109.67 V85.2 H109.01 ZM109.62 37.3 H110.28 V85.1 H109.62 ZM110.23 37.3 H110.89 V84.9 H110.23 ZM110.84 37.3 H111.50 V84.8 H110.84 ZM111.45 37.3 H112.11 V84.5 H111.45 ZM112.06 37.3 H112.72 V84.3 H112.06 ZM112.67 37.3 H113.33 V84.1 H112.67 ZM113.28 37.3 H113.94 V83.9 H113.28 ZM113.89 37.3 H114.55 V83.7 H113.89 ZM114.50 37.3 H115.16 V83.5 H114.50 ZM115.11 37.3 H115.77 V83.3 H115.11 ZM115.72 37.3 H116.38 V83.1 H115.72 ZM116.33 37.3 H116.99 V83.4 H116.33 ZM116.94 37.3 H117.60 V83.6 H116.94 ZM117.55 37.3 H118.21 V83.9 H117.55 ZM118.16 37.3 H118.82 V84.2 H118.16 ZM118.77 37.3 H119.43 V84.5 H118.77 ZM119.38 37.3 H120.04 V84.8 H119.38 ZM119.99 37.3 H120.65 V85.1 H119.99 ZM120.60 37.3 H121.26 V85.4 H120.60 ZM121.21 37.3 H121.87 V85.7 H121.21 ZM121.82 37.3 H122.48 V86.1 H121.82 ZM122.43 37.3 H123.09 V86.5 H122.43 ZM123.04 37.3 H123.70 V86.9 H123.04 ZM123.65 37.3 H124.31 V87.3 H123.65 ZM124.26 37.3 H124.92 V87.7 H124.26 ZM124.87 37.3 H125.53 V88.1 H124.87 ZM125.48 37.3 H126.14 V88.5 H125.48 ZM126.09 37.3 H126.75 V88.9 H126.09 ZM126.70 37.3 H127.36 V89.0 H126.70 ZM127.31 37.3 H127.97 V89.2 H127.31 ZM127.92 37.3 H128.58 V89.3 H127.92 ZM128.53 37.3 H129.19 V89.4 H128.53 ZM129.14 37.3 H129.80 V89.6 H129.14 ZM129.75 37.3 H130.41 V89.7 H129.75 ZM130.36 37.3 H131.02 V89.8 H130.36 ZM130.97 37.3 H131.63 V90.0 H130.97 ZM131.58 37.3 H132.24 V89.8 H131.58 ZM132.19 37.3 H132.85 V89.5 H132.19 ZM132.80 37.3 H133.46 V89.1 H132.80 ZM133.41 37.3 H134.07 V88.8 H133.41 ZM134.02 37.3 H134.68 V88.5 H134.02 ZM134.63 37.3 H135.29 V88.1 H134.63 ZM135.24 37.3 H135.90 V87.8 H135.24 ZM135.85 37.3 H136.51 V87.4 H135.85 ZM136.46 37.3 H137.12 V87.2 H136.46 ZM137.07 37.3 H137.73 V87.3 H137.07 ZM137.68 37.3 H138.34 V87.4 H137.68 ZM138.28 37.3 H138.94 V87.5 H138.28 ZM138.89 37.3 H139.55 V87.6 H138.89 ZM139.50 37.3 H140.16 V87.7 H139.50 ZM140.11 37.3 H140.77 V87.8 H140.11 ZM140.72 37.3 H141.38 V87.9 H140.72 ZM141.33 37.3 H141.99 V88.0 H141.33 ZM141.94 37.3 H142.60 V88.1 H141.94 ZM142.55 37.3 H143.21 V88.2 H142.55 ZM143.16 37.3 H143.82 V88.3 H143.16 ZM143.77 37.3 H144.43 V88.5 H143.77 ZM144.38 37.3 H145.04 V88.7 H144.38 ZM144.99 37.3 H145.65 V89.0 H144.99 ZM145.60 37.3 H146.26 V89.2 H145.60 ZM146.21 37.3 H146.87 V89.4 H146.21 ZM146.82 37.3 H147.48 V89.6 H146.82 ZM147.43 37.3 H148.09 V89.8 H147.43 ZM148.04 37.3 H148.70 V90.0 H148.04 ZM148.65 37.3 H149.31 V90.2 H148.65 ZM149.26 37.3 H149.92 V90.4 H149.26 ZM149.87 37.3 H150.53 V90.7 H149.87 ZM150.48 37.3 H151.14 V90.9 H150.48 ZM151.09 37.3 H151.75 V91.1 H151.09 ZM151.70 37.3 H152.36 V91.3 H151.70 ZM152.31 37.3 H152.97 V91.5 H152.31 ZM152.92 37.3 H153.58 V91.7 H152.92 ZM153.53 37.3 H154.19 V91.9 H153.53 ZM154.14 37.3 H154.80 V92.1 H154.14 ZM154.75 37.3 H155.41 V92.3 H154.75 ZM155.36 37.3 H156.02 V92.2 H155.36 ZM155.97 37.3 H156.63 V91.8 H155.97 ZM156.58 37.3 H157.24 V91.4 H156.58 ZM157.19 37.3 H157.85 V91.0 H157.19 ZM157.80 37.3 H158.46 V90.6 H157.80 ZM158.41 37.3 H159.07 V90.2 H158.41 ZM159.02 37.3 H159.68 V89.8 H159.02 ZM159.63 37.3 H160.29 V89.4 H159.63 ZM160.24 37.3 H160.90 V89.0 H160.24 ZM160.85 37.3 H161.51 V88.8 H160.85 ZM161.46 37.3 H162.12 V88.6 H161.46 ZM162.07 37.3 H162.73 V88.4 H162.07 ZM162.68 37.3 H163.34 V88.2 H162.68 ZM163.29 37.3 H163.95 V88.0 H163.29 ZM163.90 37.3 H164.56 V88.3 H163.90 ZM164.51 37.3 H165.17 V89.0 H164.51 ZM165.12 37.3 H165.78 V89.8 H165.12 ZM165.73 37.3 H166.39 V90.5 H165.73 ZM166.34 37.3 H167.00 V91.2 H166.34 ZM166.95 37.3 H167.61 V92.0 H166.95 ZM167.56 37.3 H168.22 V92.7 H167.56 ZM168.17 37.3 H168.83 V93.5 H168.17 ZM168.78 37.3 H169.44 V94.2 H168.78 ZM169.39 37.3 H170.05 V94.6 H169.39 ZM170.00 37.3 H170.66 V95.1 H170.00 ZM170.61 37.3 H171.27 V95.5 H170.61 ZM171.22 37.3 H171.88 V96.0 H171.22 ZM171.83 37.3 H172.49 V96.4 H171.83 ZM172.44 37.3 H173.10 V96.9 H172.44 ZM173.05 37.3 H173.71 V97.3 H173.05 ZM173.66 37.3 H174.32 V97.8 H173.66 ZM174.27 37.3 H174.93 V98.2 H174.27 ZM174.88 37.3 H175.54 V98.7 H174.88 ZM175.49 37.3 H176.15 V99.1 H175.49 ZM176.10 37.3 H176.76 V99.5 H176.10 ZM176.71 37.3 H177.37 V99.8 H176.71 ZM177.32 37.3 H177.98 V100.1 H177.32 ZM177.93 37.3 H178.59 V100.4 H177.93 ZM178.54 37.3 H179.19 V100.7 H178.54 ZM179.14 37.3 H179.80 V101.0 H179.14 ZM179.75 37.3 H180.41 V101.3 H179.75 ZM180.36 37.3 H181.02 V101.6 H180.36 ZM180.97 37.3 H181.63 V101.9 H180.97 ZM181.58 37.3 H182.24 V102.2 H181.58 ZM182.19 37.3 H182.85 V102.5 H182.19 ZM182.80 37.3 H183.46 V102.7 H182.80 ZM183.41 37.3 H184.07 V102.9 H183.41 ZM184.02 37.3 H184.68 V103.1 H184.02 ZM184.63 37.3 H185.29 V103.3 H184.63 ZM185.24 37.3 H185.90 V103.5 H185.24 ZM185.85 37.3 H186.51 V103.8 H185.85 ZM186.46 37.3 H187.12 V104.0 H186.46 ZM187.07 37.3 H188.34 V104.2 H187.07 ZM188.29 37.3 H188.95 V103.5 H188.29 ZM188.90 37.3 H189.56 V102.9 H188.90 ZM189.51 37.3 H190.17 V102.3 H189.51 ZM190.12 37.3 H190.78 V101.7 H190.12 ZM190.73 37.3 H191.39 V101.1 H190.73 ZM191.34 37.3 H192.00 V98.9 H191.34 ZM191.95 37.3 H192.61 V96.3 H191.95 ZM192.56 37.3 H193.22 V93.6 H192.56 ZM193.17 37.3 H193.83 V90.9 H193.17 ZM193.78 37.3 H194.44 V88.2 H193.78 ZM194.39 37.3 H195.05 V85.5 H194.39 ZM195.00 37.3 H195.66 V81.9 H195.00 ZM195.61 37.3 H196.27 V78.3 H195.61 ZM196.22 37.3 H196.88 V74.7 H196.22 ZM196.83 37.3 H197.49 V71.2 H196.83 ZM197.44 37.3 H198.10 V68.0 H197.44 ZM198.05 37.3 H198.71 V64.8 H198.05 ZM198.66 37.3 H199.32 V61.6 H198.66 ZM199.27 37.3 H199.93 V63.7 H199.27 ZM199.88 37.3 H200.54 V67.4 H199.88 ZM200.49 37.3 H201.15 V71.1 H200.49 ZM201.10 37.3 H201.76 V74.7 H201.10 ZM201.71 37.3 H202.37 V79.0 H201.71 ZM202.32 37.3 H202.98 V83.3 H202.32 ZM202.93 37.3 H203.59 V87.7 H202.93 ZM203.54 37.3 H204.20 V92.0 H203.54 ZM204.15 37.3 H204.81 V95.2 H204.15 ZM204.76 37.3 H205.42 V98.3 H204.76 ZM205.37 37.3 H206.03 V101.3 H205.37 ZM205.98 37.3 H206.64 V104.4 H205.98 ZM206.59 37.3 H207.25 V106.4 H206.59 ZM207.20 37.3 H207.86 V107.4 H207.20 ZM207.81 37.3 H208.47 V108.3 H207.81 ZM208.42 37.3 H209.08 V109.2 H208.42 ZM209.03 37.3 H209.69 V110.1 H209.03 ZM209.64 37.3 H210.30 V111.0 H209.64 ZM210.25 37.3 H210.91 V111.6 H210.25 ZM210.86 37.3 H211.52 V112.1 H210.86 ZM211.47 37.3 H212.13 V112.7 H211.47 ZM212.08 37.3 H212.74 V113.2 H212.08 ZM212.69 37.3 H213.35 V113.7 H212.69 ZM213.30 37.3 H213.96 V114.3 H213.30 ZM213.91 37.3 H214.57 V114.8 H213.91 ZM214.52 37.3 H215.18 V115.4 H214.52 ZM215.13 37.3 H215.79 V115.8 H215.13 ZM215.74 37.3 H216.40 V116.0 H215.74 ZM216.35 37.3 H217.01 V116.3 H216.35 ZM216.96 37.3 H217.62 V116.6 H216.96 ZM217.57 37.3 H218.23 V116.9 H217.57 ZM218.18 37.3 H218.84 V117.2 H218.18 ZM218.79 37.3 H219.45 V117.4 H218.79 ZM219.40 37.3 H220.05 V117.7 H219.40 ZM220.00 37.3 H220.66 V118.0 H220.00 ZM220.61 37.3 H221.27 V119.2 H220.61 ZM221.22 37.3 H221.88 V120.5 H221.22 ZM221.83 37.3 H222.49 V121.7 H221.83 ZM222.44 37.3 H223.10 V122.9 H222.44 ZM223.05 37.3 H223.71 V124.1 H223.05 ZM223.66 37.3 H224.32 V125.2 H223.66 ZM224.27 37.3 H224.93 V126.1 H224.27 ZM224.88 37.3 H225.54 V127.0 H224.88 ZM225.49 37.3 H226.15 V127.9 H225.49 ZM226.10 37.3 H226.76 V128.9 H226.10 ZM226.71 37.3 H227.37 V129.8 H226.71 ZM227.32 37.3 H227.98 V131.0 H227.32 ZM227.93 37.3 H228.59 V132.2 H227.93 ZM228.54 37.3 H229.20 V133.4 H228.54 ZM229.15 37.3 H229.81 V134.7 H229.15 ZM229.76 37.3 H230.42 V135.9 H229.76 ZM230.37 37.3 H231.03 V137.3 H230.37 ZM230.98 37.3 H231.64 V139.2 H230.98 ZM231.59 37.3 H232.25 V141.0 H231.59 ZM232.20 37.3 H232.86 V142.8 H232.20 ZM232.81 37.3 H233.47 V144.7 H232.81 ZM233.42 37.3 H234.08 V146.5 H233.42 ZM234.03 37.3 H234.69 V148.8 H234.03 ZM234.64 37.3 H235.30 V151.2 H234.64 ZM235.25 37.3 H235.91 V153.7 H235.25 ZM235.86 37.3 H236.52 V156.1 H235.86 ZM236.47 37.3 H237.13 V158.6 H236.47 ZM237.08 37.3 H237.74 V161.1 H237.08 ZM237.69 37.3 H238.35 V164.1 H237.69 ZM238.30 37.3 H238.96 V167.0 H238.30 ZM238.91 37.3 H239.57 V170.0 H238.91 ZM239.52 37.3 H240.18 V173.0 H239.52 ZM240.13 37.3 H240.79 V175.4 H240.13 ZM240.74 37.3 H241.40 V177.5 H240.74 ZM241.35 37.3 H242.01 V179.5 H241.35 ZM241.96 37.3 H246.28 V180.0 H241.96 ZM246.23 37.3 H247.50 V128.0 H246.23 ZM247.45 37.3 H249.94 V113.0 H247.45 ZM249.89 37.3 H252.38 V128.0 H249.89 ZM252.33 37.3 H269.45 V180.0 H252.33 ZM269.40 37.3 H273.11 V150.0 H269.40 ZM273.06 37.3 H287.75 V180.0 H273.06 ZM287.70 37.3 H288.97 V67.0 H287.70 ZM288.92 37.3 H291.41 V180.0 H288.92 ZM291.36 37.3 H293.85 V161.0 H291.36 ZM293.80 37.3 H340.81 V180.0 H293.80 ZM340.76 37.3 H343.85 V113.3 H340.76 ZM343.80 37.3 H345.07 V116.0 H343.80 ZM345.02 37.3 H346.90 V122.0 H345.02 ZM346.85 37.3 H348.12 V128.0 H346.85 ZM348.07 37.3 H349.95 V134.0 H348.07 ZM349.90 37.3 H351.17 V140.0 H349.90 ZM351.12 37.3 H353.00 V145.0 H351.12 ZM352.95 37.3 H354.22 V150.0 H352.95 ZM354.17 37.3 H355.44 V82.0 H354.17 ZM355.39 37.3 H368.25 V180.0 H355.39 ZM368.20 37.3 H369.47 V85.0 H368.20 ZM369.42 37.3 H373.13 V140.0 H369.42 ZM373.08 37.3 H376.79 V180.0 H373.08 ZM376.74 37.3 H379.84 V152.0 H376.74 ZM379.79 37.3 H388.37 V180.0 H379.79 ZM388.32 37.3 H388.98 V179.5 H388.32 ZM388.93 37.3 H389.59 V177.0 H388.93 ZM389.54 37.3 H390.20 V174.5 H389.54 ZM390.15 37.3 H390.81 V172.0 H390.15 ZM390.76 37.3 H391.42 V169.5 H390.76 ZM391.37 37.3 H392.03 V167.0 H391.37 ZM391.98 37.3 H392.64 V164.4 H391.98 ZM392.59 37.3 H393.25 V161.9 H392.59 ZM393.20 37.3 H393.86 V159.6 H393.20 ZM393.81 37.3 H394.47 V157.5 H393.81 ZM394.42 37.3 H395.08 V155.4 H394.42 ZM395.03 37.3 H395.69 V153.3 H395.03 ZM395.64 37.3 H396.30 V151.2 H395.64 ZM396.25 37.3 H396.91 V149.1 H396.25 ZM396.86 37.3 H397.52 V146.9 H396.86 ZM397.47 37.3 H398.13 V144.8 H397.47 ZM398.08 37.3 H398.74 V142.8 H398.08 ZM398.69 37.3 H399.35 V141.3 H398.69 ZM399.30 37.3 H399.96 V139.7 H399.30 ZM399.91 37.3 H400.57 V138.2 H399.91 ZM400.52 37.3 H401.18 V136.7 H400.52 ZM401.13 37.3 H401.79 V135.2 H401.13 ZM401.74 37.3 H402.40 V133.6 H401.74 ZM402.35 37.3 H403.01 V132.1 H402.35 ZM402.96 37.3 H403.62 V130.6 H402.96 ZM403.57 37.3 H404.23 V129.5 H403.57 ZM404.18 37.3 H404.84 V128.8 H404.18 ZM404.79 37.3 H405.45 V128.1 H404.79 ZM405.40 37.3 H406.06 V127.3 H405.40 ZM406.01 37.3 H406.67 V126.6 H406.01 ZM406.62 37.3 H407.28 V125.9 H406.62 ZM407.23 37.3 H407.89 V125.1 H407.23 ZM407.84 37.3 H408.50 V124.4 H407.84 ZM408.45 37.3 H409.11 V123.7 H408.45 ZM409.06 37.3 H409.72 V122.9 H409.06 ZM409.67 37.3 H410.33 V122.2 H409.67 ZM410.28 37.3 H410.94 V121.4 H410.28 ZM410.89 37.3 H411.55 V120.8 H410.89 ZM411.50 37.3 H412.16 V120.2 H411.50 ZM412.11 37.3 H412.77 V119.6 H412.11 ZM412.72 37.3 H413.38 V119.0 H412.72 ZM413.33 37.3 H413.99 V118.5 H413.33 ZM413.94 37.3 H414.60 V117.9 H413.94 ZM414.55 37.3 H415.21 V117.3 H414.55 ZM415.16 37.3 H415.82 V116.7 H415.16 ZM415.77 37.3 H416.43 V116.1 H415.77 ZM416.38 37.3 H417.04 V115.5 H416.38 ZM416.99 37.3 H417.65 V114.9 H416.99 ZM417.60 37.3 H418.26 V114.2 H417.60 ZM418.21 37.3 H418.87 V113.4 H418.21 ZM418.82 37.3 H419.48 V112.5 H418.82 ZM419.43 37.3 H420.09 V111.7 H419.43 ZM420.04 37.3 H420.70 V110.9 H420.04 ZM420.65 37.3 H421.31 V110.1 H420.65 ZM421.26 37.3 H421.92 V109.2 H421.26 ZM421.87 37.3 H422.53 V108.4 H421.87 ZM422.48 37.3 H423.13 V107.3 H422.48 ZM423.08 37.3 H423.74 V104.6 H423.08 ZM423.69 37.3 H424.35 V101.8 H423.69 ZM424.30 37.3 H424.96 V99.1 H424.30 ZM424.91 37.3 H425.57 V96.3 H424.91 ZM425.52 37.3 H426.18 V93.5 H425.52 ZM426.13 37.3 H426.79 V89.9 H426.13 ZM426.74 37.3 H427.40 V85.6 H426.74 ZM427.35 37.3 H428.01 V81.3 H427.35 ZM427.96 37.3 H428.62 V76.9 H427.96 ZM428.57 37.3 H429.23 V71.9 H428.57 ZM429.18 37.3 H429.84 V66.3 H429.18 ZM429.79 37.3 H430.45 V60.8 H429.79 ZM430.40 37.3 H431.06 V57.7 H430.40 ZM431.01 37.3 H431.67 V56.2 H431.01 ZM431.62 37.3 H432.28 V59.6 H431.62 ZM432.23 37.3 H432.89 V63.0 H432.23 ZM432.84 37.3 H433.50 V67.0 H432.84 ZM433.45 37.3 H434.11 V71.9 H433.45 ZM434.06 37.3 H434.72 V76.8 H434.06 ZM434.67 37.3 H435.33 V80.5 H434.67 ZM435.28 37.3 H435.94 V83.5 H435.28 ZM435.89 37.3 H436.55 V86.5 H435.89 ZM436.50 37.3 H437.16 V89.4 H436.50 ZM437.11 37.3 H437.77 V92.4 H437.11 ZM437.72 37.3 H438.38 V94.7 H437.72 ZM438.33 37.3 H438.99 V96.9 H438.33 ZM438.94 37.3 H439.60 V99.2 H438.94 ZM439.55 37.3 H440.21 V101.5 H439.55 ZM440.16 37.3 H440.82 V103.8 H440.16 ZM440.77 37.3 H441.43 V106.1 H440.77 ZM441.38 37.3 H442.04 V107.9 H441.38 ZM441.99 37.3 H442.65 V108.7 H441.99 ZM442.60 37.3 H443.26 V109.5 H442.60 ZM443.21 37.3 H443.87 V110.2 H443.21 ZM443.82 37.3 H444.48 V111.0 H443.82 ZM444.43 37.3 H445.09 V111.8 H444.43 ZM445.04 37.3 H445.70 V112.6 H445.04 ZM445.65 37.3 H446.31 V113.3 H445.65 ZM446.26 37.3 H446.92 V114.1 H446.26 ZM446.87 37.3 H447.53 V114.9 H446.87 ZM447.48 37.3 H448.14 V115.6 H447.48 ZM448.09 37.3 H448.75 V116.4 H448.09 ZM448.70 37.3 H449.36 V117.2 H448.70 ZM449.31 37.3 H449.97 V117.9 H449.31 ZM449.92 37.3 H450.58 V118.7 H449.92 ZM450.53 37.3 H451.19 V119.5 H450.53 ZM451.14 37.3 H451.80 V120.2 H451.14 ZM451.75 37.3 H452.41 V121.0 H451.75 ZM452.36 37.3 H453.02 V121.8 H452.36 ZM452.97 37.3 H453.63 V122.5 H452.97 ZM453.58 37.3 H454.24 V123.3 H453.58 ZM454.19 37.3 H454.85 V124.0 H454.19 ZM454.80 37.3 H455.46 V124.8 H454.80 ZM455.41 37.3 H456.07 V125.8 H455.41 ZM456.02 37.3 H456.68 V126.8 H456.02 ZM456.63 37.3 H457.29 V127.8 H456.63 ZM457.24 37.3 H457.90 V128.8 H457.24 ZM457.85 37.3 H458.51 V129.8 H457.85 ZM458.46 37.3 H459.12 V130.8 H458.46 ZM459.07 37.3 H459.73 V131.8 H459.07 ZM459.68 37.3 H460.34 V132.8 H459.68 ZM460.29 37.3 H460.95 V134.2 H460.29 ZM460.90 37.3 H461.56 V136.0 H460.90 ZM461.51 37.3 H462.17 V137.9 H461.51 ZM462.12 37.3 H462.78 V139.7 H462.12 ZM462.73 37.3 H463.39 V141.6 H462.73 ZM463.34 37.3 H463.99 V143.4 H463.34 ZM463.94 37.3 H464.60 V145.8 H463.94 ZM464.55 37.3 H465.21 V148.3 H464.55 ZM465.16 37.3 H465.82 V150.7 H465.16 ZM465.77 37.3 H466.43 V153.2 H465.77 ZM466.38 37.3 H467.04 V155.6 H466.38 ZM466.99 37.3 H467.65 V158.1 H466.99 ZM467.60 37.3 H468.26 V160.5 H467.60 ZM468.21 37.3 H468.87 V163.0 H468.21 ZM468.82 37.3 H469.48 V165.4 H468.82 ZM469.43 37.3 H470.09 V167.9 H469.43 ZM470.04 37.3 H470.70 V170.3 H470.04 ZM470.65 37.3 H471.31 V172.6 H470.65 ZM471.26 37.3 H471.92 V174.9 H471.26 ZM471.87 37.3 H472.53 V177.3 H471.87 ZM472.48 37.3 H473.14 V179.6 H472.48 ZM473.09 37.3 H506.68 V180.0 H473.09 ZM506.63 37.3 H510.95 V158.7 H506.63 ZM510.90 37.3 H514.61 V113.4 H510.90 ZM514.56 37.3 H517.05 V100.0 H514.56 ZM517.00 37.3 H528.03 V180.0 H517.00 ZM527.98 37.3 H531.69 V120.0 H527.98 ZM531.64 37.3 H534.13 V180.0 H531.64 ZM534.08 37.3 H537.18 V109.0 H534.08 ZM537.13 37.3 H540.84 V180.0 H537.13 Z"/></clipPath>
</defs>
<rect width="600" height="451" fill="#fff"/>
<g stroke="#000" stroke-width="1" stroke-dasharray="1 4" fill="none" shape-rendering="crispEdges"><line x1="78" x2="543" y1="74.5" y2="74.5"/><line x1="78" x2="543" y1="111.5" y2="111.5"/><line x1="78" x2="543" y1="148.5" y2="148.5"/><line x1="78" x2="543" y1="185.5" y2="185.5"/><line x1="138.5" x2="138.5" y1="187.0" y2="38.0"/><line x1="199.5" x2="199.5" y1="187.0" y2="38.0"/><line x1="260.5" x2="260.5" y1="187.0" y2="38.0"/><line x1="321.5" x2="321.5" y1="187.0" y2="38.0"/><line x1="382.5" x2="382.5" y1="187.0" y2="38.0"/><line x1="443.5" x2="443.5" y1="187.0" y2="38.0"/><line x1="504.5" x2="504.5" y1="187.0" y2="38.0"/></g><g stroke="#000" stroke-width="1" fill="none" shape-rendering="crispEdges"><line x1="78" x2="83" y1="74.5" y2="74.5"/><line x1="543" x2="538" y1="74.5" y2="74.5"/><line x1="78" x2="83" y1="111.5" y2="111.5"/><line x1="543" x2="538" y1="111.5" y2="111.5"/><line x1="78" x2="83" y1="148.5" y2="148.5"/><line x1="543" x2="538" y1="148.5" y2="148.5"/><line x1="78" x2="83" y1="185.5" y2="185.5"/><line x1="543" x2="538" y1="185.5" y2="185.5"/><line x1="138.5" x2="138.5" y1="187.0" y2="182.0"/><line x1="138.5" x2="138.5" y1="38.0" y2="43.0"/><line x1="199.5" x2="199.5" y1="187.0" y2="182.0"/><line x1="199.5" x2="199.5" y1="38.0" y2="43.0"/><line x1="260.5" x2="260.5" y1="187.0" y2="182.0"/><line x1="260.5" x2="260.5" y1="38.0" y2="43.0"/><line x1="321.5" x2="321.5" y1="187.0" y2="182.0"/><line x1="321.5" x2="321.5" y1="38.0" y2="43.0"/><line x1="382.5" x2="382.5" y1="187.0" y2="182.0"/><line x1="382.5" x2="382.5" y1="38.0" y2="43.0"/><line x1="443.5" x2="443.5" y1="187.0" y2="182.0"/><line x1="443.5" x2="443.5" y1="38.0" y2="43.0"/><line x1="504.5" x2="504.5" y1="187.0" y2="182.0"/><line x1="504.5" x2="504.5" y1="38.0" y2="43.0"/></g>
<g clip-path="url(#ct)"><use href="#field"/></g>
<g stroke="#000" stroke-width="1" fill="none" shape-rendering="crispEdges"><rect x="77.5" y="38.5" width="466" height="149"/></g>
<g font-size="13.9px"><text x="74.2" y="41.9" text-anchor="end">0</text><text x="74.2" y="78.8" text-anchor="end">50</text><text x="74.2" y="115.8" text-anchor="end">100</text><text x="74.2" y="152.7" text-anchor="end">150</text><text x="74.2" y="189.6" text-anchor="end">200</text><text x="77.2" y="203.9" text-anchor="middle">0</text><text x="138.2" y="203.9" text-anchor="middle">50</text><text x="199.2" y="203.9" text-anchor="middle">100</text><text x="260.2" y="203.9" text-anchor="middle">150</text><text x="321.1" y="203.9" text-anchor="middle">200</text><text x="382.1" y="203.9" text-anchor="middle">250</text><text x="443.1" y="203.9" text-anchor="middle">300</text><text x="504.1" y="203.9" text-anchor="middle">350</text></g><text transform="translate(44.5,114.3) rotate(-90)" text-anchor="middle" font-size="14.2px">Depth,(m)</text>
<text x="156" y="26.2" font-size="14.65px" style="word-spacing:1.55px">Salinity: Gridded data (1km x 4m) (pcolor plot)</text>
<g stroke="#000" stroke-width="1" stroke-dasharray="1 4" fill="none" shape-rendering="crispEdges"><line x1="78" x2="543" y1="288.5" y2="288.5"/><line x1="78" x2="543" y1="325.5" y2="325.5"/><line x1="78" x2="543" y1="362.5" y2="362.5"/><line x1="78" x2="543" y1="399.5" y2="399.5"/><line x1="138.5" x2="138.5" y1="400.7" y2="251.7"/><line x1="199.5" x2="199.5" y1="400.7" y2="251.7"/><line x1="260.5" x2="260.5" y1="400.7" y2="251.7"/><line x1="321.5" x2="321.5" y1="400.7" y2="251.7"/><line x1="382.5" x2="382.5" y1="400.7" y2="251.7"/><line x1="443.5" x2="443.5" y1="400.7" y2="251.7"/><line x1="504.5" x2="504.5" y1="400.7" y2="251.7"/></g><g stroke="#000" stroke-width="1" fill="none" shape-rendering="crispEdges"><line x1="78" x2="83" y1="288.5" y2="288.5"/><line x1="78" x2="83" y1="325.5" y2="325.5"/><line x1="78" x2="83" y1="362.5" y2="362.5"/><line x1="78" x2="83" y1="399.5" y2="399.5"/><line x1="138.5" x2="138.5" y1="400.7" y2="395.7"/><line x1="199.5" x2="199.5" y1="400.7" y2="395.7"/><line x1="260.5" x2="260.5" y1="400.7" y2="395.7"/><line x1="321.5" x2="321.5" y1="400.7" y2="395.7"/><line x1="382.5" x2="382.5" y1="400.7" y2="395.7"/><line x1="443.5" x2="443.5" y1="400.7" y2="395.7"/><line x1="504.5" x2="504.5" y1="400.7" y2="395.7"/></g>
<g stroke="#000" stroke-width="1" fill="none" shape-rendering="crispEdges"><path d="M77.5 251.5V401.5H543.5"/></g>
<g transform="translate(0,213.7)"><g clip-path="url(#cb)"><use href="#field"/></g>
<path stroke="#fff" stroke-width="1" fill="none" shape-rendering="crispEdges" d="M128 39.8h1M157 39.8h3M331 39.8h1M275 40.8h1M317 40.8h2M323 40.8h3M439 40.8h3M282 41.8h2M99 42.8h2M307 42.8h1M313 43.8h2M322 43.8h3M422 43.8h1M290 44.8h1M307 44.8h1M320 44.8h3M491 44.8h2M502 44.8h1M508 44.8h1M234 45.8h1M299 45.8h1M306 45.8h1M517 45.8h2M256 46.8h2M516 46.8h3M529 46.8h1M314 47.8h1M331 47.8h1M465 47.8h1M480 47.8h2M512 47.8h1M515 47.8h1M484 48.8h1M495 48.8h2M473 49.8h2M482 49.8h1M155 50.8h1M304 50.8h1M306 50.8h1M329 50.8h1M510 50.8h1M496 51.8h1M304 52.8h1M308 52.8h1M327 52.8h1M331 52.8h1M487 52.8h1M136 53.8h1M233 53.8h1M257 53.8h1M263 53.8h3M304 53.8h1M315 53.8h2M484 53.8h3M311 54.8h2M336 54.8h1M464 54.8h1M478 54.8h3M495 54.8h1M501 54.8h1M277 55.8h3M308 55.8h3M337 55.8h2M103 56.8h1M262 56.8h3M267 56.8h2M467 56.8h1M517 56.8h2M90 57.8h2M227 57.8h3M242 57.8h1M250 57.8h2M277 57.8h1M284 57.8h2M470 57.8h2M517 57.8h1M271 58.8h3M277 58.8h2M280 58.8h1M313 58.8h1M463 58.8h1M490 58.8h1M496 58.8h1M518 58.8h1M233 59.8h1M275 59.8h1M278 59.8h1M280 59.8h1M287 59.8h2M323 59.8h1M363 59.8h3M484 59.8h3M217 60.8h1M236 60.8h1M279 60.8h1M284 60.8h1M463 60.8h1M512 60.8h2M533 60.8h2M253 61.8h1M257 61.8h1M274 61.8h1M291 61.8h2M311 61.8h1M390 61.8h1M471 61.8h1M491 61.8h1M497 61.8h3M520 61.8h3M276 62.8h3M283 62.8h2M288 62.8h3M310 62.8h2M353 62.8h2M357 62.8h1M411 62.8h1M499 62.8h3M508 62.8h1M257 63.8h1M262 63.8h3M266 63.8h1M269 63.8h1M274 63.8h1M289 63.8h2M350 63.8h1M357 63.8h2M374 63.8h1M469 63.8h2M509 63.8h2M236 64.8h2M254 64.8h1M269 64.8h3M281 64.8h2M285 64.8h2M303 64.8h1M363 64.8h1M497 64.8h1M515 64.8h2M239 65.8h2M259 65.8h1M266 65.8h1M268 65.8h4M288 65.8h2M358 65.8h2M458 65.8h1M469 65.8h1M479 65.8h2M482 65.8h1M140 66.8h1M213 66.8h3M235 66.8h2M249 66.8h3M259 66.8h3M265 66.8h3M269 66.8h1M274 66.8h1M282 66.8h2M481 66.8h1M487 66.8h3M492 66.8h2M505 66.8h2M514 66.8h1M521 66.8h1M523 66.8h2M240 67.8h2M245 67.8h1M254 67.8h2M257 67.8h2M266 67.8h1M274 67.8h2M290 67.8h1M386 67.8h2M475 67.8h3M493 67.8h3M501 67.8h1M509 67.8h1M516 67.8h1M536 67.8h1M538 67.8h1M136 68.8h2M236 68.8h2M253 68.8h4M265 68.8h2M279 68.8h3M286 68.8h3M360 68.8h1M366 68.8h4M463 68.8h2M496 68.8h2M501 68.8h1M503 68.8h1M520 68.8h1M232 69.8h1M255 69.8h4M265 69.8h2M284 69.8h4M318 69.8h1M328 69.8h3M343 69.8h1M356 69.8h3M427 69.8h1M482 69.8h2M486 69.8h2M510 69.8h2M516 69.8h1M256 70.8h2M266 70.8h2M272 70.8h2M279 70.8h1M282 70.8h3M289 70.8h2M355 70.8h2M358 70.8h3M362 70.8h2M368 70.8h1M370 70.8h2M417 70.8h1M477 70.8h1M481 70.8h2M492 70.8h3M496 70.8h3M515 70.8h2M519 70.8h2M526 70.8h1M261 71.8h1M264 71.8h4M280 71.8h2M291 71.8h2M303 71.8h1M315 71.8h2M330 71.8h2M366 71.8h1M382 71.8h1M482 71.8h1M503 71.8h2M513 71.8h2M528 71.8h1M130 72.8h2M245 72.8h2M251 72.8h1M262 72.8h1M264 72.8h3M268 72.8h4M278 72.8h2M283 72.8h3M312 72.8h1M348 72.8h2M372 72.8h1M463 72.8h1M467 72.8h1M482 72.8h3M498 72.8h1M515 72.8h3M234 73.8h1M240 73.8h1M265 73.8h1M268 73.8h2M272 73.8h1M277 73.8h2M280 73.8h3M286 73.8h1M290 73.8h4M308 73.8h2M319 73.8h1M362 73.8h3M414 73.8h2M459 73.8h3M463 73.8h1M467 73.8h1M474 73.8h2M514 73.8h1M535 73.8h1M266 74.8h4M275 74.8h2M279 74.8h4M284 74.8h2M302 74.8h1M349 74.8h3M406 74.8h3M450 74.8h1M468 74.8h1M475 74.8h1M490 74.8h1M502 74.8h3M524 74.8h1M237 75.8h1M252 75.8h1M260 75.8h3M268 75.8h1M274 75.8h3M285 75.8h2M299 75.8h1M330 75.8h1M351 75.8h2M360 75.8h2M367 75.8h3M371 75.8h2M374 75.8h1M466 75.8h1M478 75.8h1M507 75.8h2M512 75.8h2M515 75.8h1M517 75.8h1M521 75.8h1M529 75.8h3M249 76.8h3M258 76.8h3M267 76.8h2M274 76.8h2M281 76.8h2M284 76.8h1M286 76.8h2M345 76.8h1M352 76.8h1M364 76.8h3M382 76.8h3M462 76.8h2M474 76.8h3M492 76.8h2M495 76.8h3M512 76.8h1M234 77.8h3M238 77.8h1M240 77.8h1M244 77.8h1M249 77.8h1M255 77.8h4M268 77.8h3M275 77.8h1M286 77.8h4M337 77.8h2M348 77.8h1M373 77.8h2M455 77.8h2M467 77.8h4M484 77.8h1M490 77.8h1M497 77.8h2M504 77.8h1M509 77.8h2M527 77.8h2M534 77.8h3M92 78.8h1M265 78.8h4M272 78.8h1M274 78.8h2M289 78.8h2M309 78.8h2M321 78.8h2M329 78.8h1M355 78.8h3M369 78.8h1M401 78.8h1M408 78.8h1M464 78.8h1M466 78.8h2M470 78.8h2M473 78.8h2M481 78.8h1M487 78.8h2M503 78.8h4M517 78.8h2M249 79.8h1M251 79.8h1M263 79.8h3M270 79.8h4M281 79.8h1M290 79.8h2M345 79.8h1M347 79.8h3M353 79.8h1M357 79.8h2M368 79.8h3M438 79.8h2M476 79.8h2M481 79.8h4M489 79.8h1M493 79.8h2M510 79.8h1M208 80.8h2M237 80.8h1M246 80.8h1M262 80.8h3M279 80.8h3M285 80.8h3M291 80.8h3M323 80.8h1M456 80.8h2M466 80.8h2M479 80.8h1M488 80.8h2M493 80.8h2M511 80.8h2M523 80.8h2M233 81.8h3M237 81.8h1M252 81.8h1M254 81.8h4M261 81.8h1M267 81.8h2M270 81.8h2M277 81.8h2M282 81.8h2M329 81.8h1M356 81.8h4M397 81.8h1M465 81.8h2M471 81.8h2M493 81.8h3M500 81.8h3M506 81.8h1M515 81.8h3M530 81.8h3M536 81.8h3M212 82.8h1M238 82.8h3M255 82.8h2M267 82.8h2M273 82.8h3M284 82.8h4M289 82.8h3M295 82.8h1M347 82.8h1M359 82.8h3M363 82.8h2M366 82.8h4M375 82.8h1M403 82.8h2M464 82.8h3M482 82.8h2M485 82.8h4M490 82.8h4M502 82.8h1M507 82.8h3M516 82.8h4M523 82.8h1M534 82.8h2M210 83.8h1M237 83.8h2M256 83.8h2M268 83.8h3M276 83.8h2M280 83.8h2M296 83.8h3M353 83.8h1M359 83.8h3M370 83.8h2M385 83.8h2M390 83.8h1M477 83.8h1M479 83.8h3M489 83.8h1M497 83.8h4M505 83.8h3M511 83.8h2M516 83.8h3M538 83.8h2M239 84.8h2M250 84.8h1M254 84.8h3M281 84.8h2M289 84.8h1M307 84.8h3M340 84.8h1M350 84.8h1M356 84.8h3M365 84.8h2M410 84.8h2M418 84.8h3M459 84.8h1M463 84.8h1M468 84.8h2M471 84.8h3M476 84.8h3M494 84.8h4M507 84.8h2M514 84.8h3M519 84.8h1M538 84.8h3M233 85.8h1M238 85.8h1M256 85.8h1M259 85.8h2M268 85.8h3M272 85.8h2M279 85.8h1M285 85.8h2M289 85.8h1M310 85.8h1M319 85.8h2M349 85.8h2M363 85.8h2M367 85.8h3M392 85.8h2M454 85.8h1M464 85.8h2M482 85.8h4M500 85.8h2M509 85.8h2M514 85.8h1M530 85.8h1M536 85.8h1M259 86.8h2M265 86.8h1M267 86.8h3M271 86.8h2M282 86.8h1M290 86.8h3M299 86.8h1M331 86.8h1M344 86.8h3M364 86.8h3M410 86.8h3M445 86.8h2M460 86.8h3M470 86.8h2M479 86.8h4M485 86.8h2M496 86.8h2M499 86.8h1M515 86.8h2M519 86.8h2M258 87.8h2M263 87.8h1M269 87.8h4M275 87.8h1M281 87.8h1M285 87.8h1M290 87.8h1M295 87.8h1M438 87.8h1M463 87.8h3M477 87.8h2M486 87.8h3M493 87.8h3M497 87.8h4M502 87.8h4M507 87.8h1M509 87.8h3M515 87.8h2M520 87.8h1M531 87.8h2M259 88.8h1M262 88.8h1M275 88.8h1M278 88.8h2M284 88.8h2M290 88.8h3M294 88.8h2M297 88.8h2M311 88.8h1M349 88.8h1M356 88.8h3M378 88.8h1M391 88.8h2M398 88.8h2M413 88.8h2M438 88.8h2M463 88.8h2M473 88.8h3M477 88.8h2M490 88.8h2M498 88.8h4M507 88.8h3M514 88.8h3M520 88.8h3M530 88.8h2M533 88.8h1M236 89.8h1M254 89.8h1M257 89.8h2M269 89.8h3M275 89.8h3M279 89.8h1M285 89.8h1M291 89.8h4M312 89.8h1M322 89.8h2M334 89.8h2M357 89.8h3M369 89.8h1M376 89.8h3M393 89.8h1M437 89.8h1M456 89.8h2M469 89.8h2M479 89.8h2M486 89.8h1M508 89.8h2M512 89.8h1M516 89.8h2M530 89.8h2M235 90.8h2M245 90.8h2M259 90.8h2M273 90.8h1M278 90.8h3M283 90.8h1M285 90.8h1M290 90.8h1M304 90.8h1M347 90.8h1M360 90.8h1M366 90.8h3M372 90.8h1M448 90.8h1M466 90.8h2M480 90.8h3M485 90.8h2M496 90.8h2M503 90.8h4M515 90.8h2M536 90.8h2M252 91.8h3M259 91.8h2M267 91.8h2M270 91.8h3M274 91.8h2M277 91.8h4M282 91.8h3M308 91.8h3M315 91.8h2M329 91.8h1M345 91.8h3M360 91.8h4M371 91.8h1M447 91.8h3M467 91.8h1M471 91.8h1M479 91.8h4M486 91.8h3M492 91.8h2M497 91.8h1M507 91.8h2M510 91.8h3M514 91.8h3M238 92.8h2M246 92.8h1M248 92.8h1M256 92.8h2M274 92.8h2M281 92.8h2M284 92.8h2M289 92.8h3M298 92.8h1M311 92.8h1M366 92.8h2M440 92.8h2M455 92.8h1M470 92.8h2M473 92.8h1M479 92.8h2M483 92.8h3M495 92.8h4M502 92.8h2M506 92.8h2M509 92.8h2M513 92.8h1M520 92.8h1M534 92.8h1M233 93.8h2M261 93.8h3M265 93.8h2M269 93.8h4M274 93.8h4M285 93.8h2M291 93.8h4M307 93.8h3M336 93.8h1M342 93.8h1M347 93.8h1M352 93.8h1M361 93.8h2M365 93.8h3M370 93.8h2M450 93.8h1M452 93.8h1M463 93.8h3M469 93.8h3M477 93.8h1M481 93.8h2M487 93.8h2M492 93.8h4M518 93.8h3M528 93.8h3M260 94.8h1M267 94.8h4M283 94.8h1M286 94.8h2M290 94.8h4M340 94.8h1M343 94.8h3M357 94.8h2M362 94.8h2M365 94.8h1M374 94.8h1M387 94.8h3M411 94.8h1M440 94.8h1M466 94.8h2M469 94.8h3M482 94.8h2M504 94.8h2M514 94.8h1M519 94.8h2M209 95.8h1M239 95.8h1M261 95.8h4M266 95.8h1M278 95.8h3M283 95.8h2M324 95.8h1M344 95.8h2M355 95.8h1M362 95.8h4M373 95.8h3M405 95.8h2M438 95.8h2M452 95.8h1M468 95.8h1M473 95.8h4M478 95.8h1M483 95.8h3M489 95.8h3M493 95.8h4M506 95.8h2M519 95.8h3M249 96.8h2M255 96.8h4M263 96.8h1M265 96.8h3M273 96.8h2M276 96.8h2M279 96.8h2M300 96.8h3M312 96.8h1M326 96.8h3M342 96.8h1M361 96.8h2M365 96.8h1M367 96.8h1M378 96.8h1M385 96.8h2M391 96.8h2M395 96.8h1M455 96.8h2M462 96.8h2M469 96.8h3M476 96.8h3M484 96.8h2M488 96.8h4M495 96.8h4M500 96.8h2M517 96.8h2M524 96.8h1M236 97.8h1M263 97.8h3M279 97.8h1M286 97.8h2M290 97.8h4M310 97.8h1M326 97.8h1M347 97.8h1M355 97.8h2M360 97.8h2M369 97.8h1M374 97.8h1M402 97.8h2M443 97.8h1M454 97.8h3M473 97.8h2M477 97.8h2M480 97.8h1M486 97.8h4M494 97.8h1M499 97.8h2M502 97.8h1M504 97.8h2M510 97.8h3M516 97.8h1M242 98.8h1M250 98.8h1M256 98.8h4M262 98.8h1M267 98.8h1M269 98.8h2M272 98.8h1M274 98.8h3M294 98.8h3M299 98.8h1M341 98.8h1M399 98.8h2M454 98.8h2M471 98.8h3M483 98.8h2M501 98.8h1M506 98.8h1M508 98.8h1M511 98.8h2M516 98.8h2M539 98.8h1M236 99.8h2M242 99.8h2M261 99.8h3M272 99.8h2M277 99.8h1M286 99.8h2M291 99.8h3M314 99.8h2M338 99.8h1M341 99.8h1M343 99.8h1M347 99.8h1M357 99.8h3M367 99.8h2M372 99.8h1M378 99.8h1M391 99.8h2M419 99.8h1M450 99.8h3M454 99.8h3M462 99.8h4M474 99.8h1M481 99.8h2M485 99.8h4M496 99.8h2M500 99.8h2M532 99.8h3M536 99.8h1M257 100.8h2M262 100.8h3M273 100.8h1M281 100.8h1M290 100.8h2M305 100.8h2M333 100.8h2M350 100.8h1M358 100.8h1M372 100.8h1M392 100.8h1M397 100.8h1M466 100.8h3M472 100.8h4M483 100.8h3M500 100.8h3M505 100.8h1M507 100.8h3M521 100.8h1M529 100.8h1M535 100.8h2M538 100.8h1M217 101.8h3M224 101.8h2M233 101.8h2M236 101.8h1M244 101.8h1M254 101.8h3M272 101.8h2M276 101.8h1M282 101.8h3M360 101.8h2M363 101.8h1M380 101.8h3M399 101.8h2M406 101.8h1M452 101.8h2M456 101.8h2M465 101.8h1M468 101.8h1M474 101.8h2M480 101.8h3M491 101.8h4M497 101.8h2M500 101.8h2M508 101.8h3M534 101.8h3M238 102.8h1M252 102.8h3M259 102.8h4M274 102.8h3M280 102.8h3M286 102.8h3M290 102.8h3M298 102.8h1M321 102.8h3M361 102.8h3M370 102.8h1M384 102.8h2M423 102.8h2M461 102.8h1M466 102.8h2M469 102.8h4M480 102.8h1M482 102.8h2M487 102.8h1M489 102.8h3M494 102.8h2M507 102.8h2M512 102.8h3M518 102.8h2M521 102.8h1M240 103.8h1M261 103.8h1M272 103.8h3M276 103.8h3M280 103.8h2M348 103.8h1M357 103.8h2M396 103.8h1M408 103.8h1M442 103.8h1M449 103.8h1M472 103.8h3M485 103.8h3M494 103.8h3M507 103.8h1M512 103.8h3M518 103.8h3M538 103.8h3M251 104.8h1M253 104.8h3M257 104.8h2M263 104.8h2M270 104.8h1M282 104.8h4M289 104.8h1M291 104.8h4M303 104.8h1M315 104.8h2M356 104.8h4M367 104.8h3M382 104.8h1M389 104.8h2M405 104.8h3M471 104.8h3M476 104.8h1M485 104.8h1M488 104.8h2M491 104.8h2M496 104.8h1M507 104.8h1M513 104.8h1M517 104.8h2M520 104.8h2M261 105.8h1M270 105.8h2M289 105.8h1M318 105.8h1M338 105.8h1M355 105.8h2M364 105.8h1M373 105.8h2M400 105.8h1M405 105.8h1M452 105.8h1M454 105.8h1M457 105.8h1M463 105.8h1M472 105.8h4M492 105.8h2M495 105.8h3M511 105.8h4M526 105.8h1M528 105.8h3M534 105.8h3M222 106.8h1M238 106.8h1M255 106.8h2M258 106.8h3M289 106.8h2M306 106.8h1M335 106.8h2M340 106.8h1M342 106.8h1M344 106.8h2M349 106.8h2M364 106.8h3M371 106.8h1M385 106.8h3M457 106.8h1M466 106.8h3M471 106.8h1M479 106.8h2M494 106.8h3M504 106.8h2M513 106.8h2M524 106.8h1M249 107.8h1M256 107.8h3M261 107.8h4M268 107.8h3M273 107.8h1M284 107.8h2M290 107.8h3M338 107.8h1M345 107.8h2M361 107.8h4M367 107.8h1M370 107.8h1M403 107.8h3M416 107.8h2M463 107.8h4M477 107.8h2M483 107.8h2M487 107.8h2M494 107.8h4M506 107.8h3M511 107.8h1M519 107.8h4M534 107.8h2M540 107.8h1M240 108.8h2M249 108.8h2M252 108.8h1M272 108.8h1M275 108.8h3M289 108.8h4M326 108.8h2M337 108.8h1M344 108.8h2M347 108.8h1M358 108.8h4M369 108.8h1M396 108.8h2M459 108.8h2M475 108.8h3M479 108.8h3M485 108.8h3M489 108.8h4M494 108.8h3M500 108.8h2M503 108.8h2M508 108.8h1M513 108.8h1M518 108.8h1M524 108.8h3M531 108.8h2M538 108.8h1M250 109.8h1M260 109.8h3M274 109.8h2M278 109.8h2M282 109.8h2M286 109.8h1M313 109.8h3M336 109.8h2M343 109.8h3M351 109.8h1M381 109.8h1M392 109.8h1M409 109.8h1M443 109.8h2M463 109.8h1M466 109.8h1M470 109.8h3M487 109.8h2M492 109.8h3M496 109.8h2M509 109.8h2M526 109.8h2M529 109.8h1M539 109.8h1M213 110.8h1M234 110.8h1M240 110.8h1M251 110.8h1M253 110.8h3M259 110.8h3M265 110.8h1M267 110.8h3M274 110.8h3M282 110.8h2M286 110.8h1M289 110.8h2M306 110.8h3M340 110.8h1M364 110.8h2M412 110.8h1M448 110.8h1M465 110.8h2M475 110.8h2M481 110.8h1M484 110.8h2M503 110.8h3M507 110.8h2M260 111.8h3M266 111.8h1M272 111.8h2M276 111.8h2M279 111.8h1M282 111.8h2M324 111.8h2M337 111.8h2M358 111.8h2M403 111.8h1M467 111.8h3M478 111.8h2M484 111.8h2M490 111.8h4M498 111.8h1M502 111.8h2M521 111.8h2M525 111.8h1M244 112.8h1M246 112.8h1M256 112.8h4M262 112.8h2M273 112.8h4M281 112.8h1M286 112.8h3M295 112.8h3M307 112.8h2M322 112.8h2M326 112.8h1M332 112.8h3M352 112.8h1M357 112.8h2M363 112.8h3M371 112.8h2M374 112.8h1M376 112.8h2M412 112.8h1M464 112.8h4M472 112.8h3M482 112.8h1M489 112.8h2M492 112.8h2M499 112.8h2M504 112.8h2M530 112.8h1M533 112.8h2M537 112.8h1M250 113.8h1M257 113.8h2M260 113.8h1M268 113.8h2M271 113.8h4M277 113.8h3M286 113.8h1M346 113.8h1M348 113.8h1M360 113.8h2M387 113.8h1M460 113.8h1M465 113.8h1M479 113.8h3M483 113.8h4M491 113.8h2M494 113.8h1M500 113.8h2M508 113.8h2M520 113.8h2M527 113.8h1M242 114.8h3M246 114.8h2M254 114.8h1M259 114.8h1M274 114.8h1M285 114.8h4M290 114.8h2M305 114.8h1M317 114.8h1M360 114.8h3M372 114.8h1M400 114.8h2M471 114.8h3M481 114.8h2M486 114.8h3M490 114.8h1M492 114.8h3M497 114.8h1M502 114.8h1M508 114.8h2M518 114.8h3M233 115.8h1M235 115.8h3M241 115.8h2M251 115.8h1M259 115.8h3M269 115.8h2M275 115.8h3M284 115.8h2M291 115.8h2M298 115.8h1M308 115.8h3M356 115.8h4M367 115.8h1M387 115.8h1M448 115.8h1M457 115.8h3M471 115.8h4M484 115.8h2M492 115.8h2M500 115.8h3M504 115.8h2M507 115.8h2M519 115.8h2M524 115.8h1M234 116.8h2M251 116.8h1M253 116.8h1M284 116.8h2M311 116.8h1M318 116.8h2M331 116.8h2M340 116.8h1M346 116.8h1M357 116.8h3M364 116.8h3M372 116.8h1M374 116.8h2M450 116.8h1M468 116.8h3M473 116.8h4M491 116.8h1M496 116.8h1M500 116.8h2M507 116.8h1M524 116.8h3M242 117.8h1M257 117.8h3M263 117.8h3M268 117.8h4M280 117.8h2M311 117.8h1M324 117.8h2M372 117.8h1M383 117.8h2M456 117.8h1M458 117.8h1M464 117.8h2M469 117.8h1M471 117.8h1M481 117.8h3M495 117.8h4M506 117.8h2M236 118.8h1M254 118.8h3M262 118.8h2M279 118.8h2M285 118.8h3M315 118.8h2M348 118.8h1M373 118.8h1M377 118.8h2M385 118.8h1M459 118.8h1M476 118.8h2M481 118.8h1M487 118.8h2M491 118.8h3M500 118.8h3M518 118.8h2M254 119.8h2M257 119.8h4M271 119.8h2M275 119.8h2M278 119.8h3M286 119.8h4M324 119.8h1M337 119.8h2M356 119.8h2M360 119.8h3M365 119.8h2M371 119.8h2M404 119.8h1M461 119.8h1M464 119.8h1M468 119.8h1M472 119.8h4M490 119.8h2M496 119.8h1M500 119.8h1M506 119.8h3M518 119.8h2M522 119.8h2M537 119.8h1M246 120.8h2M252 120.8h4M258 120.8h1M260 120.8h4M269 120.8h3M274 120.8h3M278 120.8h4M286 120.8h3M291 120.8h1M311 120.8h2M335 120.8h1M347 120.8h2M353 120.8h1M359 120.8h1M471 120.8h1M475 120.8h3M489 120.8h2M501 120.8h3M521 120.8h1M242 121.8h1M246 121.8h2M261 121.8h3M275 121.8h2M278 121.8h3M283 121.8h2M334 121.8h1M340 121.8h2M348 121.8h1M352 121.8h3M358 121.8h3M362 121.8h1M365 121.8h1M482 121.8h2M485 121.8h4M490 121.8h2M493 121.8h4M505 121.8h2M518 121.8h2M243 122.8h2M254 122.8h3M259 122.8h2M276 122.8h2M280 122.8h3M289 122.8h4M321 122.8h2M325 122.8h2M332 122.8h1M338 122.8h3M348 122.8h1M463 122.8h1M473 122.8h1M483 122.8h3M490 122.8h2M498 122.8h4M518 122.8h2M521 122.8h1M524 122.8h2M538 122.8h2M236 123.8h2M244 123.8h1M253 123.8h4M264 123.8h2M280 123.8h1M319 123.8h1M335 123.8h1M337 123.8h1M364 123.8h4M383 123.8h1M465 123.8h2M476 123.8h1M489 123.8h2M499 123.8h2M509 123.8h3M519 123.8h2M524 123.8h3M258 124.8h2M261 124.8h2M266 124.8h1M268 124.8h3M274 124.8h2M286 124.8h2M347 124.8h1M362 124.8h3M366 124.8h3M371 124.8h1M464 124.8h2M470 124.8h2M480 124.8h3M484 124.8h1M500 124.8h2M505 124.8h2M509 124.8h2M521 124.8h1M531 124.8h3M231 125.8h1M279 125.8h2M286 125.8h2M307 125.8h2M327 125.8h2M355 125.8h2M358 125.8h3M364 125.8h3M468 125.8h2M471 125.8h4M477 125.8h1M485 125.8h3M496 125.8h1M498 125.8h3M503 125.8h1M510 125.8h1M520 125.8h2M241 126.8h1M252 126.8h3M256 126.8h2M260 126.8h3M271 126.8h3M279 126.8h3M336 126.8h2M347 126.8h1M349 126.8h1M362 126.8h1M374 126.8h1M464 126.8h1M466 126.8h2M470 126.8h2M478 126.8h3M483 126.8h2M492 126.8h2M519 126.8h3M243 127.8h1M255 127.8h4M273 127.8h4M282 127.8h2M286 127.8h3M316 127.8h2M337 127.8h3M360 127.8h2M366 127.8h3M384 127.8h1M394 127.8h1M465 127.8h3M469 127.8h3M475 127.8h1M482 127.8h2M488 127.8h4M501 127.8h1M524 127.8h2M253 128.8h4M258 128.8h2M270 128.8h3M281 128.8h2M289 128.8h1M291 128.8h4M296 128.8h1M324 128.8h2M340 128.8h1M358 128.8h1M369 128.8h2M477 128.8h2M480 128.8h2M485 128.8h4M493 128.8h2M498 128.8h2M504 128.8h3M518 128.8h3M526 128.8h2M532 128.8h1M538 128.8h1M237 129.8h1M284 129.8h3M291 129.8h3M296 129.8h1M300 129.8h2M340 129.8h1M350 129.8h2M464 129.8h4M471 129.8h2M476 129.8h2M479 129.8h4M487 129.8h2M493 129.8h3M502 129.8h2M509 129.8h4M523 129.8h2M533 129.8h2M539 129.8h1M252 130.8h1M259 130.8h3M277 130.8h1M284 130.8h1M306 130.8h1M329 130.8h1M334 130.8h1M351 130.8h2M356 130.8h1M363 130.8h3M464 130.8h4M473 130.8h3M481 130.8h3M488 130.8h4M493 130.8h1M495 130.8h1M501 130.8h1M504 130.8h3M510 130.8h2M517 130.8h3M272 131.8h4M281 131.8h3M289 131.8h2M314 131.8h3M358 131.8h2M364 131.8h2M468 131.8h3M474 131.8h2M493 131.8h2M498 131.8h4M517 131.8h2M237 132.8h1M256 132.8h2M260 132.8h2M264 132.8h3M268 132.8h1M277 132.8h4M306 132.8h1M311 132.8h2M314 132.8h1M317 132.8h2M321 132.8h1M327 132.8h3M355 132.8h2M471 132.8h4M476 132.8h1M483 132.8h2M492 132.8h3M497 132.8h3M509 132.8h3M517 132.8h2M525 132.8h3M532 132.8h1M537 132.8h3M237 133.8h1M258 133.8h4M267 133.8h1M275 133.8h2M279 133.8h1M299 133.8h2M302 133.8h1M308 133.8h1M357 133.8h3M400 133.8h1M475 133.8h2M482 133.8h3M493 133.8h2M496 133.8h2M526 133.8h1M537 133.8h1M236 134.8h2M240 134.8h3M258 134.8h2M270 134.8h1M273 134.8h1M275 134.8h3M279 134.8h2M303 134.8h1M306 134.8h1M317 134.8h1M386 134.8h1M469 134.8h3M483 134.8h2M489 134.8h2M495 134.8h2M498 134.8h2M505 134.8h2M508 134.8h3M254 135.8h3M265 135.8h1M267 135.8h3M273 135.8h3M282 135.8h2M285 135.8h4M307 135.8h2M315 135.8h2M361 135.8h3M367 135.8h1M378 135.8h2M382 135.8h2M465 135.8h4M471 135.8h3M479 135.8h2M484 135.8h2M490 135.8h3M495 135.8h1M499 135.8h4M510 135.8h2M517 135.8h3M539 135.8h3M239 136.8h1M256 136.8h1M275 136.8h3M279 136.8h2M285 136.8h2M295 136.8h3M315 136.8h1M335 136.8h2M351 136.8h1M356 136.8h2M364 136.8h4M468 136.8h2M472 136.8h2M482 136.8h1M485 136.8h4M491 136.8h4M496 136.8h2M501 136.8h3M509 136.8h1M519 136.8h1M532 136.8h2M255 137.8h1M260 137.8h1M263 137.8h3M283 137.8h3M289 137.8h1M311 137.8h1M332 137.8h1M350 137.8h1M396 137.8h1M466 137.8h3M476 137.8h3M481 137.8h1M485 137.8h1M488 137.8h3M498 137.8h2M503 137.8h1M518 137.8h4M531 137.8h1M241 138.8h2M258 138.8h3M264 138.8h2M269 138.8h2M283 138.8h4M299 138.8h3M350 138.8h1M355 138.8h2M365 138.8h2M375 138.8h2M384 138.8h1M389 138.8h2M468 138.8h4M476 138.8h2M494 138.8h4M508 138.8h2M519 138.8h2M527 138.8h1M533 138.8h1M540 138.8h2M239 139.8h3M265 139.8h1M267 139.8h1M272 139.8h4M280 139.8h1M283 139.8h3M329 139.8h2M367 139.8h3M468 139.8h2M476 139.8h4M482 139.8h1M484 139.8h1M487 139.8h2M495 139.8h3M499 139.8h1M506 139.8h2M509 139.8h2M518 139.8h1M527 139.8h3M253 140.8h2M257 140.8h2M262 140.8h1M269 140.8h2M282 140.8h1M302 140.8h1M351 140.8h1M359 140.8h2M362 140.8h4M392 140.8h1M480 140.8h2M487 140.8h3M496 140.8h2M505 140.8h2M518 140.8h2M521 140.8h1M527 140.8h1M531 140.8h1M538 140.8h1M252 141.8h3M264 141.8h3M269 141.8h2M279 141.8h1M281 141.8h1M361 141.8h1M364 141.8h2M465 141.8h2M478 141.8h3M483 141.8h1M485 141.8h2M497 141.8h2M506 141.8h2M509 141.8h2M517 141.8h1M533 141.8h1M254 142.8h2M264 142.8h1M275 142.8h1M277 142.8h2M285 142.8h2M289 142.8h4M302 142.8h1M305 142.8h1M379 142.8h1M475 142.8h4M482 142.8h1M487 142.8h3M498 142.8h1M503 142.8h4M510 142.8h3M517 142.8h1M255 143.8h1M258 143.8h1M260 143.8h2M273 143.8h2M279 143.8h3M290 143.8h2M302 143.8h2M338 143.8h1M352 143.8h1M358 143.8h3M378 143.8h1M467 143.8h2M470 143.8h3M477 143.8h1M479 143.8h2M482 143.8h3M489 143.8h3M493 143.8h2M500 143.8h3M504 143.8h4M526 143.8h1M237 144.8h2M260 144.8h3M267 144.8h1M269 144.8h1M273 144.8h2M281 144.8h2M290 144.8h2M330 144.8h2M358 144.8h3M362 144.8h3M366 144.8h4M382 144.8h1M465 144.8h2M473 144.8h2M477 144.8h2M498 144.8h3M505 144.8h1M508 144.8h1M521 144.8h1M525 144.8h1M237 145.8h1M241 145.8h1M255 145.8h4M260 145.8h3M269 145.8h2M275 145.8h1M278 145.8h2M283 145.8h3M308 145.8h2M312 145.8h3M353 145.8h1M355 145.8h1M357 145.8h2M360 145.8h4M464 145.8h3M471 145.8h3M475 145.8h2M480 145.8h4M488 145.8h3M504 145.8h3M519 145.8h3M236 146.8h1M258 146.8h3M275 146.8h4M282 146.8h3M295 146.8h1M304 146.8h2M317 146.8h2M353 146.8h3M361 146.8h1M367 146.8h2M373 146.8h1M388 146.8h3M467 146.8h3M477 146.8h4M490 146.8h1M492 146.8h3M502 146.8h1M504 146.8h4M255 147.8h1M259 147.8h1M261 147.8h3M267 147.8h3M285 147.8h4M317 147.8h1M334 147.8h3M363 147.8h3M472 147.8h4M493 147.8h1M497 147.8h2M509 147.8h1M518 147.8h3M537 147.8h2M242 148.8h1M260 148.8h1M264 148.8h3M273 148.8h2M278 148.8h4M290 148.8h3M300 148.8h1M311 148.8h1M316 148.8h2M360 148.8h2M366 148.8h2M382 148.8h1M391 148.8h1M489 148.8h4M495 148.8h2M499 148.8h4M519 148.8h4M524 148.8h1M526 148.8h1M531 148.8h2M254 149.8h2M259 149.8h1M267 149.8h4M273 149.8h3M300 149.8h1M318 149.8h2M356 149.8h2M364 149.8h4M470 149.8h3M476 149.8h2M481 149.8h1M490 149.8h2M497 149.8h2M505 149.8h3M509 149.8h2M521 149.8h3M253 150.8h3M259 150.8h2M265 150.8h1M277 150.8h3M311 150.8h1M316 150.8h3M330 150.8h1M334 150.8h1M357 150.8h3M466 150.8h3M488 150.8h2M495 150.8h1M501 150.8h2M504 150.8h2M508 150.8h1M521 150.8h1M525 150.8h1M240 151.8h1M243 151.8h1M254 151.8h3M263 151.8h2M267 151.8h2M273 151.8h2M276 151.8h2M284 151.8h2M310 151.8h1M336 151.8h1M356 151.8h2M360 151.8h1M362 151.8h2M365 151.8h4M373 151.8h1M376 151.8h1M467 151.8h1M485 151.8h3M491 151.8h2M495 151.8h3M506 151.8h2M519 151.8h4M239 152.8h1M259 152.8h1M265 152.8h4M278 152.8h1M289 152.8h4M301 152.8h2M313 152.8h1M376 152.8h2M475 152.8h3M479 152.8h2M496 152.8h3M504 152.8h4M509 152.8h3M517 152.8h1M253 153.8h1M258 153.8h2M265 153.8h2M274 153.8h4M286 153.8h1M289 153.8h4M304 153.8h2M356 153.8h3M363 153.8h1M385 153.8h1M469 153.8h4M474 153.8h2M481 153.8h2M485 153.8h1M487 153.8h2M501 153.8h2M257 154.8h1M262 154.8h3M274 154.8h1M277 154.8h4M282 154.8h2M357 154.8h3M362 154.8h3M374 154.8h3M469 154.8h2M474 154.8h1M477 154.8h3M494 154.8h1M497 154.8h2M500 154.8h2M503 154.8h2M509 154.8h2M524 154.8h1M537 154.8h2M236 155.8h1M238 155.8h1M244 155.8h1M265 155.8h4M274 155.8h1M298 155.8h1M329 155.8h1M373 155.8h2M469 155.8h3M496 155.8h3M504 155.8h3M510 155.8h2M517 155.8h2M523 155.8h1M245 156.8h1M261 156.8h3M274 156.8h2M284 156.8h1M317 156.8h3M337 156.8h2M363 156.8h3M373 156.8h1M386 156.8h2M392 156.8h1M476 156.8h3M482 156.8h2M487 156.8h2M493 156.8h3M497 156.8h2M502 156.8h1M508 156.8h4M538 156.8h3M254 157.8h1M258 157.8h4M273 157.8h3M281 157.8h2M355 157.8h2M358 157.8h2M376 157.8h3M381 157.8h1M386 157.8h1M476 157.8h2M483 157.8h4M495 157.8h2M502 157.8h2M252 158.8h2M258 158.8h1M262 158.8h2M267 158.8h4M276 158.8h4M289 158.8h3M306 158.8h2M336 158.8h2M362 158.8h2M373 158.8h1M386 158.8h1M473 158.8h2M477 158.8h4M486 158.8h3M496 158.8h4M506 158.8h2M520 158.8h1M523 158.8h2M254 159.8h2M262 159.8h4M268 159.8h4M273 159.8h4M281 159.8h2M289 159.8h1M356 159.8h1M363 159.8h2M366 159.8h2M373 159.8h1M472 159.8h4M478 159.8h3M488 159.8h3M499 159.8h1M502 159.8h2M505 159.8h1M533 159.8h3M240 160.8h1M244 160.8h1M260 160.8h3M273 160.8h2M282 160.8h4M312 160.8h2M322 160.8h3M355 160.8h2M364 160.8h2M367 160.8h2M383 160.8h2M471 160.8h2M479 160.8h4M491 160.8h3M498 160.8h2M519 160.8h2M539 160.8h2M252 161.8h2M256 161.8h1M258 161.8h2M262 161.8h2M273 161.8h2M285 161.8h3M305 161.8h1M357 161.8h1M364 161.8h3M470 161.8h1M475 161.8h2M481 161.8h1M488 161.8h2M493 161.8h3M500 161.8h3M527 161.8h1M258 162.8h2M275 162.8h2M281 162.8h1M283 162.8h3M322 162.8h2M339 162.8h1M358 162.8h2M386 162.8h1M390 162.8h1M479 162.8h4M491 162.8h2M494 162.8h3M501 162.8h4M518 162.8h2M533 162.8h2M537 162.8h2M252 163.8h2M257 163.8h3M261 163.8h1M265 163.8h2M275 163.8h2M278 163.8h2M281 163.8h3M290 163.8h3M315 163.8h1M360 163.8h2M472 163.8h2M477 163.8h1M479 163.8h1M487 163.8h2M490 163.8h4M518 163.8h3M527 163.8h1M243 164.8h3M263 164.8h2M267 164.8h2M274 164.8h1M276 164.8h1M279 164.8h2M289 164.8h3M300 164.8h2M358 164.8h4M366 164.8h2M373 164.8h3M383 164.8h2M476 164.8h1M478 164.8h1M485 164.8h1M488 164.8h3M498 164.8h2M537 164.8h1M255 165.8h1M257 165.8h3M261 165.8h3M274 165.8h1M283 165.8h2M286 165.8h3M290 165.8h2M297 165.8h3M316 165.8h2M321 165.8h1M337 165.8h2M373 165.8h1M390 165.8h3M475 165.8h1M483 165.8h1M488 165.8h1M491 165.8h1M493 165.8h2M502 165.8h3M526 165.8h1M537 165.8h1M252 166.8h3M256 166.8h2M277 166.8h2M290 166.8h3M324 166.8h1M339 166.8h1M355 166.8h3M360 166.8h4M471 166.8h1M474 166.8h2M478 166.8h1M486 166.8h2M490 166.8h2M495 166.8h2M522 166.8h1M526 166.8h2M260 167.8h3M267 167.8h2M274 167.8h2M277 167.8h3M306 167.8h3M364 167.8h4M379 167.8h2M385 167.8h1M482 167.8h4M488 167.8h3M527 167.8h1M258 168.8h2M267 168.8h4M311 168.8h1M324 168.8h1M340 168.8h1M363 168.8h2M366 168.8h4M373 168.8h2M379 168.8h3M472 168.8h4M478 168.8h2M486 168.8h2M492 168.8h1M494 168.8h2M498 168.8h4M505 168.8h1M517 168.8h1M253 169.8h2M256 169.8h1M273 169.8h1M283 169.8h3M296 169.8h1M309 169.8h1M325 169.8h1M367 169.8h2M373 169.8h3M470 169.8h1M478 169.8h2M484 169.8h1M488 169.8h2M493 169.8h3M497 169.8h2M500 169.8h1M517 169.8h4M254 170.8h2M258 170.8h4M275 170.8h1M280 170.8h3M286 170.8h2M314 170.8h1M338 170.8h1M355 170.8h3M363 170.8h2M373 170.8h1M384 170.8h3M472 170.8h1M484 170.8h2M488 170.8h4M496 170.8h1M520 170.8h1M540 170.8h1M252 171.8h1M257 171.8h1M277 171.8h2M283 171.8h3M297 171.8h2M323 171.8h1M333 171.8h1M366 171.8h1M373 171.8h1M475 171.8h2M478 171.8h4M483 171.8h2M506 171.8h1M525 171.8h3M254 172.8h2M259 172.8h3M263 172.8h3M281 172.8h2M309 172.8h2M332 172.8h2M339 172.8h2M355 172.8h2M359 172.8h3M364 172.8h2M374 172.8h2M380 172.8h1M476 172.8h1M484 172.8h3M493 172.8h4M503 172.8h2M506 172.8h2M517 172.8h1M531 172.8h1M254 173.8h2M257 173.8h1M260 173.8h4M266 173.8h1M275 173.8h2M279 173.8h4M290 173.8h2M301 173.8h3M356 173.8h2M359 173.8h3M367 173.8h1M379 173.8h3M471 173.8h2M474 173.8h2M481 173.8h1M490 173.8h3M496 173.8h3M504 173.8h1M527 173.8h3M537 173.8h1M255 174.8h1M259 174.8h2M263 174.8h2M273 174.8h1M278 174.8h1M290 174.8h1M311 174.8h2M323 174.8h1M327 174.8h2M357 174.8h3M361 174.8h4M374 174.8h1M473 174.8h1M476 174.8h2M483 174.8h2M490 174.8h3M501 174.8h2M505 174.8h3M531 174.8h1M261 175.8h1M283 175.8h2M294 175.8h1M299 175.8h1M305 175.8h3M313 175.8h1M324 175.8h1M336 175.8h2M374 175.8h3M482 175.8h1M492 175.8h2M500 175.8h4M258 176.8h2M261 176.8h1M264 176.8h3M268 176.8h3M282 176.8h2M316 176.8h1M332 176.8h2M361 176.8h3M365 176.8h2M486 176.8h3M495 176.8h4M501 176.8h2M518 176.8h3M260 177.8h3M265 177.8h1M273 177.8h3M280 177.8h2M286 177.8h3M308 177.8h1M311 177.8h1M358 177.8h3M472 177.8h2M477 177.8h2M482 177.8h1M486 177.8h2M491 177.8h3M500 177.8h1M503 177.8h1M519 177.8h1M538 177.8h1M255 178.8h4M261 178.8h1M282 178.8h2M286 178.8h2M301 178.8h3M312 178.8h1M318 178.8h1M355 178.8h2M373 178.8h2M380 178.8h1M475 178.8h1M479 178.8h4M487 178.8h3M492 178.8h2M501 178.8h2M505 178.8h3M517 178.8h2M523 178.8h1M526 178.8h1M531 178.8h3"/>
</g>
<g font-size="13.9px"><text x="74.2" y="255.6" text-anchor="end">0</text><text x="74.2" y="292.5" text-anchor="end">50</text><text x="74.2" y="329.5" text-anchor="end">100</text><text x="74.2" y="366.4" text-anchor="end">150</text><text x="74.2" y="403.3" text-anchor="end">200</text><text x="77.2" y="417.6" text-anchor="middle">0</text><text x="138.2" y="417.6" text-anchor="middle">50</text><text x="199.2" y="417.6" text-anchor="middle">100</text><text x="260.2" y="417.6" text-anchor="middle">150</text><text x="321.1" y="417.6" text-anchor="middle">200</text><text x="382.1" y="417.6" text-anchor="middle">250</text><text x="443.1" y="417.6" text-anchor="middle">300</text><text x="504.1" y="417.6" text-anchor="middle">350</text></g><text transform="translate(44.5,328.0) rotate(-90)" text-anchor="middle" font-size="14.2px">Depth,(m)</text>
<text x="119.3" y="240.6" font-size="14.85px" style="word-spacing:1.87px">Salinity: Full data set (scatter plot, every 20th point used)</text>
<text x="263.3" y="434.9" font-size="14.3px" style="word-spacing:1.7px">Distance, (km)</text>
</svg></body></html>
